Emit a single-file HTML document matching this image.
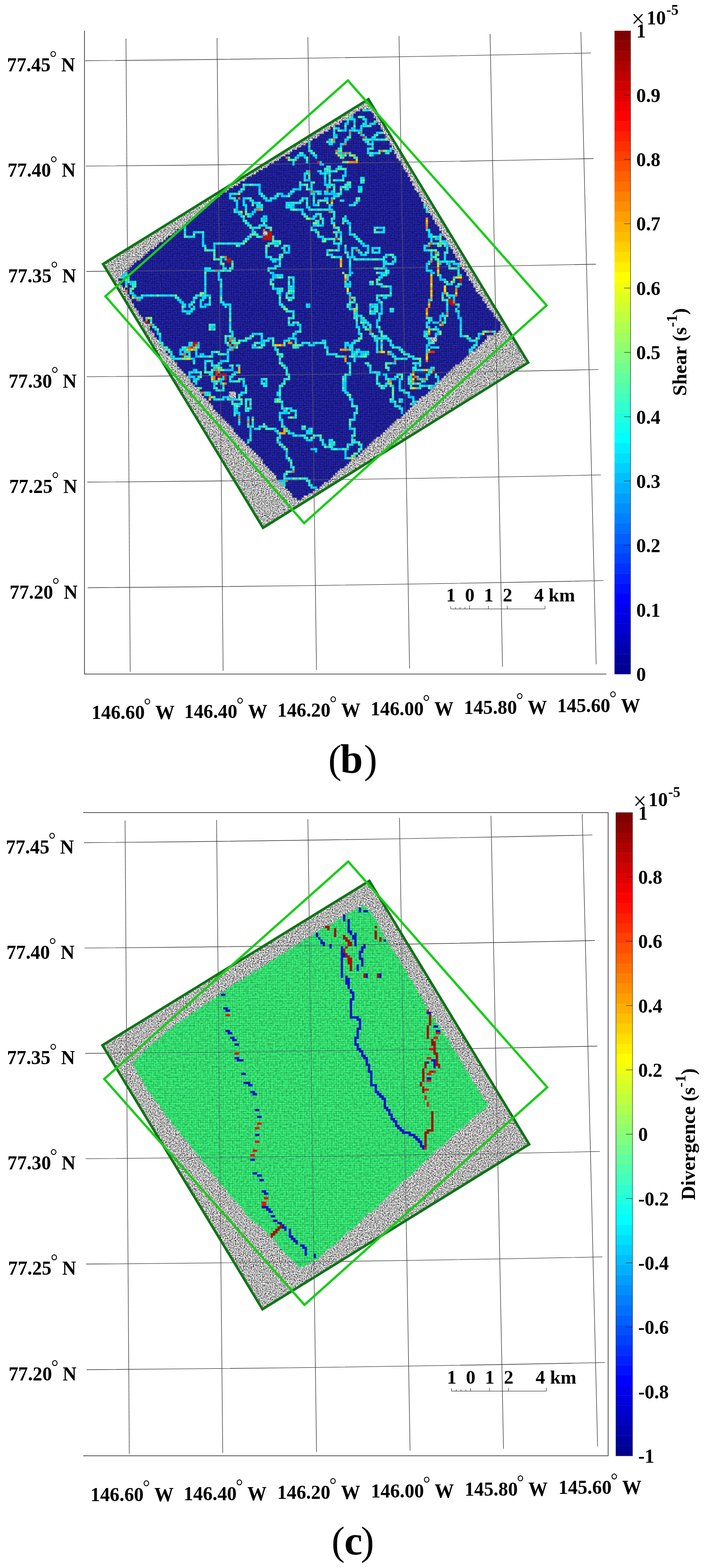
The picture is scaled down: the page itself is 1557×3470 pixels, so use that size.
<!DOCTYPE html>
<html lang="en"><head><meta charset="utf-8"><title>Sea ice shear and divergence maps</title>
<style>html,body{margin:0;padding:0;background:#fff}body{width:1557px;height:3470px;overflow:hidden}svg{display:block}text{font-family:"Liberation Serif", "DejaVu Serif", serif;fill:#000}</style>
</head><body>
<svg width="1557" height="3470" viewBox="0 0 1557 3470">
<defs>
<filter id="sar" x="0" y="0" width="100%" height="100%" color-interpolation-filters="sRGB"><feTurbulence type="fractalNoise" baseFrequency="0.4" numOctaves="3" seed="7" result="n"/><feColorMatrix in="n" type="matrix" values="1.3 1.3 0 0 -0.6  1.3 1.3 0 0 -0.6  1.3 1.3 0 0 -0.6  0 0 0 0 1"/><feComposite in2="SourceGraphic" operator="in"/></filter>
<filter id="tex-b" x="0" y="0" width="100%" height="100%" color-interpolation-filters="sRGB"><feTurbulence type="fractalNoise" baseFrequency="0.3" numOctaves="2" seed="11" result="n"/><feColorMatrix in="n" type="matrix" values="0 0 0 0 0  0 0 0 0 0  0 0 0 0 0  0.85 0 0 0 -0.27"/><feComposite in2="SourceGraphic" operator="in"/></filter>
<filter id="tex-c" x="0" y="0" width="100%" height="100%" color-interpolation-filters="sRGB"><feTurbulence type="fractalNoise" baseFrequency="0.22" numOctaves="2" seed="11" result="n"/><feColorMatrix in="n" type="matrix" values="0 0 0 0 0  0 0 0 0 0  0 0 0 0 0  0.55 0 0 0 -0.19"/><feComposite in2="SourceGraphic" operator="in"/></filter>
<pattern id="grid-b" x="1.6" y="1.6" width="5" height="5" patternUnits="userSpaceOnUse"><path d="M0 0.5H5M0.5 0V5" stroke="#00005a" stroke-opacity="0.45" stroke-width="1" fill="none"/></pattern>
<pattern id="grid-c" x="3.6" y="4.0" width="5" height="5" patternUnits="userSpaceOnUse"><path d="M0 0.5H5M0.5 0V5" stroke="#0a6a34" stroke-opacity="0.32" stroke-width="1" fill="none"/></pattern>
</defs>
<rect width="1557" height="3470" fill="#fff"/>
<g id="panel-b">
<g stroke="#262626" stroke-width="1.1" fill="none"><line x1="278.6" y1="85.3" x2="288" y2="1486.8"/><line x1="480" y1="84.3" x2="493.5" y2="1484.8"/><line x1="680.9" y1="82.2" x2="700" y2="1482.7"/><line x1="882.5" y1="79.6" x2="905.8" y2="1479.6"/><line x1="1083.9" y1="74.9" x2="1111.4" y2="1475.4"/><line x1="1284.7" y1="70.8" x2="1318.5" y2="1470.2"/><path d="M188.4 134.4Q747.7 129.8 1307 117.3"/><path d="M189.5 367.5Q751 363.2 1312.5 350.9"/><path d="M190.7 600.6Q754.2 596.6 1317.8 584.6"/><path d="M191.8 833.7Q757.6 829.8 1323.5 817.8"/><path d="M193 1066.9Q761 1063 1329 1051"/><path d="M194.1 1300.6Q764.3 1296.7 1334.5 1284.8"/></g>
<polygon points="814.8,219.5 1168.2,802.4 581.7,1168 228,584.3" fill="#d8d8d8"/>
<polygon points="814.8,219.5 1168.2,802.4 581.7,1168 228,584.3" fill="#fff" filter="url(#sar)"/>
<clipPath id="clip-sar-b"><polygon points="814.8,219.5 1168.2,802.4 581.7,1168 228,584.3"/></clipPath>
<g stroke="#303030" stroke-opacity="0.7" stroke-width="1" fill="none" clip-path="url(#clip-sar-b)"><line x1="278.6" y1="85.3" x2="288" y2="1486.8"/><line x1="480" y1="84.3" x2="493.5" y2="1484.8"/><line x1="680.9" y1="82.2" x2="700" y2="1482.7"/><line x1="882.5" y1="79.6" x2="905.8" y2="1479.6"/><line x1="1083.9" y1="74.9" x2="1111.4" y2="1475.4"/><line x1="1284.7" y1="70.8" x2="1318.5" y2="1470.2"/><path d="M188.4 134.4Q747.7 129.8 1307 117.3"/><path d="M189.5 367.5Q751 363.2 1312.5 350.9"/><path d="M190.7 600.6Q754.2 596.6 1317.8 584.6"/><path d="M191.8 833.7Q757.6 829.8 1323.5 817.8"/><path d="M193 1066.9Q761 1063 1329 1051"/><path d="M194.1 1300.6Q764.3 1296.7 1334.5 1284.8"/></g>
<path d="M796.6 241.6h20.0v5.0h-20.0zM786.6 246.6h35.0v5.0h-35.0zM781.6 251.6h45.0v5.0h-45.0zM771.6 256.6h55.0v5.0h-55.0zM766.6 261.6h65.0v5.0h-65.0zM756.6 266.6h75.0v5.0h-75.0zM751.6 271.6h85.0v5.0h-85.0zM741.6 276.6h100.0v5.0h-100.0zM731.6 281.6h110.0v5.0h-110.0zM726.6 286.6h120.0v5.0h-120.0zM716.6 291.6h130.0v5.0h-130.0zM706.6 296.6h145.0v5.0h-145.0zM701.6 301.6h150.0v5.0h-150.0zM691.6 306.6h165.0v5.0h-165.0zM681.6 311.6h180.0v5.0h-180.0zM676.6 316.6h185.0v5.0h-185.0zM666.6 321.6h200.0v5.0h-200.0zM656.6 326.6h210.0v5.0h-210.0zM646.6 331.6h225.0v5.0h-225.0zM641.6 336.6h230.0v5.0h-230.0zM631.6 341.6h245.0v5.0h-245.0zM621.6 346.6h255.0v5.0h-255.0zM616.6 351.6h265.0v5.0h-265.0zM606.6 356.6h280.0v5.0h-280.0zM596.6 361.6h290.0v5.0h-290.0zM591.6 366.6h300.0v5.0h-300.0zM581.6 371.6h310.0v5.0h-310.0zM571.6 376.6h325.0v5.0h-325.0zM566.6 381.6h335.0v5.0h-335.0zM556.6 386.6h345.0v5.0h-345.0zM546.6 391.6h360.0v5.0h-360.0zM541.6 396.6h365.0v5.0h-365.0zM531.6 401.6h380.0v5.0h-380.0zM526.6 406.6h385.0v5.0h-385.0zM516.6 411.6h400.0v5.0h-400.0zM506.6 416.6h410.0v5.0h-410.0zM501.6 421.6h420.0v5.0h-420.0zM491.6 426.6h435.0v5.0h-435.0zM486.6 431.6h440.0v5.0h-440.0zM476.6 436.6h455.0v5.0h-455.0zM471.6 441.6h460.0v5.0h-460.0zM466.6 446.6h470.0v5.0h-470.0zM461.6 451.6h480.0v5.0h-480.0zM456.6 456.6h485.0v5.0h-485.0zM446.6 461.6h500.0v5.0h-500.0zM441.6 466.6h505.0v5.0h-505.0zM436.6 471.6h515.0v5.0h-515.0zM431.6 476.6h525.0v5.0h-525.0zM426.6 481.6h530.0v5.0h-530.0zM416.6 486.6h545.0v5.0h-545.0zM411.6 491.6h550.0v5.0h-550.0zM406.6 496.6h560.0v5.0h-560.0zM401.6 501.6h570.0v5.0h-570.0zM391.6 506.6h580.0v5.0h-580.0zM386.6 511.6h590.0v5.0h-590.0zM381.6 516.6h595.0v5.0h-595.0zM371.6 521.6h610.0v5.0h-610.0zM366.6 526.6h620.0v5.0h-620.0zM361.6 531.6h625.0v5.0h-625.0zM351.6 536.6h640.0v5.0h-640.0zM346.6 541.6h645.0v5.0h-645.0zM341.6 546.6h655.0v5.0h-655.0zM331.6 551.6h670.0v5.0h-670.0zM326.6 556.6h675.0v5.0h-675.0zM321.6 561.6h685.0v5.0h-685.0zM316.6 566.6h690.0v5.0h-690.0zM311.6 571.6h700.0v5.0h-700.0zM301.6 576.6h715.0v5.0h-715.0zM296.6 581.6h720.0v5.0h-720.0zM291.6 586.6h730.0v5.0h-730.0zM286.6 591.6h735.0v5.0h-735.0zM281.6 596.6h745.0v5.0h-745.0zM276.6 601.6h755.0v5.0h-755.0zM271.6 606.6h760.0v5.0h-760.0zM266.6 611.6h770.0v5.0h-770.0zM261.6 616.6h775.0v5.0h-775.0zM266.6 621.6h775.0v5.0h-775.0zM266.6 626.6h780.0v5.0h-780.0zM271.6 631.6h775.0v5.0h-775.0zM276.6 636.6h775.0v5.0h-775.0zM276.6 641.6h775.0v5.0h-775.0zM281.6 646.6h775.0v5.0h-775.0zM286.6 651.6h775.0v5.0h-775.0zM286.6 656.6h780.0v5.0h-780.0zM291.6 661.6h775.0v5.0h-775.0zM291.6 666.6h780.0v5.0h-780.0zM296.6 671.6h780.0v5.0h-780.0zM296.6 676.6h780.0v5.0h-780.0zM301.6 681.6h780.0v5.0h-780.0zM306.6 686.6h780.0v5.0h-780.0zM306.6 691.6h785.0v5.0h-785.0zM311.6 696.6h780.0v5.0h-780.0zM316.6 701.6h780.0v5.0h-780.0zM316.6 706.6h785.0v5.0h-785.0zM321.6 711.6h785.0v5.0h-785.0zM326.6 716.6h780.0v5.0h-780.0zM331.6 721.6h775.0v5.0h-775.0zM331.6 726.6h775.0v5.0h-775.0zM336.6 731.6h765.0v5.0h-765.0zM341.6 736.6h750.0v5.0h-750.0zM341.6 741.6h735.0v5.0h-735.0zM346.6 746.6h730.0v5.0h-730.0zM351.6 751.6h720.0v5.0h-720.0zM351.6 756.6h715.0v5.0h-715.0zM356.6 761.6h705.0v5.0h-705.0zM361.6 766.6h695.0v5.0h-695.0zM366.6 771.6h685.0v5.0h-685.0zM366.6 776.6h675.0v5.0h-675.0zM371.6 781.6h665.0v5.0h-665.0zM376.6 786.6h655.0v5.0h-655.0zM381.6 791.6h645.0v5.0h-645.0zM386.6 796.6h635.0v5.0h-635.0zM391.6 801.6h625.0v5.0h-625.0zM391.6 806.6h615.0v5.0h-615.0zM396.6 811.6h605.0v5.0h-605.0zM401.6 816.6h595.0v5.0h-595.0zM406.6 821.6h585.0v5.0h-585.0zM411.6 826.6h575.0v5.0h-575.0zM416.6 831.6h565.0v5.0h-565.0zM421.6 836.6h555.0v5.0h-555.0zM421.6 841.6h550.0v5.0h-550.0zM426.6 846.6h540.0v5.0h-540.0zM431.6 851.6h530.0v5.0h-530.0zM436.6 856.6h520.0v5.0h-520.0zM441.6 861.6h510.0v5.0h-510.0zM446.6 866.6h500.0v5.0h-500.0zM446.6 871.6h495.0v5.0h-495.0zM451.6 876.6h480.0v5.0h-480.0zM456.6 881.6h470.0v5.0h-470.0zM461.6 886.6h460.0v5.0h-460.0zM466.6 891.6h450.0v5.0h-450.0zM471.6 896.6h440.0v5.0h-440.0zM471.6 901.6h435.0v5.0h-435.0zM476.6 906.6h425.0v5.0h-425.0zM481.6 911.6h415.0v5.0h-415.0zM486.6 916.6h405.0v5.0h-405.0zM491.6 921.6h395.0v5.0h-395.0zM496.6 926.6h380.0v5.0h-380.0zM501.6 931.6h370.0v5.0h-370.0zM506.6 936.6h360.0v5.0h-360.0zM511.6 941.6h350.0v5.0h-350.0zM516.6 946.6h340.0v5.0h-340.0zM516.6 951.6h335.0v5.0h-335.0zM521.6 956.6h325.0v5.0h-325.0zM526.6 961.6h315.0v5.0h-315.0zM531.6 966.6h300.0v5.0h-300.0zM536.6 971.6h290.0v5.0h-290.0zM541.6 976.6h280.0v5.0h-280.0zM546.6 981.6h270.0v5.0h-270.0zM551.6 986.6h260.0v5.0h-260.0zM556.6 991.6h250.0v5.0h-250.0zM561.6 996.6h240.0v5.0h-240.0zM566.6 1001.6h230.0v5.0h-230.0zM571.6 1006.6h220.0v5.0h-220.0zM576.6 1011.6h205.0v5.0h-205.0zM581.6 1016.6h195.0v5.0h-195.0zM581.6 1021.6h190.0v5.0h-190.0zM586.6 1026.6h180.0v5.0h-180.0zM591.6 1031.6h170.0v5.0h-170.0zM596.6 1036.6h155.0v5.0h-155.0zM601.6 1041.6h145.0v5.0h-145.0zM606.6 1046.6h135.0v5.0h-135.0zM611.6 1051.6h125.0v5.0h-125.0zM611.6 1056.6h120.0v5.0h-120.0zM616.6 1061.6h110.0v5.0h-110.0zM621.6 1066.6h95.0v5.0h-95.0zM626.6 1071.6h85.0v5.0h-85.0zM631.6 1076.6h75.0v5.0h-75.0zM636.6 1081.6h60.0v5.0h-60.0zM641.6 1086.6h50.0v5.0h-50.0zM646.6 1091.6h35.0v5.0h-35.0zM646.6 1096.6h25.0v5.0h-25.0zM656.6 1101.6h10.0v5.0h-10.0z" fill="#2a2abc"/>
<path d="M796.6 241.6h20.0v5.0h-20.0zM786.6 246.6h35.0v5.0h-35.0zM781.6 251.6h45.0v5.0h-45.0zM771.6 256.6h55.0v5.0h-55.0zM766.6 261.6h65.0v5.0h-65.0zM756.6 266.6h75.0v5.0h-75.0zM751.6 271.6h85.0v5.0h-85.0zM741.6 276.6h100.0v5.0h-100.0zM731.6 281.6h110.0v5.0h-110.0zM726.6 286.6h120.0v5.0h-120.0zM716.6 291.6h130.0v5.0h-130.0zM706.6 296.6h145.0v5.0h-145.0zM701.6 301.6h150.0v5.0h-150.0zM691.6 306.6h165.0v5.0h-165.0zM681.6 311.6h180.0v5.0h-180.0zM676.6 316.6h185.0v5.0h-185.0zM666.6 321.6h200.0v5.0h-200.0zM656.6 326.6h210.0v5.0h-210.0zM646.6 331.6h225.0v5.0h-225.0zM641.6 336.6h230.0v5.0h-230.0zM631.6 341.6h245.0v5.0h-245.0zM621.6 346.6h255.0v5.0h-255.0zM616.6 351.6h265.0v5.0h-265.0zM606.6 356.6h280.0v5.0h-280.0zM596.6 361.6h290.0v5.0h-290.0zM591.6 366.6h300.0v5.0h-300.0zM581.6 371.6h310.0v5.0h-310.0zM571.6 376.6h325.0v5.0h-325.0zM566.6 381.6h335.0v5.0h-335.0zM556.6 386.6h345.0v5.0h-345.0zM546.6 391.6h360.0v5.0h-360.0zM541.6 396.6h365.0v5.0h-365.0zM531.6 401.6h380.0v5.0h-380.0zM526.6 406.6h385.0v5.0h-385.0zM516.6 411.6h400.0v5.0h-400.0zM506.6 416.6h410.0v5.0h-410.0zM501.6 421.6h420.0v5.0h-420.0zM491.6 426.6h435.0v5.0h-435.0zM486.6 431.6h440.0v5.0h-440.0zM476.6 436.6h455.0v5.0h-455.0zM471.6 441.6h460.0v5.0h-460.0zM466.6 446.6h470.0v5.0h-470.0zM461.6 451.6h480.0v5.0h-480.0zM456.6 456.6h485.0v5.0h-485.0zM446.6 461.6h500.0v5.0h-500.0zM441.6 466.6h505.0v5.0h-505.0zM436.6 471.6h515.0v5.0h-515.0zM431.6 476.6h525.0v5.0h-525.0zM426.6 481.6h530.0v5.0h-530.0zM416.6 486.6h545.0v5.0h-545.0zM411.6 491.6h550.0v5.0h-550.0zM406.6 496.6h560.0v5.0h-560.0zM401.6 501.6h570.0v5.0h-570.0zM391.6 506.6h580.0v5.0h-580.0zM386.6 511.6h590.0v5.0h-590.0zM381.6 516.6h595.0v5.0h-595.0zM371.6 521.6h610.0v5.0h-610.0zM366.6 526.6h620.0v5.0h-620.0zM361.6 531.6h625.0v5.0h-625.0zM351.6 536.6h640.0v5.0h-640.0zM346.6 541.6h645.0v5.0h-645.0zM341.6 546.6h655.0v5.0h-655.0zM331.6 551.6h670.0v5.0h-670.0zM326.6 556.6h675.0v5.0h-675.0zM321.6 561.6h685.0v5.0h-685.0zM316.6 566.6h690.0v5.0h-690.0zM311.6 571.6h700.0v5.0h-700.0zM301.6 576.6h715.0v5.0h-715.0zM296.6 581.6h720.0v5.0h-720.0zM291.6 586.6h730.0v5.0h-730.0zM286.6 591.6h735.0v5.0h-735.0zM281.6 596.6h745.0v5.0h-745.0zM276.6 601.6h755.0v5.0h-755.0zM271.6 606.6h760.0v5.0h-760.0zM266.6 611.6h770.0v5.0h-770.0zM261.6 616.6h775.0v5.0h-775.0zM266.6 621.6h775.0v5.0h-775.0zM266.6 626.6h780.0v5.0h-780.0zM271.6 631.6h775.0v5.0h-775.0zM276.6 636.6h775.0v5.0h-775.0zM276.6 641.6h775.0v5.0h-775.0zM281.6 646.6h775.0v5.0h-775.0zM286.6 651.6h775.0v5.0h-775.0zM286.6 656.6h780.0v5.0h-780.0zM291.6 661.6h775.0v5.0h-775.0zM291.6 666.6h780.0v5.0h-780.0zM296.6 671.6h780.0v5.0h-780.0zM296.6 676.6h780.0v5.0h-780.0zM301.6 681.6h780.0v5.0h-780.0zM306.6 686.6h780.0v5.0h-780.0zM306.6 691.6h785.0v5.0h-785.0zM311.6 696.6h780.0v5.0h-780.0zM316.6 701.6h780.0v5.0h-780.0zM316.6 706.6h785.0v5.0h-785.0zM321.6 711.6h785.0v5.0h-785.0zM326.6 716.6h780.0v5.0h-780.0zM331.6 721.6h775.0v5.0h-775.0zM331.6 726.6h775.0v5.0h-775.0zM336.6 731.6h765.0v5.0h-765.0zM341.6 736.6h750.0v5.0h-750.0zM341.6 741.6h735.0v5.0h-735.0zM346.6 746.6h730.0v5.0h-730.0zM351.6 751.6h720.0v5.0h-720.0zM351.6 756.6h715.0v5.0h-715.0zM356.6 761.6h705.0v5.0h-705.0zM361.6 766.6h695.0v5.0h-695.0zM366.6 771.6h685.0v5.0h-685.0zM366.6 776.6h675.0v5.0h-675.0zM371.6 781.6h665.0v5.0h-665.0zM376.6 786.6h655.0v5.0h-655.0zM381.6 791.6h645.0v5.0h-645.0zM386.6 796.6h635.0v5.0h-635.0zM391.6 801.6h625.0v5.0h-625.0zM391.6 806.6h615.0v5.0h-615.0zM396.6 811.6h605.0v5.0h-605.0zM401.6 816.6h595.0v5.0h-595.0zM406.6 821.6h585.0v5.0h-585.0zM411.6 826.6h575.0v5.0h-575.0zM416.6 831.6h565.0v5.0h-565.0zM421.6 836.6h555.0v5.0h-555.0zM421.6 841.6h550.0v5.0h-550.0zM426.6 846.6h540.0v5.0h-540.0zM431.6 851.6h530.0v5.0h-530.0zM436.6 856.6h520.0v5.0h-520.0zM441.6 861.6h510.0v5.0h-510.0zM446.6 866.6h500.0v5.0h-500.0zM446.6 871.6h495.0v5.0h-495.0zM451.6 876.6h480.0v5.0h-480.0zM456.6 881.6h470.0v5.0h-470.0zM461.6 886.6h460.0v5.0h-460.0zM466.6 891.6h450.0v5.0h-450.0zM471.6 896.6h440.0v5.0h-440.0zM471.6 901.6h435.0v5.0h-435.0zM476.6 906.6h425.0v5.0h-425.0zM481.6 911.6h415.0v5.0h-415.0zM486.6 916.6h405.0v5.0h-405.0zM491.6 921.6h395.0v5.0h-395.0zM496.6 926.6h380.0v5.0h-380.0zM501.6 931.6h370.0v5.0h-370.0zM506.6 936.6h360.0v5.0h-360.0zM511.6 941.6h350.0v5.0h-350.0zM516.6 946.6h340.0v5.0h-340.0zM516.6 951.6h335.0v5.0h-335.0zM521.6 956.6h325.0v5.0h-325.0zM526.6 961.6h315.0v5.0h-315.0zM531.6 966.6h300.0v5.0h-300.0zM536.6 971.6h290.0v5.0h-290.0zM541.6 976.6h280.0v5.0h-280.0zM546.6 981.6h270.0v5.0h-270.0zM551.6 986.6h260.0v5.0h-260.0zM556.6 991.6h250.0v5.0h-250.0zM561.6 996.6h240.0v5.0h-240.0zM566.6 1001.6h230.0v5.0h-230.0zM571.6 1006.6h220.0v5.0h-220.0zM576.6 1011.6h205.0v5.0h-205.0zM581.6 1016.6h195.0v5.0h-195.0zM581.6 1021.6h190.0v5.0h-190.0zM586.6 1026.6h180.0v5.0h-180.0zM591.6 1031.6h170.0v5.0h-170.0zM596.6 1036.6h155.0v5.0h-155.0zM601.6 1041.6h145.0v5.0h-145.0zM606.6 1046.6h135.0v5.0h-135.0zM611.6 1051.6h125.0v5.0h-125.0zM611.6 1056.6h120.0v5.0h-120.0zM616.6 1061.6h110.0v5.0h-110.0zM621.6 1066.6h95.0v5.0h-95.0zM626.6 1071.6h85.0v5.0h-85.0zM631.6 1076.6h75.0v5.0h-75.0zM636.6 1081.6h60.0v5.0h-60.0zM641.6 1086.6h50.0v5.0h-50.0zM646.6 1091.6h35.0v5.0h-35.0zM646.6 1096.6h25.0v5.0h-25.0zM656.6 1101.6h10.0v5.0h-10.0z" fill="url(#grid-b)"/>
<path d="M796.6 241.6h20.0v5.0h-20.0zM786.6 246.6h35.0v5.0h-35.0zM781.6 251.6h45.0v5.0h-45.0zM771.6 256.6h55.0v5.0h-55.0zM766.6 261.6h65.0v5.0h-65.0zM756.6 266.6h75.0v5.0h-75.0zM751.6 271.6h85.0v5.0h-85.0zM741.6 276.6h100.0v5.0h-100.0zM731.6 281.6h110.0v5.0h-110.0zM726.6 286.6h120.0v5.0h-120.0zM716.6 291.6h130.0v5.0h-130.0zM706.6 296.6h145.0v5.0h-145.0zM701.6 301.6h150.0v5.0h-150.0zM691.6 306.6h165.0v5.0h-165.0zM681.6 311.6h180.0v5.0h-180.0zM676.6 316.6h185.0v5.0h-185.0zM666.6 321.6h200.0v5.0h-200.0zM656.6 326.6h210.0v5.0h-210.0zM646.6 331.6h225.0v5.0h-225.0zM641.6 336.6h230.0v5.0h-230.0zM631.6 341.6h245.0v5.0h-245.0zM621.6 346.6h255.0v5.0h-255.0zM616.6 351.6h265.0v5.0h-265.0zM606.6 356.6h280.0v5.0h-280.0zM596.6 361.6h290.0v5.0h-290.0zM591.6 366.6h300.0v5.0h-300.0zM581.6 371.6h310.0v5.0h-310.0zM571.6 376.6h325.0v5.0h-325.0zM566.6 381.6h335.0v5.0h-335.0zM556.6 386.6h345.0v5.0h-345.0zM546.6 391.6h360.0v5.0h-360.0zM541.6 396.6h365.0v5.0h-365.0zM531.6 401.6h380.0v5.0h-380.0zM526.6 406.6h385.0v5.0h-385.0zM516.6 411.6h400.0v5.0h-400.0zM506.6 416.6h410.0v5.0h-410.0zM501.6 421.6h420.0v5.0h-420.0zM491.6 426.6h435.0v5.0h-435.0zM486.6 431.6h440.0v5.0h-440.0zM476.6 436.6h455.0v5.0h-455.0zM471.6 441.6h460.0v5.0h-460.0zM466.6 446.6h470.0v5.0h-470.0zM461.6 451.6h480.0v5.0h-480.0zM456.6 456.6h485.0v5.0h-485.0zM446.6 461.6h500.0v5.0h-500.0zM441.6 466.6h505.0v5.0h-505.0zM436.6 471.6h515.0v5.0h-515.0zM431.6 476.6h525.0v5.0h-525.0zM426.6 481.6h530.0v5.0h-530.0zM416.6 486.6h545.0v5.0h-545.0zM411.6 491.6h550.0v5.0h-550.0zM406.6 496.6h560.0v5.0h-560.0zM401.6 501.6h570.0v5.0h-570.0zM391.6 506.6h580.0v5.0h-580.0zM386.6 511.6h590.0v5.0h-590.0zM381.6 516.6h595.0v5.0h-595.0zM371.6 521.6h610.0v5.0h-610.0zM366.6 526.6h620.0v5.0h-620.0zM361.6 531.6h625.0v5.0h-625.0zM351.6 536.6h640.0v5.0h-640.0zM346.6 541.6h645.0v5.0h-645.0zM341.6 546.6h655.0v5.0h-655.0zM331.6 551.6h670.0v5.0h-670.0zM326.6 556.6h675.0v5.0h-675.0zM321.6 561.6h685.0v5.0h-685.0zM316.6 566.6h690.0v5.0h-690.0zM311.6 571.6h700.0v5.0h-700.0zM301.6 576.6h715.0v5.0h-715.0zM296.6 581.6h720.0v5.0h-720.0zM291.6 586.6h730.0v5.0h-730.0zM286.6 591.6h735.0v5.0h-735.0zM281.6 596.6h745.0v5.0h-745.0zM276.6 601.6h755.0v5.0h-755.0zM271.6 606.6h760.0v5.0h-760.0zM266.6 611.6h770.0v5.0h-770.0zM261.6 616.6h775.0v5.0h-775.0zM266.6 621.6h775.0v5.0h-775.0zM266.6 626.6h780.0v5.0h-780.0zM271.6 631.6h775.0v5.0h-775.0zM276.6 636.6h775.0v5.0h-775.0zM276.6 641.6h775.0v5.0h-775.0zM281.6 646.6h775.0v5.0h-775.0zM286.6 651.6h775.0v5.0h-775.0zM286.6 656.6h780.0v5.0h-780.0zM291.6 661.6h775.0v5.0h-775.0zM291.6 666.6h780.0v5.0h-780.0zM296.6 671.6h780.0v5.0h-780.0zM296.6 676.6h780.0v5.0h-780.0zM301.6 681.6h780.0v5.0h-780.0zM306.6 686.6h780.0v5.0h-780.0zM306.6 691.6h785.0v5.0h-785.0zM311.6 696.6h780.0v5.0h-780.0zM316.6 701.6h780.0v5.0h-780.0zM316.6 706.6h785.0v5.0h-785.0zM321.6 711.6h785.0v5.0h-785.0zM326.6 716.6h780.0v5.0h-780.0zM331.6 721.6h775.0v5.0h-775.0zM331.6 726.6h775.0v5.0h-775.0zM336.6 731.6h765.0v5.0h-765.0zM341.6 736.6h750.0v5.0h-750.0zM341.6 741.6h735.0v5.0h-735.0zM346.6 746.6h730.0v5.0h-730.0zM351.6 751.6h720.0v5.0h-720.0zM351.6 756.6h715.0v5.0h-715.0zM356.6 761.6h705.0v5.0h-705.0zM361.6 766.6h695.0v5.0h-695.0zM366.6 771.6h685.0v5.0h-685.0zM366.6 776.6h675.0v5.0h-675.0zM371.6 781.6h665.0v5.0h-665.0zM376.6 786.6h655.0v5.0h-655.0zM381.6 791.6h645.0v5.0h-645.0zM386.6 796.6h635.0v5.0h-635.0zM391.6 801.6h625.0v5.0h-625.0zM391.6 806.6h615.0v5.0h-615.0zM396.6 811.6h605.0v5.0h-605.0zM401.6 816.6h595.0v5.0h-595.0zM406.6 821.6h585.0v5.0h-585.0zM411.6 826.6h575.0v5.0h-575.0zM416.6 831.6h565.0v5.0h-565.0zM421.6 836.6h555.0v5.0h-555.0zM421.6 841.6h550.0v5.0h-550.0zM426.6 846.6h540.0v5.0h-540.0zM431.6 851.6h530.0v5.0h-530.0zM436.6 856.6h520.0v5.0h-520.0zM441.6 861.6h510.0v5.0h-510.0zM446.6 866.6h500.0v5.0h-500.0zM446.6 871.6h495.0v5.0h-495.0zM451.6 876.6h480.0v5.0h-480.0zM456.6 881.6h470.0v5.0h-470.0zM461.6 886.6h460.0v5.0h-460.0zM466.6 891.6h450.0v5.0h-450.0zM471.6 896.6h440.0v5.0h-440.0zM471.6 901.6h435.0v5.0h-435.0zM476.6 906.6h425.0v5.0h-425.0zM481.6 911.6h415.0v5.0h-415.0zM486.6 916.6h405.0v5.0h-405.0zM491.6 921.6h395.0v5.0h-395.0zM496.6 926.6h380.0v5.0h-380.0zM501.6 931.6h370.0v5.0h-370.0zM506.6 936.6h360.0v5.0h-360.0zM511.6 941.6h350.0v5.0h-350.0zM516.6 946.6h340.0v5.0h-340.0zM516.6 951.6h335.0v5.0h-335.0zM521.6 956.6h325.0v5.0h-325.0zM526.6 961.6h315.0v5.0h-315.0zM531.6 966.6h300.0v5.0h-300.0zM536.6 971.6h290.0v5.0h-290.0zM541.6 976.6h280.0v5.0h-280.0zM546.6 981.6h270.0v5.0h-270.0zM551.6 986.6h260.0v5.0h-260.0zM556.6 991.6h250.0v5.0h-250.0zM561.6 996.6h240.0v5.0h-240.0zM566.6 1001.6h230.0v5.0h-230.0zM571.6 1006.6h220.0v5.0h-220.0zM576.6 1011.6h205.0v5.0h-205.0zM581.6 1016.6h195.0v5.0h-195.0zM581.6 1021.6h190.0v5.0h-190.0zM586.6 1026.6h180.0v5.0h-180.0zM591.6 1031.6h170.0v5.0h-170.0zM596.6 1036.6h155.0v5.0h-155.0zM601.6 1041.6h145.0v5.0h-145.0zM606.6 1046.6h135.0v5.0h-135.0zM611.6 1051.6h125.0v5.0h-125.0zM611.6 1056.6h120.0v5.0h-120.0zM616.6 1061.6h110.0v5.0h-110.0zM621.6 1066.6h95.0v5.0h-95.0zM626.6 1071.6h85.0v5.0h-85.0zM631.6 1076.6h75.0v5.0h-75.0zM636.6 1081.6h60.0v5.0h-60.0zM641.6 1086.6h50.0v5.0h-50.0zM646.6 1091.6h35.0v5.0h-35.0zM646.6 1096.6h25.0v5.0h-25.0zM656.6 1101.6h10.0v5.0h-10.0z" fill="#000" filter="url(#tex-b)"/>
<g id="shear-features"><path fill="#00ccff" d="M766.6 271.6h5v5h-5zM781.6 271.6h5v5h-5zM816.6 271.6h5v5h-5zM746.6 281.6h5v5h-5zM781.6 281.6h5v5h-5zM756.6 286.6h5v5h-5zM791.6 286.6h5v5h-5zM741.6 296.6h5v5h-5zM796.6 296.6h5v5h-5zM766.6 306.6h5v5h-5zM821.6 311.6h5v5h-5zM706.6 361.6h5v5h-5zM741.6 371.6h5v5h-5zM701.6 376.6h5v5h-5zM721.6 381.6h5v5h-5zM676.6 396.6h10v5h-10zM716.6 401.6h5v5h-5zM571.6 411.6h5v5h-5zM656.6 416.6h5v5h-5zM761.6 416.6h5v5h-5zM691.6 421.6h5v5h-5zM706.6 421.6h5v5h-5zM731.6 421.6h5v5h-5zM621.6 426.6h5v5h-5zM641.6 426.6h5v5h-5zM731.6 426.6h5v5h-5zM741.6 426.6h5v5h-5zM621.6 431.6h10v5h-10zM671.6 436.6h5v5h-5zM791.6 441.6h5v5h-5zM561.6 446.6h5v5h-5zM691.6 451.6h5v5h-5zM646.6 456.6h5v5h-5zM936.6 456.6h5v5h-5zM521.6 461.6h5v5h-5zM556.6 466.6h10v5h-10zM551.6 471.6h5v5h-5zM586.6 476.6h5v5h-5zM581.6 481.6h5v5h-5zM711.6 496.6h5v5h-5zM836.6 501.6h10v5h-10zM691.6 506.6h5v5h-5zM771.6 511.6h5v5h-5zM751.6 516.6h5v5h-5zM446.6 526.6h5v5h-5zM966.6 526.6h5v5h-5zM471.6 541.6h5v5h-5zM636.6 541.6h5v5h-5zM986.6 541.6h5v5h-5zM471.6 546.6h5v5h-5zM736.6 551.6h5v5h-5zM761.6 551.6h5v5h-5zM636.6 556.6h5v5h-5zM791.6 556.6h5v5h-5zM726.6 561.6h5v5h-5zM796.6 561.6h5v5h-5zM771.6 566.6h5v5h-5zM951.6 566.6h5v5h-5zM941.6 581.6h5v5h-5zM971.6 581.6h5v5h-5zM991.6 581.6h5v5h-5zM491.6 586.6h5v5h-5zM851.6 591.6h5v5h-5zM1011.6 591.6h5v5h-5zM481.6 596.6h5v5h-5zM601.6 601.6h5v5h-5zM776.6 601.6h5v5h-5zM601.6 606.6h5v5h-5zM481.6 611.6h5v5h-5zM606.6 611.6h5v5h-5zM1001.6 611.6h5v5h-5zM636.6 616.6h5v5h-5zM971.6 616.6h5v5h-5zM646.6 626.6h5v5h-5zM991.6 626.6h5v5h-5zM766.6 631.6h5v5h-5zM486.6 636.6h5v5h-5zM606.6 636.6h5v5h-5zM861.6 641.6h5v5h-5zM486.6 646.6h5v5h-5zM296.6 651.6h5v5h-5zM461.6 651.6h5v5h-5zM646.6 651.6h5v5h-5zM296.6 656.6h5v5h-5zM306.6 661.6h5v5h-5zM426.6 661.6h5v5h-5zM771.6 661.6h5v5h-5zM1001.6 661.6h5v5h-5zM781.6 666.6h5v5h-5zM836.6 666.6h5v5h-5zM451.6 671.6h5v5h-5zM681.6 671.6h5v5h-5zM821.6 671.6h5v5h-5zM451.6 676.6h5v5h-5zM771.6 676.6h5v5h-5zM816.6 676.6h5v5h-5zM841.6 676.6h5v5h-5zM1011.6 676.6h5v5h-5zM401.6 681.6h5v5h-5zM776.6 681.6h5v5h-5zM816.6 681.6h5v5h-5zM411.6 686.6h5v5h-5zM821.6 686.6h5v5h-5zM841.6 686.6h5v5h-5zM791.6 696.6h5v5h-5zM971.6 696.6h5v5h-5zM971.6 701.6h5v5h-5zM1011.6 701.6h5v5h-5zM506.6 711.6h5v5h-5zM961.6 711.6h10v5h-10zM1016.6 711.6h5v5h-5zM471.6 721.6h5v5h-5zM661.6 721.6h5v5h-5zM466.6 726.6h5v5h-5zM816.6 726.6h5v5h-5zM836.6 726.6h5v5h-5zM651.6 731.6h5v5h-5zM651.6 736.6h5v5h-5zM961.6 736.6h10v5h-10zM831.6 741.6h5v5h-5zM1021.6 741.6h5v5h-5zM351.6 746.6h5v5h-5zM506.6 746.6h5v5h-5zM596.6 746.6h5v5h-5zM576.6 751.6h5v5h-5zM626.6 751.6h5v5h-5zM826.6 751.6h5v5h-5zM1036.6 751.6h5v5h-5zM436.6 756.6h5v5h-5zM576.6 756.6h5v5h-5zM691.6 756.6h5v5h-5zM841.6 756.6h5v5h-5zM556.6 761.6h5v5h-5zM666.6 761.6h5v5h-5zM691.6 761.6h5v5h-5zM766.6 761.6h5v5h-5zM941.6 761.6h10v5h-10zM411.6 766.6h5v5h-5zM516.6 766.6h5v5h-5zM561.6 766.6h5v5h-5zM721.6 766.6h5v5h-5zM941.6 766.6h5v5h-5zM501.6 771.6h5v5h-5zM441.6 781.6h5v5h-5zM501.6 781.6h5v5h-5zM811.6 781.6h5v5h-5zM861.6 781.6h5v5h-5zM431.6 786.6h5v5h-5zM616.6 786.6h5v5h-5zM786.6 786.6h5v5h-5zM426.6 791.6h5v5h-5zM486.6 796.6h5v5h-5zM616.6 796.6h5v5h-5zM486.6 801.6h5v5h-5zM866.6 801.6h5v5h-5zM471.6 816.6h5v5h-5zM496.6 816.6h20v5h-20zM426.6 821.6h5v5h-5zM516.6 821.6h5v5h-5zM821.6 821.6h5v5h-5zM846.6 826.6h5v5h-5zM966.6 831.6h5v5h-5zM861.6 836.6h5v5h-5zM871.6 836.6h5v5h-5zM881.6 836.6h5v5h-5zM966.6 836.6h5v5h-5zM486.6 841.6h5v5h-5zM486.6 846.6h5v5h-5zM621.6 846.6h5v5h-5zM761.6 846.6h5v5h-5zM536.6 851.6h5v5h-5zM761.6 851.6h5v5h-5zM941.6 851.6h5v5h-5zM956.6 851.6h5v5h-5zM761.6 856.6h5v5h-5zM486.6 861.6h5v5h-5zM881.6 861.6h5v5h-5zM461.6 866.6h5v5h-5zM496.6 876.6h5v5h-5zM616.6 876.6h5v5h-5zM901.6 876.6h10v5h-10zM886.6 886.6h5v5h-5zM621.6 891.6h5v5h-5zM911.6 891.6h5v5h-5zM551.6 896.6h5v5h-5zM626.6 901.6h5v5h-5zM631.6 911.6h5v5h-5zM886.6 911.6h5v5h-5zM526.6 916.6h5v5h-5zM546.6 921.6h5v5h-5zM556.6 921.6h5v5h-5zM526.6 936.6h5v5h-5zM551.6 941.6h5v5h-5zM551.6 946.6h5v5h-5zM771.6 946.6h5v5h-5zM551.6 951.6h5v5h-5zM606.6 951.6h5v5h-5zM611.6 956.6h5v5h-5zM656.6 961.6h5v5h-5zM776.6 966.6h5v5h-5zM611.6 976.6h10v5h-10zM716.6 981.6h5v5h-5zM626.6 991.6h5v5h-5zM686.6 991.6h5v5h-5zM746.6 991.6h10v5h-10zM766.6 991.6h5v5h-5zM696.6 996.6h5v5h-5zM631.6 1001.6h5v5h-5zM761.6 1006.6h5v5h-5zM631.6 1011.6h5v5h-5zM641.6 1056.6h5v5h-5zM616.6 1061.6h10v5h-10zM696.6 1076.6h5v5h-5z"/>
<path fill="#00d8ff" d="M826.6 271.6h5v5h-5zM776.6 286.6h5v5h-5zM806.6 301.6h5v5h-5zM726.6 306.6h5v5h-5zM821.6 306.6h5v5h-5zM736.6 311.6h5v5h-5zM751.6 321.6h5v5h-5zM821.6 321.6h5v5h-5zM681.6 326.6h5v5h-5zM746.6 336.6h5v5h-5zM671.6 341.6h5v5h-5zM756.6 341.6h5v5h-5zM821.6 341.6h5v5h-5zM656.6 346.6h5v5h-5zM671.6 346.6h5v5h-5zM696.6 346.6h5v5h-5zM761.6 376.6h5v5h-5zM726.6 381.6h5v5h-5zM761.6 381.6h5v5h-5zM736.6 406.6h5v5h-5zM751.6 411.6h5v5h-5zM791.6 411.6h5v5h-5zM721.6 421.6h5v5h-5zM721.6 426.6h5v5h-5zM736.6 426.6h5v5h-5zM691.6 431.6h5v5h-5zM536.6 436.6h5v5h-5zM716.6 436.6h5v5h-5zM586.6 441.6h5v5h-5zM701.6 441.6h5v5h-5zM521.6 456.6h5v5h-5zM731.6 461.6h5v5h-5zM531.6 471.6h5v5h-5zM686.6 481.6h5v5h-5zM586.6 486.6h5v5h-5zM766.6 491.6h5v5h-5zM691.6 496.6h5v5h-5zM771.6 496.6h5v5h-5zM686.6 501.6h5v5h-5zM426.6 511.6h5v5h-5zM746.6 511.6h5v5h-5zM576.6 521.6h5v5h-5zM966.6 521.6h5v5h-5zM711.6 526.6h5v5h-5zM476.6 536.6h5v5h-5zM606.6 536.6h10v5h-10zM801.6 536.6h5v5h-5zM746.6 546.6h5v5h-5zM786.6 546.6h5v5h-5zM811.6 546.6h5v5h-5zM826.6 546.6h10v5h-10zM636.6 551.6h5v5h-5zM721.6 551.6h5v5h-5zM811.6 551.6h5v5h-5zM951.6 556.6h5v5h-5zM856.6 561.6h5v5h-5zM781.6 566.6h5v5h-5zM611.6 571.6h5v5h-5zM771.6 571.6h5v5h-5zM511.6 576.6h5v5h-5zM606.6 576.6h5v5h-5zM616.6 576.6h5v5h-5zM991.6 576.6h5v5h-5zM616.6 586.6h5v5h-5zM941.6 586.6h5v5h-5zM846.6 591.6h5v5h-5zM941.6 591.6h5v5h-5zM771.6 596.6h5v5h-5zM846.6 601.6h5v5h-5zM951.6 601.6h5v5h-5zM976.6 616.6h5v5h-5zM286.6 621.6h5v5h-5zM486.6 621.6h5v5h-5zM771.6 621.6h5v5h-5zM286.6 626.6h5v5h-5zM816.6 626.6h5v5h-5zM451.6 631.6h5v5h-5zM841.6 631.6h5v5h-5zM646.6 636.6h5v5h-5zM861.6 636.6h5v5h-5zM451.6 646.6h5v5h-5zM631.6 646.6h5v5h-5zM646.6 646.6h5v5h-5zM976.6 646.6h5v5h-5zM316.6 651.6h5v5h-5zM371.6 651.6h5v5h-5zM836.6 651.6h5v5h-5zM391.6 661.6h10v5h-10zM836.6 661.6h5v5h-5zM946.6 661.6h5v5h-5zM396.6 666.6h5v5h-5zM681.6 676.6h5v5h-5zM986.6 686.6h5v5h-5zM1011.6 691.6h5v5h-5zM1016.6 701.6h5v5h-5zM636.6 706.6h5v5h-5zM796.6 706.6h5v5h-5zM831.6 706.6h5v5h-5zM831.6 711.6h5v5h-5zM636.6 716.6h5v5h-5zM951.6 726.6h5v5h-5zM511.6 731.6h5v5h-5zM936.6 731.6h5v5h-5zM966.6 731.6h5v5h-5zM346.6 736.6h5v5h-5zM556.6 736.6h5v5h-5zM566.6 736.6h5v5h-5zM936.6 736.6h5v5h-5zM1061.6 736.6h5v5h-5zM1056.6 741.6h5v5h-5zM641.6 746.6h5v5h-5zM651.6 746.6h5v5h-5zM351.6 751.6h5v5h-5zM651.6 751.6h5v5h-5zM716.6 751.6h5v5h-5zM496.6 756.6h5v5h-5zM426.6 766.6h5v5h-5zM506.6 766.6h10v5h-10zM396.6 771.6h5v5h-5zM786.6 771.6h5v5h-5zM1041.6 771.6h5v5h-5zM376.6 776.6h5v5h-5zM396.6 776.6h5v5h-5zM781.6 776.6h5v5h-5zM791.6 776.6h5v5h-5zM801.6 776.6h5v5h-5zM861.6 776.6h5v5h-5zM466.6 781.6h5v5h-5zM496.6 781.6h5v5h-5zM796.6 781.6h5v5h-5zM866.6 781.6h5v5h-5zM376.6 786.6h5v5h-5zM466.6 796.6h5v5h-5zM451.6 806.6h5v5h-5zM426.6 816.6h5v5h-5zM436.6 821.6h5v5h-5zM766.6 826.6h5v5h-5zM416.6 831.6h5v5h-5zM426.6 836.6h5v5h-5zM536.6 836.6h5v5h-5zM576.6 836.6h5v5h-5zM481.6 841.6h5v5h-5zM471.6 846.6h5v5h-5zM916.6 846.6h5v5h-5zM491.6 851.6h5v5h-5zM846.6 851.6h5v5h-5zM921.6 856.6h5v5h-5zM476.6 861.6h5v5h-5zM506.6 881.6h10v5h-10zM776.6 886.6h5v5h-5zM866.6 886.6h5v5h-5zM916.6 886.6h5v5h-5zM526.6 896.6h5v5h-5zM881.6 896.6h5v5h-5zM641.6 901.6h5v5h-5zM521.6 906.6h5v5h-5zM651.6 911.6h5v5h-5zM781.6 921.6h5v5h-5zM616.6 926.6h5v5h-5zM606.6 946.6h5v5h-5zM681.6 946.6h5v5h-5zM641.6 956.6h5v5h-5zM686.6 956.6h5v5h-5zM546.6 971.6h5v5h-5zM676.6 971.6h5v5h-5zM621.6 986.6h5v5h-5zM731.6 991.6h5v5h-5zM761.6 1001.6h5v5h-5z"/>
<path fill="#00e4ff" d="M811.6 241.6h5v5h-5zM776.6 256.6h5v5h-5zM771.6 261.6h15v5h-15zM806.6 261.6h5v5h-5zM761.6 271.6h5v5h-5zM806.6 271.6h5v5h-5zM796.6 276.6h5v5h-5zM806.6 276.6h5v5h-5zM741.6 281.6h5v5h-5zM761.6 281.6h5v5h-5zM776.6 281.6h5v5h-5zM736.6 286.6h5v5h-5zM761.6 286.6h5v5h-5zM771.6 286.6h5v5h-5zM786.6 286.6h5v5h-5zM796.6 286.6h5v5h-5zM831.6 291.6h5v5h-5zM736.6 296.6h5v5h-5zM771.6 296.6h5v5h-5zM736.6 301.6h5v5h-5zM761.6 306.6h5v5h-5zM826.6 306.6h5v5h-5zM836.6 306.6h5v5h-5zM726.6 311.6h5v5h-5zM806.6 311.6h5v5h-5zM681.6 316.6h5v5h-5zM731.6 316.6h5v5h-5zM751.6 316.6h10v5h-10zM816.6 316.6h5v5h-5zM811.6 326.6h5v5h-5zM811.6 331.6h5v5h-5zM856.6 331.6h5v5h-5zM751.6 336.6h5v5h-5zM761.6 336.6h5v5h-5zM811.6 336.6h5v5h-5zM826.6 336.6h10v5h-10zM851.6 336.6h5v5h-5zM661.6 341.6h10v5h-10zM691.6 341.6h5v5h-5zM646.6 356.6h5v5h-5zM676.6 356.6h5v5h-5zM706.6 356.6h5v5h-5zM646.6 361.6h5v5h-5zM711.6 361.6h5v5h-5zM751.6 366.6h5v5h-5zM676.6 376.6h5v5h-5zM716.6 376.6h5v5h-5zM731.6 376.6h5v5h-5zM671.6 381.6h5v5h-5zM681.6 381.6h5v5h-5zM706.6 381.6h10v5h-10zM671.6 386.6h5v5h-5zM716.6 386.6h5v5h-5zM761.6 386.6h5v5h-5zM671.6 391.6h5v5h-5zM726.6 391.6h5v5h-5zM756.6 391.6h5v5h-5zM801.6 391.6h5v5h-5zM716.6 396.6h5v5h-5zM741.6 396.6h10v5h-10zM801.6 401.6h5v5h-5zM541.6 406.6h10v5h-10zM561.6 406.6h15v5h-15zM666.6 406.6h5v5h-5zM686.6 406.6h5v5h-5zM716.6 406.6h15v5h-15zM536.6 411.6h5v5h-5zM661.6 411.6h5v5h-5zM686.6 411.6h5v5h-5zM721.6 411.6h5v5h-5zM766.6 411.6h5v5h-5zM796.6 411.6h5v5h-5zM571.6 416.6h5v5h-5zM646.6 416.6h10v5h-10zM661.6 416.6h5v5h-5zM681.6 416.6h5v5h-5zM791.6 416.6h5v5h-5zM531.6 421.6h5v5h-5zM571.6 421.6h5v5h-5zM696.6 421.6h5v5h-5zM796.6 421.6h5v5h-5zM506.6 426.6h10v5h-10zM521.6 426.6h5v5h-5zM571.6 426.6h5v5h-5zM616.6 426.6h5v5h-5zM636.6 426.6h5v5h-5zM686.6 426.6h5v5h-5zM706.6 426.6h5v5h-5zM716.6 426.6h5v5h-5zM726.6 426.6h5v5h-5zM506.6 431.6h5v5h-5zM606.6 431.6h5v5h-5zM631.6 431.6h5v5h-5zM736.6 431.6h10v5h-10zM506.6 436.6h5v5h-5zM541.6 436.6h5v5h-5zM581.6 436.6h5v5h-5zM601.6 436.6h5v5h-5zM721.6 436.6h5v5h-5zM731.6 436.6h5v5h-5zM516.6 441.6h5v5h-5zM536.6 441.6h5v5h-5zM551.6 441.6h10v5h-10zM591.6 441.6h10v5h-10zM661.6 441.6h5v5h-5zM676.6 441.6h5v5h-5zM721.6 441.6h5v5h-5zM756.6 441.6h5v5h-5zM521.6 446.6h5v5h-5zM536.6 446.6h5v5h-5zM566.6 446.6h5v5h-5zM631.6 446.6h10v5h-10zM691.6 446.6h5v5h-5zM781.6 446.6h10v5h-10zM521.6 451.6h5v5h-5zM536.6 451.6h10v5h-10zM571.6 451.6h5v5h-5zM631.6 451.6h5v5h-5zM641.6 451.6h10v5h-10zM696.6 451.6h5v5h-5zM726.6 451.6h10v5h-10zM771.6 451.6h10v5h-10zM541.6 456.6h5v5h-5zM566.6 456.6h15v5h-15zM636.6 456.6h10v5h-10zM676.6 456.6h5v5h-5zM726.6 456.6h5v5h-5zM561.6 461.6h5v5h-5zM641.6 461.6h5v5h-5zM656.6 461.6h15v5h-15zM681.6 461.6h5v5h-5zM691.6 461.6h10v5h-10zM711.6 461.6h5v5h-5zM726.6 461.6h5v5h-5zM521.6 466.6h5v5h-5zM666.6 466.6h5v5h-5zM941.6 466.6h5v5h-5zM526.6 471.6h5v5h-5zM556.6 471.6h5v5h-5zM531.6 476.6h5v5h-5zM551.6 476.6h5v5h-5zM691.6 476.6h10v5h-10zM536.6 481.6h5v5h-5zM576.6 481.6h5v5h-5zM586.6 481.6h5v5h-5zM736.6 481.6h5v5h-5zM761.6 481.6h5v5h-5zM576.6 486.6h5v5h-5zM731.6 486.6h5v5h-5zM756.6 486.6h5v5h-5zM766.6 486.6h5v5h-5zM546.6 491.6h5v5h-5zM771.6 491.6h5v5h-5zM546.6 496.6h5v5h-5zM581.6 496.6h10v5h-10zM696.6 496.6h5v5h-5zM706.6 496.6h5v5h-5zM406.6 501.6h5v5h-5zM556.6 501.6h5v5h-5zM586.6 501.6h5v5h-5zM736.6 501.6h5v5h-5zM826.6 501.6h5v5h-5zM556.6 506.6h5v5h-5zM846.6 506.6h5v5h-5zM406.6 511.6h5v5h-5zM431.6 511.6h5v5h-5zM441.6 511.6h5v5h-5zM696.6 511.6h5v5h-5zM751.6 511.6h5v5h-5zM841.6 511.6h10v5h-10zM446.6 516.6h5v5h-5zM551.6 516.6h5v5h-5zM776.6 516.6h5v5h-5zM946.6 516.6h10v5h-10zM416.6 521.6h15v5h-15zM546.6 521.6h5v5h-5zM701.6 521.6h15v5h-15zM781.6 521.6h10v5h-10zM946.6 521.6h10v5h-10zM721.6 526.6h5v5h-5zM951.6 526.6h5v5h-5zM961.6 526.6h5v5h-5zM446.6 531.6h5v5h-5zM536.6 531.6h5v5h-5zM736.6 531.6h5v5h-5zM976.6 531.6h10v5h-10zM446.6 536.6h5v5h-5zM471.6 536.6h5v5h-5zM496.6 536.6h5v5h-5zM511.6 536.6h5v5h-5zM521.6 536.6h10v5h-10zM741.6 536.6h5v5h-5zM751.6 536.6h5v5h-5zM796.6 536.6h5v5h-5zM961.6 536.6h5v5h-5zM986.6 536.6h5v5h-5zM446.6 541.6h10v5h-10zM526.6 541.6h5v5h-5zM746.6 541.6h5v5h-5zM806.6 541.6h5v5h-5zM936.6 541.6h10v5h-10zM621.6 546.6h5v5h-5zM761.6 546.6h5v5h-5zM776.6 546.6h10v5h-10zM821.6 546.6h5v5h-5zM466.6 551.6h5v5h-5zM746.6 551.6h5v5h-5zM791.6 551.6h5v5h-5zM836.6 551.6h5v5h-5zM936.6 551.6h10v5h-10zM986.6 551.6h5v5h-5zM626.6 556.6h5v5h-5zM721.6 556.6h5v5h-5zM766.6 556.6h5v5h-5zM776.6 556.6h5v5h-5zM821.6 556.6h5v5h-5zM831.6 556.6h10v5h-10zM966.6 556.6h5v5h-5zM586.6 561.6h5v5h-5zM616.6 561.6h5v5h-5zM731.6 561.6h5v5h-5zM776.6 561.6h5v5h-5zM801.6 561.6h10v5h-10zM981.6 561.6h5v5h-5zM586.6 566.6h5v5h-5zM621.6 566.6h5v5h-5zM741.6 566.6h15v5h-15zM776.6 566.6h5v5h-5zM851.6 566.6h5v5h-5zM871.6 566.6h5v5h-5zM981.6 566.6h5v5h-5zM476.6 571.6h5v5h-5zM486.6 571.6h5v5h-5zM496.6 571.6h5v5h-5zM596.6 571.6h10v5h-10zM791.6 571.6h5v5h-5zM806.6 571.6h5v5h-5zM816.6 571.6h5v5h-5zM836.6 571.6h5v5h-5zM981.6 571.6h5v5h-5zM601.6 576.6h5v5h-5zM851.6 576.6h5v5h-5zM871.6 576.6h5v5h-5zM946.6 576.6h5v5h-5zM971.6 576.6h5v5h-5zM981.6 576.6h5v5h-5zM846.6 581.6h10v5h-10zM866.6 581.6h5v5h-5zM986.6 581.6h5v5h-5zM1001.6 581.6h15v5h-15zM606.6 586.6h10v5h-10zM451.6 591.6h10v5h-10zM491.6 591.6h10v5h-10zM511.6 591.6h5v5h-5zM596.6 591.6h10v5h-10zM771.6 591.6h5v5h-5zM826.6 591.6h5v5h-5zM836.6 591.6h5v5h-5zM451.6 596.6h25v5h-25zM496.6 596.6h5v5h-5zM856.6 596.6h5v5h-5zM941.6 596.6h15v5h-15zM276.6 601.6h5v5h-5zM481.6 601.6h5v5h-5zM771.6 601.6h5v5h-5zM836.6 601.6h10v5h-10zM856.6 601.6h5v5h-5zM956.6 601.6h5v5h-5zM271.6 606.6h5v5h-5zM481.6 606.6h5v5h-5zM606.6 606.6h5v5h-5zM616.6 606.6h10v5h-10zM766.6 606.6h5v5h-5zM841.6 606.6h5v5h-5zM851.6 606.6h5v5h-5zM1016.6 606.6h5v5h-5zM271.6 611.6h5v5h-5zM601.6 611.6h5v5h-5zM621.6 611.6h5v5h-5zM641.6 611.6h10v5h-10zM766.6 611.6h5v5h-5zM841.6 611.6h5v5h-5zM971.6 611.6h5v5h-5zM451.6 616.6h5v5h-5zM481.6 616.6h5v5h-5zM596.6 616.6h5v5h-5zM766.6 616.6h5v5h-5zM276.6 621.6h5v5h-5zM291.6 621.6h5v5h-5zM451.6 621.6h5v5h-5zM646.6 621.6h5v5h-5zM1001.6 621.6h5v5h-5zM276.6 626.6h5v5h-5zM761.6 626.6h10v5h-10zM1016.6 626.6h5v5h-5zM636.6 631.6h5v5h-5zM646.6 631.6h5v5h-5zM771.6 631.6h5v5h-5zM856.6 631.6h10v5h-10zM1006.6 631.6h10v5h-10zM451.6 636.6h5v5h-5zM636.6 636.6h5v5h-5zM486.6 641.6h5v5h-5zM611.6 641.6h5v5h-5zM621.6 641.6h5v5h-5zM291.6 646.6h5v5h-5zM641.6 646.6h5v5h-5zM766.6 646.6h10v5h-10zM321.6 651.6h10v5h-10zM341.6 651.6h5v5h-5zM351.6 651.6h20v5h-20zM381.6 651.6h5v5h-5zM436.6 651.6h5v5h-5zM446.6 651.6h5v5h-5zM456.6 651.6h5v5h-5zM486.6 651.6h5v5h-5zM616.6 651.6h5v5h-5zM771.6 651.6h5v5h-5zM861.6 651.6h5v5h-5zM991.6 651.6h15v5h-15zM306.6 656.6h10v5h-10zM446.6 656.6h10v5h-10zM636.6 656.6h10v5h-10zM846.6 656.6h10v5h-10zM1001.6 656.6h5v5h-5zM441.6 661.6h5v5h-5zM461.6 661.6h5v5h-5zM641.6 661.6h5v5h-5zM831.6 661.6h5v5h-5zM981.6 661.6h5v5h-5zM401.6 666.6h5v5h-5zM421.6 666.6h5v5h-5zM441.6 666.6h5v5h-5zM491.6 666.6h5v5h-5zM986.6 666.6h5v5h-5zM401.6 671.6h10v5h-10zM416.6 671.6h5v5h-5zM441.6 671.6h5v5h-5zM456.6 671.6h5v5h-5zM491.6 671.6h20v5h-20zM826.6 671.6h10v5h-10zM841.6 671.6h5v5h-5zM1006.6 671.6h5v5h-5zM406.6 676.6h5v5h-5zM416.6 676.6h5v5h-5zM426.6 676.6h5v5h-5zM441.6 676.6h10v5h-10zM506.6 676.6h5v5h-5zM676.6 676.6h5v5h-5zM986.6 676.6h5v5h-5zM426.6 681.6h5v5h-5zM841.6 681.6h5v5h-5zM401.6 686.6h5v5h-5zM416.6 686.6h10v5h-10zM506.6 686.6h5v5h-5zM646.6 686.6h5v5h-5zM786.6 686.6h5v5h-5zM861.6 686.6h10v5h-10zM1006.6 686.6h5v5h-5zM411.6 691.6h5v5h-5zM646.6 691.6h5v5h-5zM821.6 691.6h10v5h-10zM976.6 691.6h5v5h-5zM781.6 696.6h5v5h-5zM836.6 696.6h5v5h-5zM981.6 696.6h5v5h-5zM1011.6 696.6h5v5h-5zM641.6 701.6h5v5h-5zM796.6 701.6h5v5h-5zM951.6 701.6h5v5h-5zM331.6 706.6h5v5h-5zM801.6 706.6h10v5h-10zM836.6 706.6h5v5h-5zM981.6 706.6h5v5h-5zM1016.6 706.6h5v5h-5zM651.6 711.6h5v5h-5zM786.6 711.6h5v5h-5zM811.6 711.6h5v5h-5zM941.6 711.6h5v5h-5zM336.6 716.6h5v5h-5zM506.6 716.6h5v5h-5zM641.6 716.6h10v5h-10zM656.6 716.6h5v5h-5zM786.6 716.6h5v5h-5zM811.6 716.6h5v5h-5zM831.6 716.6h5v5h-5zM941.6 716.6h5v5h-5zM1016.6 716.6h5v5h-5zM466.6 721.6h5v5h-5zM791.6 721.6h5v5h-5zM801.6 721.6h5v5h-5zM831.6 721.6h5v5h-5zM946.6 721.6h5v5h-5zM961.6 721.6h5v5h-5zM1016.6 721.6h5v5h-5zM341.6 726.6h5v5h-5zM661.6 726.6h5v5h-5zM966.6 726.6h5v5h-5zM346.6 731.6h5v5h-5zM791.6 731.6h5v5h-5zM836.6 731.6h5v5h-5zM941.6 731.6h5v5h-5zM1016.6 731.6h5v5h-5zM1086.6 731.6h5v5h-5zM561.6 736.6h5v5h-5zM791.6 736.6h5v5h-5zM816.6 736.6h5v5h-5zM501.6 741.6h5v5h-5zM551.6 741.6h5v5h-5zM821.6 741.6h5v5h-5zM941.6 741.6h5v5h-5zM1016.6 741.6h5v5h-5zM516.6 746.6h5v5h-5zM576.6 746.6h5v5h-5zM591.6 746.6h5v5h-5zM636.6 746.6h5v5h-5zM831.6 746.6h5v5h-5zM841.6 746.6h5v5h-5zM851.6 746.6h10v5h-10zM1031.6 746.6h5v5h-5zM1056.6 746.6h5v5h-5zM531.6 751.6h5v5h-5zM711.6 751.6h5v5h-5zM856.6 751.6h5v5h-5zM946.6 751.6h5v5h-5zM1051.6 751.6h5v5h-5zM416.6 756.6h5v5h-5zM571.6 756.6h5v5h-5zM581.6 756.6h5v5h-5zM671.6 756.6h5v5h-5zM701.6 756.6h5v5h-5zM761.6 756.6h5v5h-5zM776.6 756.6h5v5h-5zM831.6 756.6h5v5h-5zM861.6 756.6h5v5h-5zM1051.6 756.6h5v5h-5zM416.6 761.6h10v5h-10zM436.6 761.6h5v5h-5zM501.6 761.6h5v5h-5zM521.6 761.6h5v5h-5zM681.6 761.6h5v5h-5zM716.6 761.6h5v5h-5zM761.6 761.6h5v5h-5zM771.6 761.6h10v5h-10zM831.6 761.6h5v5h-5zM861.6 761.6h10v5h-10zM436.6 766.6h5v5h-5zM556.6 766.6h5v5h-5zM566.6 766.6h5v5h-5zM576.6 766.6h5v5h-5zM606.6 766.6h5v5h-5zM656.6 766.6h5v5h-5zM771.6 766.6h5v5h-5zM871.6 766.6h5v5h-5zM881.6 766.6h5v5h-5zM956.6 766.6h5v5h-5zM406.6 771.6h5v5h-5zM506.6 771.6h5v5h-5zM606.6 771.6h5v5h-5zM721.6 771.6h5v5h-5zM776.6 771.6h5v5h-5zM791.6 771.6h5v5h-5zM841.6 771.6h5v5h-5zM881.6 771.6h5v5h-5zM941.6 771.6h5v5h-5zM406.6 776.6h15v5h-15zM431.6 776.6h5v5h-5zM471.6 776.6h5v5h-5zM776.6 776.6h5v5h-5zM796.6 776.6h5v5h-5zM806.6 776.6h5v5h-5zM831.6 776.6h5v5h-5zM891.6 776.6h5v5h-5zM941.6 776.6h5v5h-5zM396.6 781.6h10v5h-10zM431.6 781.6h5v5h-5zM446.6 781.6h5v5h-5zM726.6 781.6h15v5h-15zM786.6 781.6h5v5h-5zM901.6 781.6h5v5h-5zM381.6 786.6h5v5h-5zM436.6 786.6h5v5h-5zM446.6 786.6h5v5h-5zM456.6 786.6h5v5h-5zM501.6 786.6h5v5h-5zM751.6 786.6h5v5h-5zM771.6 786.6h5v5h-5zM791.6 786.6h5v5h-5zM871.6 786.6h5v5h-5zM906.6 786.6h5v5h-5zM381.6 791.6h5v5h-5zM421.6 791.6h5v5h-5zM501.6 791.6h5v5h-5zM781.6 791.6h5v5h-5zM881.6 791.6h5v5h-5zM891.6 791.6h10v5h-10zM451.6 796.6h5v5h-5zM491.6 796.6h5v5h-5zM781.6 796.6h5v5h-5zM621.6 801.6h5v5h-5zM766.6 801.6h5v5h-5zM871.6 801.6h5v5h-5zM921.6 801.6h10v5h-10zM471.6 806.6h5v5h-5zM481.6 806.6h5v5h-5zM506.6 806.6h5v5h-5zM521.6 806.6h10v5h-10zM811.6 806.6h5v5h-5zM916.6 806.6h5v5h-5zM476.6 811.6h5v5h-5zM511.6 811.6h5v5h-5zM631.6 811.6h5v5h-5zM951.6 811.6h5v5h-5zM451.6 816.6h5v5h-5zM771.6 816.6h5v5h-5zM856.6 816.6h5v5h-5zM911.6 816.6h5v5h-5zM921.6 816.6h10v5h-10zM946.6 816.6h10v5h-10zM416.6 821.6h5v5h-5zM521.6 821.6h5v5h-5zM816.6 821.6h5v5h-5zM831.6 821.6h10v5h-10zM416.6 826.6h5v5h-5zM461.6 826.6h10v5h-10zM771.6 826.6h5v5h-5zM836.6 826.6h5v5h-5zM851.6 826.6h5v5h-5zM876.6 826.6h5v5h-5zM941.6 826.6h10v5h-10zM421.6 831.6h10v5h-10zM491.6 831.6h5v5h-5zM506.6 831.6h10v5h-10zM761.6 831.6h5v5h-5zM851.6 831.6h5v5h-5zM871.6 831.6h5v5h-5zM901.6 831.6h10v5h-10zM921.6 831.6h5v5h-5zM431.6 836.6h10v5h-10zM486.6 836.6h5v5h-5zM626.6 836.6h5v5h-5zM761.6 836.6h5v5h-5zM866.6 836.6h5v5h-5zM906.6 836.6h5v5h-5zM931.6 836.6h5v5h-5zM466.6 841.6h5v5h-5zM506.6 841.6h10v5h-10zM576.6 841.6h5v5h-5zM586.6 841.6h5v5h-5zM761.6 841.6h5v5h-5zM881.6 841.6h5v5h-5zM431.6 846.6h5v5h-5zM536.6 846.6h5v5h-5zM586.6 846.6h5v5h-5zM851.6 846.6h5v5h-5zM881.6 846.6h5v5h-5zM906.6 846.6h5v5h-5zM926.6 846.6h5v5h-5zM471.6 851.6h5v5h-5zM541.6 851.6h5v5h-5zM756.6 851.6h5v5h-5zM836.6 851.6h5v5h-5zM866.6 851.6h5v5h-5zM936.6 851.6h5v5h-5zM616.6 856.6h5v5h-5zM881.6 856.6h5v5h-5zM951.6 856.6h5v5h-5zM491.6 861.6h5v5h-5zM756.6 861.6h10v5h-10zM531.6 866.6h10v5h-10zM611.6 866.6h5v5h-5zM761.6 866.6h10v5h-10zM891.6 866.6h5v5h-5zM451.6 871.6h5v5h-5zM531.6 871.6h5v5h-5zM611.6 871.6h5v5h-5zM901.6 871.6h5v5h-5zM491.6 876.6h5v5h-5zM911.6 876.6h5v5h-5zM471.6 881.6h5v5h-5zM486.6 881.6h10v5h-10zM516.6 881.6h10v5h-10zM546.6 881.6h5v5h-5zM606.6 881.6h5v5h-5zM771.6 881.6h10v5h-10zM886.6 881.6h5v5h-5zM911.6 881.6h5v5h-5zM551.6 886.6h5v5h-5zM861.6 886.6h5v5h-5zM526.6 891.6h5v5h-5zM871.6 891.6h5v5h-5zM516.6 901.6h10v5h-10zM636.6 901.6h5v5h-5zM886.6 901.6h5v5h-5zM516.6 906.6h5v5h-5zM631.6 906.6h5v5h-5zM786.6 906.6h5v5h-5zM886.6 906.6h5v5h-5zM521.6 911.6h10v5h-10zM621.6 911.6h10v5h-10zM616.6 916.6h5v5h-5zM781.6 916.6h5v5h-5zM636.6 921.6h5v5h-5zM646.6 921.6h5v5h-5zM526.6 926.6h5v5h-5zM621.6 926.6h5v5h-5zM781.6 926.6h5v5h-5zM556.6 931.6h5v5h-5zM621.6 931.6h5v5h-5zM556.6 936.6h5v5h-5zM576.6 941.6h5v5h-5zM586.6 941.6h5v5h-5zM626.6 941.6h5v5h-5zM771.6 941.6h5v5h-5zM561.6 946.6h10v5h-10zM671.6 946.6h5v5h-5zM776.6 946.6h5v5h-5zM636.6 951.6h5v5h-5zM676.6 951.6h10v5h-10zM551.6 956.6h5v5h-5zM676.6 956.6h5v5h-5zM616.6 961.6h5v5h-5zM646.6 961.6h5v5h-5zM661.6 961.6h5v5h-5zM696.6 961.6h5v5h-5zM551.6 966.6h5v5h-5zM616.6 966.6h5v5h-5zM691.6 966.6h5v5h-5zM681.6 971.6h10v5h-10zM726.6 971.6h5v5h-5zM726.6 976.6h10v5h-10zM786.6 976.6h5v5h-5zM731.6 981.6h10v5h-10zM771.6 981.6h10v5h-10zM721.6 986.6h5v5h-5zM796.6 986.6h5v5h-5zM691.6 991.6h10v5h-10zM761.6 996.6h5v5h-5zM761.6 1011.6h5v5h-5zM636.6 1016.6h10v5h-10zM641.6 1031.6h5v5h-5zM641.6 1041.6h5v5h-5zM626.6 1046.6h5v5h-5zM631.6 1056.6h5v5h-5zM656.6 1056.6h5v5h-5zM676.6 1056.6h5v5h-5zM626.6 1066.6h5v5h-5zM686.6 1076.6h5v5h-5z"/>
<path fill="#10f0f0" d="M801.6 256.6h5v5h-5zM766.6 266.6h5v5h-5zM781.6 266.6h5v5h-5zM806.6 266.6h5v5h-5zM801.6 276.6h5v5h-5zM796.6 281.6h5v5h-5zM836.6 291.6h5v5h-5zM801.6 296.6h5v5h-5zM826.6 296.6h5v5h-5zM821.6 301.6h10v5h-10zM846.6 306.6h5v5h-5zM726.6 316.6h5v5h-5zM811.6 316.6h5v5h-5zM746.6 326.6h5v5h-5zM861.6 331.6h5v5h-5zM686.6 336.6h5v5h-5zM656.6 341.6h5v5h-5zM696.6 341.6h5v5h-5zM651.6 346.6h5v5h-5zM651.6 351.6h5v5h-5zM746.6 366.6h5v5h-5zM726.6 371.6h5v5h-5zM736.6 376.6h5v5h-5zM756.6 386.6h5v5h-5zM796.6 391.6h5v5h-5zM751.6 396.6h5v5h-5zM771.6 411.6h5v5h-5zM686.6 416.6h5v5h-5zM526.6 421.6h5v5h-5zM751.6 421.6h5v5h-5zM691.6 426.6h5v5h-5zM751.6 426.6h5v5h-5zM581.6 431.6h5v5h-5zM746.6 431.6h5v5h-5zM606.6 436.6h5v5h-5zM521.6 441.6h5v5h-5zM641.6 446.6h5v5h-5zM651.6 446.6h10v5h-10zM681.6 456.6h5v5h-5zM541.6 461.6h5v5h-5zM731.6 466.6h5v5h-5zM696.6 471.6h5v5h-5zM581.6 476.6h5v5h-5zM676.6 476.6h5v5h-5zM711.6 481.6h5v5h-5zM536.6 486.6h5v5h-5zM581.6 486.6h5v5h-5zM711.6 486.6h5v5h-5zM701.6 491.6h5v5h-5zM731.6 491.6h10v5h-10zM406.6 496.6h5v5h-5zM571.6 496.6h5v5h-5zM561.6 501.6h10v5h-10zM771.6 506.6h5v5h-5zM941.6 506.6h10v5h-10zM556.6 511.6h5v5h-5zM836.6 511.6h5v5h-5zM946.6 511.6h5v5h-5zM771.6 516.6h5v5h-5zM971.6 516.6h5v5h-5zM446.6 521.6h5v5h-5zM741.6 521.6h5v5h-5zM546.6 526.6h5v5h-5zM791.6 526.6h5v5h-5zM486.6 536.6h5v5h-5zM506.6 536.6h5v5h-5zM591.6 536.6h5v5h-5zM736.6 536.6h5v5h-5zM971.6 536.6h5v5h-5zM801.6 541.6h5v5h-5zM811.6 541.6h5v5h-5zM626.6 546.6h5v5h-5zM636.6 546.6h5v5h-5zM461.6 551.6h5v5h-5zM776.6 551.6h5v5h-5zM631.6 556.6h5v5h-5zM851.6 561.6h5v5h-5zM591.6 566.6h5v5h-5zM731.6 566.6h5v5h-5zM841.6 571.6h5v5h-5zM846.6 576.6h5v5h-5zM866.6 576.6h5v5h-5zM771.6 586.6h5v5h-5zM846.6 586.6h5v5h-5zM1011.6 586.6h5v5h-5zM1006.6 591.6h5v5h-5zM596.6 601.6h5v5h-5zM281.6 606.6h5v5h-5zM451.6 606.6h5v5h-5zM971.6 606.6h5v5h-5zM281.6 611.6h5v5h-5zM836.6 611.6h5v5h-5zM271.6 616.6h5v5h-5zM601.6 616.6h5v5h-5zM981.6 616.6h5v5h-5zM771.6 626.6h5v5h-5zM831.6 626.6h5v5h-5zM996.6 626.6h5v5h-5zM601.6 631.6h5v5h-5zM601.6 636.6h5v5h-5zM616.6 636.6h5v5h-5zM641.6 636.6h5v5h-5zM611.6 646.6h10v5h-10zM291.6 651.6h5v5h-5zM336.6 651.6h5v5h-5zM831.6 651.6h5v5h-5zM846.6 651.6h5v5h-5zM446.6 661.6h5v5h-5zM616.6 661.6h5v5h-5zM461.6 666.6h5v5h-5zM486.6 666.6h5v5h-5zM616.6 671.6h10v5h-10zM676.6 671.6h5v5h-5zM496.6 676.6h5v5h-5zM621.6 676.6h5v5h-5zM821.6 676.6h5v5h-5zM771.6 681.6h5v5h-5zM826.6 681.6h10v5h-10zM986.6 681.6h5v5h-5zM786.6 691.6h5v5h-5zM836.6 691.6h10v5h-10zM506.6 696.6h5v5h-5zM951.6 706.6h5v5h-5zM946.6 711.6h5v5h-5zM956.6 711.6h5v5h-5zM466.6 716.6h5v5h-5zM661.6 716.6h5v5h-5zM801.6 716.6h5v5h-5zM786.6 721.6h5v5h-5zM1076.6 731.6h5v5h-5zM571.6 736.6h10v5h-10zM1056.6 736.6h5v5h-5zM351.6 741.6h5v5h-5zM511.6 741.6h5v5h-5zM646.6 741.6h5v5h-5zM551.6 746.6h5v5h-5zM826.6 746.6h5v5h-5zM846.6 746.6h5v5h-5zM941.6 746.6h5v5h-5zM541.6 751.6h5v5h-5zM581.6 751.6h5v5h-5zM591.6 751.6h5v5h-5zM631.6 751.6h5v5h-5zM781.6 751.6h5v5h-5zM666.6 756.6h5v5h-5zM676.6 756.6h5v5h-5zM711.6 756.6h5v5h-5zM686.6 761.6h5v5h-5zM761.6 766.6h5v5h-5zM831.6 766.6h5v5h-5zM951.6 766.6h5v5h-5zM961.6 766.6h5v5h-5zM1041.6 766.6h5v5h-5zM401.6 771.6h5v5h-5zM831.6 771.6h5v5h-5zM1036.6 771.6h5v5h-5zM466.6 776.6h5v5h-5zM811.6 776.6h5v5h-5zM1036.6 776.6h5v5h-5zM481.6 781.6h5v5h-5zM721.6 781.6h5v5h-5zM776.6 781.6h5v5h-5zM801.6 781.6h5v5h-5zM896.6 781.6h5v5h-5zM411.6 786.6h5v5h-5zM451.6 786.6h5v5h-5zM466.6 786.6h5v5h-5zM386.6 791.6h15v5h-15zM871.6 791.6h10v5h-10zM911.6 791.6h5v5h-5zM426.6 796.6h5v5h-5zM456.6 796.6h5v5h-5zM496.6 796.6h5v5h-5zM426.6 801.6h5v5h-5zM466.6 801.6h5v5h-5zM481.6 801.6h5v5h-5zM771.6 801.6h5v5h-5zM471.6 811.6h5v5h-5zM431.6 816.6h5v5h-5zM816.6 816.6h5v5h-5zM636.6 826.6h5v5h-5zM831.6 826.6h5v5h-5zM756.6 831.6h5v5h-5zM941.6 831.6h5v5h-5zM491.6 836.6h5v5h-5zM531.6 836.6h5v5h-5zM851.6 836.6h5v5h-5zM431.6 841.6h5v5h-5zM831.6 841.6h5v5h-5zM901.6 841.6h5v5h-5zM936.6 841.6h5v5h-5zM756.6 846.6h5v5h-5zM836.6 846.6h5v5h-5zM581.6 851.6h10v5h-10zM881.6 851.6h5v5h-5zM926.6 851.6h5v5h-5zM951.6 851.6h5v5h-5zM441.6 856.6h5v5h-5zM846.6 856.6h5v5h-5zM891.6 861.6h5v5h-5zM456.6 866.6h5v5h-5zM501.6 876.6h5v5h-5zM476.6 881.6h5v5h-5zM866.6 881.6h5v5h-5zM881.6 881.6h5v5h-5zM786.6 896.6h5v5h-5zM871.6 896.6h5v5h-5zM541.6 901.6h5v5h-5zM546.6 906.6h5v5h-5zM626.6 906.6h5v5h-5zM646.6 906.6h5v5h-5zM616.6 911.6h5v5h-5zM651.6 921.6h5v5h-5zM546.6 926.6h5v5h-5zM571.6 941.6h5v5h-5zM666.6 946.6h5v5h-5zM781.6 951.6h5v5h-5zM646.6 956.6h5v5h-5zM681.6 956.6h5v5h-5zM671.6 966.6h5v5h-5zM711.6 971.6h5v5h-5zM781.6 971.6h5v5h-5zM711.6 981.6h5v5h-5zM766.6 981.6h5v5h-5zM631.6 996.6h5v5h-5zM636.6 1056.6h5v5h-5zM666.6 1056.6h5v5h-5zM626.6 1061.6h5v5h-5zM686.6 1071.6h5v5h-5zM691.6 1076.6h5v5h-5z"/>
<path fill="#28f8d8" d="M806.6 241.6h5v5h-5zM821.6 271.6h5v5h-5zM816.6 276.6h5v5h-5zM751.6 286.6h5v5h-5zM791.6 291.6h5v5h-5zM741.6 301.6h5v5h-5zM811.6 306.6h5v5h-5zM761.6 311.6h5v5h-5zM861.6 326.6h5v5h-5zM686.6 331.6h5v5h-5zM666.6 336.6h5v5h-5zM771.6 336.6h5v5h-5zM816.6 336.6h10v5h-10zM786.6 346.6h5v5h-5zM641.6 351.6h5v5h-5zM756.6 356.6h5v5h-5zM716.6 371.6h5v5h-5zM721.6 376.6h5v5h-5zM796.6 396.6h5v5h-5zM686.6 401.6h5v5h-5zM796.6 401.6h5v5h-5zM556.6 406.6h5v5h-5zM661.6 406.6h5v5h-5zM761.6 406.6h15v5h-15zM676.6 411.6h5v5h-5zM536.6 416.6h5v5h-5zM766.6 416.6h5v5h-5zM716.6 421.6h5v5h-5zM576.6 431.6h5v5h-5zM786.6 436.6h5v5h-5zM711.6 441.6h5v5h-5zM751.6 441.6h5v5h-5zM566.6 451.6h5v5h-5zM676.6 451.6h5v5h-5zM631.6 456.6h5v5h-5zM721.6 461.6h5v5h-5zM516.6 466.6h5v5h-5zM526.6 466.6h5v5h-5zM671.6 471.6h5v5h-5zM701.6 471.6h5v5h-5zM761.6 476.6h5v5h-5zM691.6 481.6h5v5h-5zM701.6 486.6h5v5h-5zM576.6 496.6h5v5h-5zM831.6 501.6h5v5h-5zM846.6 501.6h5v5h-5zM696.6 506.6h5v5h-5zM436.6 511.6h5v5h-5zM831.6 511.6h5v5h-5zM751.6 521.6h5v5h-5zM961.6 521.6h5v5h-5zM726.6 526.6h5v5h-5zM746.6 526.6h5v5h-5zM611.6 531.6h5v5h-5zM491.6 536.6h5v5h-5zM601.6 536.6h5v5h-5zM946.6 536.6h5v5h-5zM981.6 536.6h5v5h-5zM611.6 541.6h5v5h-5zM981.6 541.6h5v5h-5zM936.6 546.6h5v5h-5zM626.6 551.6h5v5h-5zM956.6 551.6h5v5h-5zM811.6 556.6h5v5h-5zM826.6 556.6h5v5h-5zM766.6 561.6h5v5h-5zM866.6 561.6h5v5h-5zM951.6 561.6h5v5h-5zM596.6 566.6h5v5h-5zM846.6 566.6h5v5h-5zM801.6 571.6h5v5h-5zM811.6 571.6h5v5h-5zM821.6 571.6h5v5h-5zM961.6 571.6h5v5h-5zM486.6 576.6h5v5h-5zM1001.6 576.6h5v5h-5zM486.6 581.6h5v5h-5zM771.6 581.6h5v5h-5zM861.6 581.6h5v5h-5zM591.6 591.6h5v5h-5zM486.6 596.6h5v5h-5zM501.6 596.6h5v5h-5zM1011.6 596.6h5v5h-5zM276.6 606.6h5v5h-5zM611.6 606.6h5v5h-5zM1011.6 606.6h5v5h-5zM266.6 611.6h5v5h-5zM451.6 611.6h5v5h-5zM281.6 616.6h5v5h-5zM486.6 616.6h5v5h-5zM836.6 616.6h5v5h-5zM291.6 626.6h5v5h-5zM451.6 626.6h5v5h-5zM486.6 626.6h5v5h-5zM841.6 626.6h5v5h-5zM641.6 631.6h5v5h-5zM611.6 636.6h5v5h-5zM376.6 651.6h5v5h-5zM451.6 651.6h5v5h-5zM976.6 651.6h5v5h-5zM426.6 656.6h10v5h-10zM616.6 666.6h5v5h-5zM771.6 671.6h5v5h-5zM826.6 676.6h5v5h-5zM866.6 681.6h5v5h-5zM631.6 686.6h5v5h-5zM641.6 686.6h5v5h-5zM826.6 686.6h5v5h-5zM416.6 691.6h5v5h-5zM786.6 696.6h5v5h-5zM796.6 696.6h5v5h-5zM976.6 696.6h5v5h-5zM646.6 701.6h5v5h-5zM941.6 701.6h5v5h-5zM971.6 706.6h5v5h-5zM806.6 711.6h5v5h-5zM461.6 721.6h5v5h-5zM506.6 726.6h5v5h-5zM791.6 726.6h5v5h-5zM811.6 726.6h5v5h-5zM1016.6 726.6h5v5h-5zM506.6 731.6h5v5h-5zM656.6 731.6h5v5h-5zM511.6 736.6h5v5h-5zM576.6 741.6h5v5h-5zM796.6 741.6h5v5h-5zM646.6 746.6h5v5h-5zM1036.6 746.6h5v5h-5zM496.6 751.6h5v5h-5zM586.6 751.6h5v5h-5zM636.6 751.6h5v5h-5zM1041.6 751.6h5v5h-5zM356.6 756.6h5v5h-5zM421.6 756.6h5v5h-5zM561.6 756.6h5v5h-5zM651.6 756.6h5v5h-5zM681.6 756.6h5v5h-5zM696.6 756.6h5v5h-5zM706.6 756.6h5v5h-5zM766.6 756.6h5v5h-5zM946.6 756.6h5v5h-5zM356.6 761.6h5v5h-5zM581.6 761.6h5v5h-5zM841.6 761.6h5v5h-5zM1046.6 761.6h5v5h-5zM401.6 766.6h5v5h-5zM651.6 766.6h5v5h-5zM966.6 766.6h5v5h-5zM431.6 771.6h5v5h-5zM481.6 776.6h5v5h-5zM741.6 781.6h5v5h-5zM781.6 781.6h5v5h-5zM406.6 786.6h5v5h-5zM756.6 786.6h5v5h-5zM911.6 786.6h5v5h-5zM501.6 796.6h5v5h-5zM451.6 801.6h5v5h-5zM806.6 801.6h5v5h-5zM916.6 801.6h5v5h-5zM626.6 806.6h5v5h-5zM451.6 811.6h5v5h-5zM816.6 811.6h5v5h-5zM911.6 811.6h10v5h-10zM956.6 811.6h5v5h-5zM916.6 816.6h5v5h-5zM421.6 821.6h5v5h-5zM461.6 821.6h5v5h-5zM946.6 821.6h5v5h-5zM881.6 826.6h5v5h-5zM906.6 826.6h5v5h-5zM436.6 831.6h5v5h-5zM831.6 831.6h5v5h-5zM506.6 836.6h5v5h-5zM586.6 836.6h5v5h-5zM636.6 836.6h5v5h-5zM886.6 836.6h5v5h-5zM926.6 836.6h5v5h-5zM756.6 841.6h5v5h-5zM966.6 841.6h5v5h-5zM576.6 846.6h5v5h-5zM961.6 846.6h5v5h-5zM621.6 851.6h5v5h-5zM906.6 851.6h5v5h-5zM926.6 856.6h5v5h-5zM541.6 861.6h5v5h-5zM451.6 866.6h5v5h-5zM456.6 871.6h5v5h-5zM866.6 876.6h5v5h-5zM621.6 886.6h5v5h-5zM511.6 891.6h5v5h-5zM521.6 891.6h5v5h-5zM541.6 891.6h5v5h-5zM776.6 891.6h5v5h-5zM621.6 896.6h5v5h-5zM776.6 896.6h10v5h-10zM551.6 901.6h5v5h-5zM641.6 906.6h5v5h-5zM651.6 906.6h5v5h-5zM776.6 926.6h5v5h-5zM631.6 946.6h5v5h-5zM686.6 946.6h5v5h-5zM781.6 956.6h5v5h-5zM611.6 966.6h5v5h-5zM706.6 971.6h5v5h-5zM731.6 971.6h5v5h-5zM546.6 976.6h5v5h-5zM711.6 976.6h5v5h-5zM621.6 981.6h5v5h-5zM791.6 981.6h5v5h-5zM726.6 986.6h10v5h-10zM631.6 1006.6h5v5h-5zM781.6 1006.6h5v5h-5zM771.6 1011.6h5v5h-5zM641.6 1026.6h5v5h-5zM646.6 1036.6h5v5h-5zM626.6 1056.6h5v5h-5zM681.6 1061.6h5v5h-5zM626.6 1071.6h5v5h-5zM681.6 1071.6h5v5h-5z"/>
<path fill="#2cffd0" d="M801.6 261.6h5v5h-5zM801.6 271.6h5v5h-5zM736.6 291.6h5v5h-5zM841.6 291.6h5v5h-5zM806.6 306.6h5v5h-5zM831.6 306.6h5v5h-5zM841.6 306.6h5v5h-5zM681.6 311.6h5v5h-5zM816.6 326.6h5v5h-5zM681.6 331.6h5v5h-5zM746.6 331.6h5v5h-5zM756.6 346.6h5v5h-5zM726.6 366.6h5v5h-5zM706.6 376.6h5v5h-5zM676.6 381.6h5v5h-5zM716.6 381.6h5v5h-5zM671.6 396.6h5v5h-5zM766.6 401.6h5v5h-5zM726.6 411.6h5v5h-5zM796.6 416.6h5v5h-5zM641.6 421.6h10v5h-10zM701.6 421.6h5v5h-5zM736.6 421.6h5v5h-5zM791.6 421.6h5v5h-5zM576.6 426.6h5v5h-5zM611.6 431.6h5v5h-5zM511.6 436.6h5v5h-5zM596.6 436.6h5v5h-5zM666.6 436.6h5v5h-5zM691.6 436.6h5v5h-5zM666.6 441.6h5v5h-5zM716.6 441.6h5v5h-5zM576.6 451.6h5v5h-5zM716.6 461.6h5v5h-5zM736.6 466.6h5v5h-5zM666.6 471.6h5v5h-5zM706.6 471.6h5v5h-5zM546.6 476.6h5v5h-5zM736.6 476.6h5v5h-5zM711.6 491.6h5v5h-5zM406.6 506.6h5v5h-5zM561.6 511.6h5v5h-5zM741.6 511.6h5v5h-5zM406.6 516.6h5v5h-5zM566.6 516.6h5v5h-5zM566.6 521.6h10v5h-10zM601.6 521.6h5v5h-5zM541.6 526.6h5v5h-5zM731.6 526.6h5v5h-5zM606.6 531.6h5v5h-5zM751.6 531.6h5v5h-5zM791.6 531.6h10v5h-10zM951.6 531.6h5v5h-5zM501.6 536.6h5v5h-5zM516.6 536.6h5v5h-5zM531.6 536.6h5v5h-5zM956.6 536.6h5v5h-5zM631.6 541.6h5v5h-5zM836.6 546.6h5v5h-5zM451.6 551.6h5v5h-5zM821.6 551.6h5v5h-5zM946.6 551.6h5v5h-5zM471.6 556.6h5v5h-5zM471.6 566.6h5v5h-5zM491.6 566.6h5v5h-5zM606.6 571.6h5v5h-5zM796.6 571.6h5v5h-5zM771.6 576.6h5v5h-5zM976.6 576.6h5v5h-5zM856.6 581.6h5v5h-5zM946.6 581.6h5v5h-5zM461.6 591.6h5v5h-5zM991.6 591.6h5v5h-5zM771.6 606.6h5v5h-5zM611.6 611.6h5v5h-5zM296.6 621.6h5v5h-5zM636.6 621.6h5v5h-5zM816.6 621.6h5v5h-5zM981.6 621.6h5v5h-5zM636.6 626.6h5v5h-5zM986.6 626.6h5v5h-5zM761.6 631.6h5v5h-5zM286.6 636.6h5v5h-5zM621.6 636.6h5v5h-5zM451.6 641.6h5v5h-5zM286.6 646.6h5v5h-5zM331.6 651.6h5v5h-5zM431.6 651.6h5v5h-5zM631.6 651.6h5v5h-5zM856.6 651.6h5v5h-5zM386.6 656.6h5v5h-5zM991.6 656.6h5v5h-5zM986.6 671.6h5v5h-5zM766.6 676.6h5v5h-5zM831.6 676.6h5v5h-5zM1006.6 681.6h5v5h-5zM406.6 686.6h5v5h-5zM636.6 686.6h5v5h-5zM1011.6 686.6h5v5h-5zM781.6 691.6h5v5h-5zM816.6 691.6h5v5h-5zM786.6 701.6h5v5h-5zM976.6 711.6h5v5h-5zM471.6 716.6h5v5h-5zM816.6 716.6h5v5h-5zM336.6 721.6h5v5h-5zM506.6 721.6h5v5h-5zM961.6 726.6h5v5h-5zM1066.6 731.6h5v5h-5zM1016.6 736.6h5v5h-5zM846.6 741.6h10v5h-10zM961.6 741.6h5v5h-5zM836.6 746.6h5v5h-5zM946.6 746.6h5v5h-5zM511.6 751.6h5v5h-5zM786.6 751.6h10v5h-10zM601.6 756.6h5v5h-5zM781.6 756.6h5v5h-5zM951.6 756.6h10v5h-10zM1051.6 761.6h5v5h-5zM716.6 766.6h5v5h-5zM776.6 766.6h5v5h-5zM1046.6 766.6h5v5h-5zM366.6 771.6h5v5h-5zM771.6 771.6h5v5h-5zM886.6 771.6h5v5h-5zM501.6 776.6h5v5h-5zM611.6 776.6h5v5h-5zM416.6 786.6h5v5h-5zM746.6 786.6h5v5h-5zM781.6 786.6h5v5h-5zM796.6 786.6h5v5h-5zM866.6 786.6h5v5h-5zM856.6 801.6h5v5h-5zM771.6 806.6h5v5h-5zM816.6 806.6h5v5h-5zM481.6 816.6h5v5h-5zM631.6 816.6h5v5h-5zM431.6 821.6h5v5h-5zM631.6 821.6h5v5h-5zM441.6 826.6h5v5h-5zM511.6 826.6h5v5h-5zM631.6 826.6h5v5h-5zM961.6 831.6h5v5h-5zM581.6 836.6h5v5h-5zM856.6 836.6h5v5h-5zM426.6 841.6h5v5h-5zM471.6 841.6h5v5h-5zM516.6 841.6h5v5h-5zM626.6 841.6h5v5h-5zM581.6 846.6h5v5h-5zM851.6 851.6h5v5h-5zM931.6 851.6h5v5h-5zM471.6 856.6h5v5h-5zM886.6 861.6h5v5h-5zM541.6 866.6h5v5h-5zM616.6 866.6h5v5h-5zM896.6 866.6h10v5h-10zM526.6 871.6h5v5h-5zM616.6 871.6h5v5h-5zM771.6 876.6h5v5h-5zM481.6 881.6h5v5h-5zM541.6 881.6h5v5h-5zM531.6 886.6h5v5h-5zM541.6 886.6h5v5h-5zM606.6 886.6h5v5h-5zM516.6 891.6h5v5h-5zM516.6 896.6h5v5h-5zM541.6 896.6h5v5h-5zM876.6 896.6h5v5h-5zM621.6 901.6h5v5h-5zM881.6 901.6h5v5h-5zM541.6 906.6h5v5h-5zM516.6 911.6h5v5h-5zM781.6 911.6h5v5h-5zM516.6 916.6h5v5h-5zM526.6 931.6h5v5h-5zM771.6 931.6h5v5h-5zM621.6 936.6h5v5h-5zM666.6 941.6h5v5h-5zM781.6 946.6h5v5h-5zM666.6 961.6h10v5h-10zM701.6 961.6h5v5h-5zM776.6 961.6h5v5h-5zM551.6 971.6h5v5h-5zM776.6 976.6h5v5h-5zM736.6 991.6h10v5h-10zM791.6 991.6h5v5h-5zM626.6 1051.6h5v5h-5zM651.6 1056.6h5v5h-5zM621.6 1066.6h5v5h-5z"/>
<path fill="#40ffb8" d="M826.6 266.6h5v5h-5zM811.6 276.6h5v5h-5zM781.6 286.6h5v5h-5zM766.6 301.6h5v5h-5zM801.6 306.6h5v5h-5zM816.6 306.6h5v5h-5zM821.6 316.6h5v5h-5zM821.6 326.6h5v5h-5zM836.6 331.6h5v5h-5zM751.6 341.6h5v5h-5zM781.6 341.6h5v5h-5zM761.6 356.6h5v5h-5zM721.6 366.6h5v5h-5zM751.6 371.6h5v5h-5zM761.6 371.6h5v5h-5zM681.6 391.6h5v5h-5zM716.6 391.6h5v5h-5zM726.6 401.6h5v5h-5zM731.6 406.6h5v5h-5zM736.6 416.6h5v5h-5zM516.6 426.6h5v5h-5zM701.6 426.6h5v5h-5zM546.6 436.6h5v5h-5zM586.6 436.6h5v5h-5zM676.6 436.6h5v5h-5zM691.6 441.6h5v5h-5zM556.6 446.6h5v5h-5zM571.6 446.6h5v5h-5zM646.6 446.6h5v5h-5zM661.6 446.6h5v5h-5zM636.6 451.6h5v5h-5zM701.6 451.6h5v5h-5zM781.6 451.6h5v5h-5zM516.6 461.6h5v5h-5zM706.6 461.6h5v5h-5zM546.6 471.6h5v5h-5zM736.6 471.6h5v5h-5zM671.6 476.6h5v5h-5zM706.6 476.6h5v5h-5zM731.6 481.6h5v5h-5zM756.6 481.6h5v5h-5zM696.6 486.6h5v5h-5zM541.6 491.6h5v5h-5zM701.6 496.6h5v5h-5zM741.6 501.6h10v5h-10zM771.6 501.6h5v5h-5zM596.6 506.6h5v5h-5zM686.6 506.6h5v5h-5zM446.6 511.6h5v5h-5zM826.6 511.6h5v5h-5zM741.6 516.6h5v5h-5zM781.6 516.6h5v5h-5zM411.6 521.6h5v5h-5zM551.6 521.6h5v5h-5zM601.6 526.6h5v5h-5zM786.6 526.6h5v5h-5zM601.6 531.6h5v5h-5zM746.6 536.6h5v5h-5zM591.6 541.6h5v5h-5zM626.6 541.6h5v5h-5zM966.6 541.6h5v5h-5zM986.6 546.6h5v5h-5zM586.6 551.6h5v5h-5zM586.6 556.6h5v5h-5zM796.6 556.6h5v5h-5zM806.6 556.6h5v5h-5zM981.6 556.6h5v5h-5zM961.6 561.6h5v5h-5zM766.6 566.6h5v5h-5zM866.6 566.6h5v5h-5zM956.6 566.6h5v5h-5zM616.6 571.6h5v5h-5zM781.6 571.6h10v5h-10zM831.6 571.6h5v5h-5zM846.6 571.6h5v5h-5zM871.6 571.6h5v5h-5zM986.6 576.6h5v5h-5zM996.6 576.6h5v5h-5zM616.6 581.6h5v5h-5zM506.6 591.6h5v5h-5zM841.6 591.6h5v5h-5zM591.6 596.6h5v5h-5zM851.6 596.6h5v5h-5zM851.6 601.6h5v5h-5zM1011.6 601.6h5v5h-5zM846.6 606.6h5v5h-5zM596.6 621.6h5v5h-5zM831.6 621.6h5v5h-5zM296.6 626.6h5v5h-5zM821.6 626.6h5v5h-5zM291.6 631.6h5v5h-5zM486.6 631.6h5v5h-5zM846.6 631.6h5v5h-5zM616.6 641.6h5v5h-5zM641.6 641.6h5v5h-5zM311.6 651.6h5v5h-5zM851.6 651.6h5v5h-5zM301.6 656.6h5v5h-5zM391.6 656.6h5v5h-5zM781.6 656.6h5v5h-5zM486.6 661.6h5v5h-5zM951.6 661.6h5v5h-5zM976.6 661.6h5v5h-5zM426.6 666.6h5v5h-5zM771.6 666.6h5v5h-5zM461.6 671.6h5v5h-5zM786.6 671.6h5v5h-5zM816.6 671.6h5v5h-5zM421.6 681.6h5v5h-5zM506.6 681.6h5v5h-5zM861.6 681.6h5v5h-5zM506.6 691.6h5v5h-5zM321.6 701.6h5v5h-5zM506.6 701.6h5v5h-5zM781.6 701.6h5v5h-5zM836.6 701.6h5v5h-5zM981.6 701.6h5v5h-5zM946.6 706.6h5v5h-5zM801.6 711.6h5v5h-5zM981.6 711.6h5v5h-5zM806.6 721.6h5v5h-5zM941.6 721.6h5v5h-5zM351.6 736.6h5v5h-5zM646.6 736.6h5v5h-5zM936.6 741.6h5v5h-5zM496.6 746.6h5v5h-5zM541.6 746.6h10v5h-10zM601.6 746.6h5v5h-5zM516.6 751.6h5v5h-5zM536.6 751.6h5v5h-5zM1046.6 751.6h5v5h-5zM511.6 756.6h5v5h-5zM566.6 756.6h5v5h-5zM716.6 756.6h5v5h-5zM576.6 761.6h5v5h-5zM601.6 761.6h5v5h-5zM626.6 761.6h5v5h-5zM366.6 766.6h5v5h-5zM646.6 766.6h5v5h-5zM611.6 771.6h5v5h-5zM416.6 781.6h5v5h-5zM491.6 781.6h5v5h-5zM616.6 781.6h10v5h-10zM806.6 781.6h5v5h-5zM441.6 786.6h5v5h-5zM741.6 786.6h5v5h-5zM801.6 786.6h10v5h-10zM901.6 786.6h5v5h-5zM886.6 791.6h5v5h-5zM916.6 791.6h5v5h-5zM461.6 796.6h5v5h-5zM926.6 796.6h5v5h-5zM911.6 801.6h5v5h-5zM466.6 806.6h5v5h-5zM486.6 811.6h5v5h-5zM626.6 811.6h5v5h-5zM771.6 811.6h5v5h-5zM931.6 816.6h5v5h-5zM456.6 821.6h5v5h-5zM466.6 821.6h5v5h-5zM826.6 821.6h5v5h-5zM886.6 826.6h5v5h-5zM631.6 836.6h5v5h-5zM831.6 836.6h5v5h-5zM941.6 836.6h5v5h-5zM476.6 841.6h5v5h-5zM526.6 841.6h5v5h-5zM536.6 841.6h5v5h-5zM856.6 846.6h5v5h-5zM616.6 851.6h5v5h-5zM841.6 856.6h5v5h-5zM866.6 856.6h5v5h-5zM481.6 861.6h5v5h-5zM616.6 861.6h5v5h-5zM461.6 871.6h5v5h-5zM766.6 871.6h5v5h-5zM616.6 881.6h5v5h-5zM911.6 886.6h5v5h-5zM531.6 891.6h5v5h-5zM906.6 891.6h5v5h-5zM636.6 911.6h5v5h-5zM616.6 921.6h5v5h-5zM546.6 941.6h5v5h-5zM556.6 941.6h5v5h-5zM621.6 941.6h5v5h-5zM586.6 946.6h20v5h-20zM686.6 951.6h5v5h-5zM636.6 956.6h5v5h-5zM551.6 961.6h5v5h-5zM706.6 966.6h5v5h-5zM781.6 976.6h5v5h-5zM796.6 981.6h5v5h-5zM766.6 986.6h5v5h-5zM761.6 991.6h5v5h-5zM766.6 1011.6h5v5h-5zM646.6 1031.6h5v5h-5zM631.6 1046.6h5v5h-5zM671.6 1056.6h5v5h-5zM676.6 1061.6h5v5h-5zM681.6 1066.6h5v5h-5z"/>
<path fill="#58ffa0" d="M801.6 241.6h5v5h-5zM791.6 256.6h10v5h-10zM766.6 261.6h5v5h-5zM771.6 301.6h5v5h-5zM721.6 311.6h5v5h-5zM731.6 311.6h5v5h-5zM811.6 311.6h5v5h-5zM681.6 321.6h5v5h-5zM751.6 326.6h5v5h-5zM846.6 331.6h5v5h-5zM661.6 336.6h5v5h-5zM856.6 336.6h5v5h-5zM771.6 341.6h5v5h-5zM816.6 341.6h5v5h-5zM636.6 346.6h5v5h-5zM751.6 346.6h5v5h-5zM781.6 346.6h5v5h-5zM676.6 351.6h5v5h-5zM721.6 371.6h5v5h-5zM746.6 371.6h5v5h-5zM756.6 371.6h5v5h-5zM726.6 376.6h5v5h-5zM726.6 396.6h5v5h-5zM756.6 396.6h5v5h-5zM661.6 401.6h5v5h-5zM691.6 401.6h5v5h-5zM671.6 406.6h5v5h-5zM736.6 411.6h5v5h-5zM756.6 411.6h5v5h-5zM531.6 416.6h5v5h-5zM611.6 426.6h5v5h-5zM516.6 436.6h5v5h-5zM551.6 436.6h5v5h-5zM736.6 436.6h5v5h-5zM786.6 441.6h5v5h-5zM676.6 446.6h5v5h-5zM701.6 446.6h5v5h-5zM576.6 461.6h5v5h-5zM651.6 461.6h5v5h-5zM686.6 461.6h5v5h-5zM701.6 461.6h5v5h-5zM941.6 461.6h5v5h-5zM541.6 471.6h5v5h-5zM706.6 481.6h5v5h-5zM541.6 486.6h5v5h-5zM761.6 486.6h5v5h-5zM756.6 491.6h5v5h-5zM551.6 496.6h5v5h-5zM571.6 501.6h5v5h-5zM591.6 501.6h10v5h-10zM701.6 511.6h5v5h-5zM736.6 511.6h5v5h-5zM561.6 516.6h5v5h-5zM406.6 521.6h5v5h-5zM716.6 526.6h5v5h-5zM736.6 526.6h5v5h-5zM751.6 526.6h5v5h-5zM971.6 526.6h5v5h-5zM616.6 531.6h5v5h-5zM711.6 531.6h10v5h-10zM481.6 536.6h5v5h-5zM596.6 536.6h5v5h-5zM616.6 536.6h5v5h-5zM606.6 541.6h5v5h-5zM761.6 541.6h5v5h-5zM451.6 546.6h5v5h-5zM586.6 546.6h5v5h-5zM456.6 551.6h5v5h-5zM731.6 551.6h5v5h-5zM986.6 556.6h5v5h-5zM961.6 566.6h5v5h-5zM481.6 571.6h5v5h-5zM826.6 571.6h5v5h-5zM951.6 571.6h5v5h-5zM966.6 576.6h5v5h-5zM511.6 586.6h5v5h-5zM991.6 586.6h5v5h-5zM606.6 591.6h5v5h-5zM996.6 591.6h10v5h-10zM506.6 596.6h5v5h-5zM966.6 606.6h5v5h-5zM646.6 616.6h5v5h-5zM281.6 621.6h5v5h-5zM761.6 621.6h5v5h-5zM986.6 621.6h5v5h-5zM596.6 626.6h5v5h-5zM1011.6 626.6h5v5h-5zM296.6 631.6h5v5h-5zM646.6 641.6h5v5h-5zM636.6 646.6h5v5h-5zM861.6 646.6h5v5h-5zM986.6 646.6h5v5h-5zM986.6 651.6h5v5h-5zM776.6 656.6h5v5h-5zM831.6 656.6h5v5h-5zM776.6 666.6h5v5h-5zM421.6 671.6h5v5h-5zM766.6 671.6h5v5h-5zM1011.6 671.6h5v5h-5zM626.6 676.6h5v5h-5zM786.6 676.6h5v5h-5zM786.6 681.6h5v5h-5zM831.6 686.6h5v5h-5zM646.6 696.6h5v5h-5zM986.6 696.6h5v5h-5zM636.6 701.6h5v5h-5zM801.6 701.6h5v5h-5zM946.6 701.6h5v5h-5zM656.6 711.6h5v5h-5zM326.6 716.6h5v5h-5zM461.6 716.6h5v5h-5zM971.6 716.6h5v5h-5zM341.6 721.6h5v5h-5zM816.6 721.6h5v5h-5zM471.6 726.6h5v5h-5zM661.6 731.6h5v5h-5zM841.6 731.6h5v5h-5zM1091.6 731.6h5v5h-5zM796.6 736.6h5v5h-5zM841.6 736.6h5v5h-5zM941.6 736.6h5v5h-5zM506.6 741.6h5v5h-5zM841.6 741.6h5v5h-5zM1026.6 741.6h5v5h-5zM791.6 746.6h10v5h-10zM526.6 751.6h5v5h-5zM831.6 751.6h5v5h-5zM861.6 751.6h5v5h-5zM351.6 756.6h5v5h-5zM516.6 756.6h15v5h-15zM646.6 761.6h5v5h-5zM656.6 761.6h5v5h-5zM361.6 766.6h5v5h-5zM406.6 766.6h5v5h-5zM866.6 766.6h5v5h-5zM876.6 766.6h5v5h-5zM371.6 771.6h5v5h-5zM371.6 776.6h5v5h-5zM786.6 776.6h5v5h-5zM886.6 776.6h5v5h-5zM376.6 781.6h5v5h-5zM486.6 781.6h5v5h-5zM611.6 781.6h5v5h-5zM891.6 781.6h5v5h-5zM621.6 786.6h5v5h-5zM401.6 791.6h10v5h-10zM616.6 791.6h5v5h-5zM921.6 791.6h10v5h-10zM811.6 801.6h5v5h-5zM851.6 801.6h5v5h-5zM861.6 801.6h5v5h-5zM621.6 806.6h5v5h-5zM851.6 806.6h5v5h-5zM926.6 806.6h5v5h-5zM851.6 811.6h10v5h-10zM491.6 816.6h5v5h-5zM441.6 821.6h5v5h-5zM771.6 821.6h5v5h-5zM516.6 826.6h5v5h-5zM466.6 831.6h5v5h-5zM636.6 831.6h5v5h-5zM886.6 831.6h5v5h-5zM526.6 836.6h5v5h-5zM521.6 841.6h5v5h-5zM856.6 841.6h5v5h-5zM906.6 841.6h5v5h-5zM931.6 841.6h5v5h-5zM831.6 846.6h5v5h-5zM901.6 846.6h5v5h-5zM861.6 851.6h5v5h-5zM946.6 851.6h5v5h-5zM476.6 856.6h5v5h-5zM491.6 856.6h5v5h-5zM541.6 856.6h5v5h-5zM756.6 856.6h5v5h-5zM946.6 856.6h5v5h-5zM866.6 866.6h5v5h-5zM866.6 871.6h5v5h-5zM471.6 876.6h5v5h-5zM526.6 876.6h5v5h-5zM501.6 881.6h5v5h-5zM526.6 881.6h5v5h-5zM551.6 881.6h5v5h-5zM511.6 886.6h5v5h-5zM616.6 886.6h5v5h-5zM871.6 886.6h5v5h-5zM881.6 886.6h5v5h-5zM546.6 901.6h5v5h-5zM786.6 901.6h5v5h-5zM786.6 911.6h5v5h-5zM651.6 916.6h5v5h-5zM771.6 926.6h5v5h-5zM546.6 936.6h5v5h-5zM581.6 936.6h5v5h-5zM571.6 946.6h5v5h-5zM611.6 951.6h5v5h-5zM631.6 951.6h5v5h-5zM651.6 961.6h5v5h-5zM676.6 966.6h5v5h-5zM776.6 971.6h5v5h-5zM736.6 976.6h5v5h-5zM756.6 991.6h5v5h-5zM796.6 991.6h5v5h-5zM791.6 996.6h5v5h-5zM781.6 1001.6h10v5h-10zM636.6 1041.6h5v5h-5z"/>
<path fill="#80ff80" d="M771.6 256.6h5v5h-5zM761.6 276.6h5v5h-5zM781.6 276.6h5v5h-5zM736.6 281.6h5v5h-5zM746.6 286.6h5v5h-5zM831.6 296.6h5v5h-5zM731.6 306.6h5v5h-5zM851.6 306.6h5v5h-5zM751.6 331.6h5v5h-5zM851.6 331.6h5v5h-5zM691.6 336.6h5v5h-5zM741.6 336.6h5v5h-5zM836.6 336.6h5v5h-5zM761.6 341.6h5v5h-5zM676.6 346.6h5v5h-5zM636.6 351.6h5v5h-5zM646.6 351.6h5v5h-5zM741.6 376.6h5v5h-5zM681.6 386.6h5v5h-5zM726.6 386.6h5v5h-5zM736.6 396.6h5v5h-5zM801.6 396.6h5v5h-5zM771.6 401.6h5v5h-5zM536.6 406.6h5v5h-5zM551.6 406.6h5v5h-5zM676.6 406.6h5v5h-5zM761.6 411.6h5v5h-5zM676.6 416.6h5v5h-5zM751.6 416.6h5v5h-5zM746.6 426.6h5v5h-5zM636.6 431.6h5v5h-5zM791.6 436.6h5v5h-5zM706.6 441.6h5v5h-5zM556.6 451.6h5v5h-5zM936.6 451.6h5v5h-5zM646.6 461.6h5v5h-5zM541.6 466.6h5v5h-5zM536.6 476.6h5v5h-5zM676.6 481.6h10v5h-10zM581.6 491.6h5v5h-5zM691.6 491.6h10v5h-10zM551.6 501.6h5v5h-5zM746.6 506.6h5v5h-5zM826.6 506.6h5v5h-5zM426.6 516.6h5v5h-5zM556.6 516.6h5v5h-5zM701.6 516.6h5v5h-5zM956.6 521.6h5v5h-5zM971.6 521.6h5v5h-5zM541.6 531.6h5v5h-5zM971.6 531.6h5v5h-5zM536.6 536.6h5v5h-5zM966.6 536.6h5v5h-5zM976.6 536.6h5v5h-5zM521.6 541.6h5v5h-5zM586.6 541.6h5v5h-5zM971.6 541.6h5v5h-5zM471.6 551.6h5v5h-5zM726.6 551.6h5v5h-5zM741.6 551.6h5v5h-5zM951.6 551.6h5v5h-5zM961.6 551.6h5v5h-5zM761.6 556.6h5v5h-5zM471.6 561.6h5v5h-5zM621.6 561.6h5v5h-5zM721.6 561.6h5v5h-5zM861.6 561.6h5v5h-5zM966.6 561.6h5v5h-5zM486.6 566.6h5v5h-5zM616.6 566.6h5v5h-5zM736.6 566.6h5v5h-5zM471.6 571.6h5v5h-5zM966.6 571.6h5v5h-5zM511.6 581.6h5v5h-5zM831.6 591.6h5v5h-5zM491.6 596.6h5v5h-5zM451.6 601.6h5v5h-5zM756.6 601.6h5v5h-5zM831.6 601.6h5v5h-5zM616.6 611.6h5v5h-5zM636.6 611.6h5v5h-5zM276.6 616.6h5v5h-5zM831.6 616.6h5v5h-5zM1001.6 616.6h5v5h-5zM821.6 621.6h5v5h-5zM601.6 626.6h5v5h-5zM836.6 626.6h5v5h-5zM276.6 631.6h5v5h-5zM851.6 631.6h5v5h-5zM291.6 636.6h5v5h-5zM286.6 641.6h5v5h-5zM636.6 641.6h5v5h-5zM441.6 646.6h10v5h-10zM346.6 651.6h5v5h-5zM386.6 651.6h5v5h-5zM441.6 651.6h5v5h-5zM841.6 651.6h5v5h-5zM461.6 656.6h5v5h-5zM486.6 656.6h5v5h-5zM616.6 656.6h5v5h-5zM631.6 656.6h5v5h-5zM646.6 656.6h5v5h-5zM976.6 656.6h5v5h-5zM636.6 661.6h5v5h-5zM781.6 661.6h5v5h-5zM986.6 661.6h5v5h-5zM841.6 666.6h5v5h-5zM401.6 676.6h5v5h-5zM626.6 681.6h10v5h-10zM816.6 686.6h5v5h-5zM331.6 701.6h5v5h-5zM506.6 706.6h5v5h-5zM786.6 706.6h5v5h-5zM331.6 711.6h5v5h-5zM636.6 711.6h5v5h-5zM646.6 711.6h5v5h-5zM796.6 711.6h5v5h-5zM836.6 721.6h5v5h-5zM346.6 726.6h5v5h-5zM461.6 726.6h5v5h-5zM806.6 726.6h5v5h-5zM956.6 726.6h5v5h-5zM971.6 731.6h5v5h-5zM821.6 736.6h5v5h-5zM971.6 736.6h5v5h-5zM496.6 741.6h5v5h-5zM556.6 741.6h5v5h-5zM826.6 741.6h5v5h-5zM1031.6 741.6h5v5h-5zM1051.6 746.6h5v5h-5zM601.6 751.6h5v5h-5zM841.6 751.6h5v5h-5zM501.6 756.6h5v5h-5zM626.6 756.6h5v5h-5zM561.6 761.6h5v5h-5zM651.6 761.6h5v5h-5zM661.6 761.6h5v5h-5zM431.6 766.6h5v5h-5zM521.6 766.6h5v5h-5zM571.6 766.6h5v5h-5zM841.6 766.6h5v5h-5zM946.6 771.6h5v5h-5zM476.6 776.6h5v5h-5zM721.6 776.6h5v5h-5zM856.6 776.6h5v5h-5zM461.6 786.6h5v5h-5zM776.6 786.6h5v5h-5zM616.6 801.6h5v5h-5zM476.6 806.6h5v5h-5zM511.6 806.6h5v5h-5zM481.6 811.6h5v5h-5zM466.6 816.6h5v5h-5zM486.6 816.6h5v5h-5zM451.6 821.6h5v5h-5zM951.6 821.6h5v5h-5zM761.6 826.6h5v5h-5zM961.6 826.6h5v5h-5zM441.6 831.6h5v5h-5zM876.6 831.6h5v5h-5zM756.6 836.6h5v5h-5zM901.6 836.6h5v5h-5zM476.6 846.6h5v5h-5zM626.6 846.6h5v5h-5zM911.6 846.6h5v5h-5zM921.6 846.6h5v5h-5zM841.6 851.6h5v5h-5zM436.6 856.6h5v5h-5zM906.6 856.6h5v5h-5zM866.6 861.6h5v5h-5zM771.6 871.6h5v5h-5zM466.6 876.6h5v5h-5zM531.6 881.6h5v5h-5zM611.6 881.6h5v5h-5zM861.6 881.6h5v5h-5zM611.6 886.6h5v5h-5zM551.6 891.6h5v5h-5zM521.6 896.6h5v5h-5zM631.6 901.6h5v5h-5zM771.6 936.6h5v5h-5zM581.6 941.6h5v5h-5zM671.6 941.6h5v5h-5zM691.6 961.6h5v5h-5zM706.6 961.6h5v5h-5zM781.6 961.6h5v5h-5zM686.6 966.6h5v5h-5zM611.6 971.6h5v5h-5zM791.6 976.6h5v5h-5zM616.6 981.6h5v5h-5zM726.6 981.6h5v5h-5zM626.6 986.6h5v5h-5zM716.6 986.6h5v5h-5zM631.6 991.6h5v5h-5zM776.6 1006.6h5v5h-5zM636.6 1011.6h5v5h-5zM641.6 1021.6h5v5h-5zM631.6 1041.6h5v5h-5zM646.6 1056.6h5v5h-5zM661.6 1056.6h5v5h-5z"/>
<path fill="#b81010" d="M656.6 351.6h5v5h-5zM756.6 351.6h5v5h-5zM591.6 511.6h10v5h-10zM591.6 516.6h10v5h-10zM581.6 521.6h20v5h-20zM581.6 526.6h20v5h-20zM501.6 571.6h10v5h-10zM501.6 576.6h10v5h-10zM1016.6 616.6h5v5h-5zM1016.6 621.6h5v5h-5zM991.6 661.6h10v5h-10zM991.6 666.6h10v5h-10zM996.6 671.6h10v5h-10zM321.6 711.6h5v5h-5zM971.6 711.6h5v5h-5zM426.6 756.6h10v5h-10zM426.6 761.6h5v5h-5zM401.6 786.6h5v5h-5zM486.6 826.6h15v5h-15zM481.6 831.6h5v5h-5zM496.6 831.6h5v5h-5zM911.6 831.6h5v5h-5zM496.6 836.6h5v5h-5z"/>
<path fill="#d4d4d4" filter="url(#sar)" d="M581.6 511.6h10v5h-10zM581.6 516.6h10v5h-10zM951.6 746.6h15v5h-15zM951.6 751.6h15v5h-15zM506.6 866.6h15v5h-15zM506.6 871.6h15v5h-15zM506.6 876.6h15v5h-15z"/>
<path fill="#ff2000" d="M801.6 301.6h5v5h-5zM701.6 356.6h5v5h-5zM741.6 526.6h5v5h-5zM421.6 766.6h5v5h-5zM951.6 776.6h10v5h-10zM476.6 821.6h5v5h-5zM476.6 826.6h5v5h-5z"/>
<path fill="#ff7000" d="M771.6 291.6h5v5h-5zM796.6 291.6h5v5h-5zM736.6 306.6h5v5h-5zM761.6 316.6h5v5h-5zM741.6 331.6h5v5h-5zM841.6 331.6h5v5h-5zM756.6 336.6h5v5h-5zM766.6 336.6h5v5h-5zM631.6 346.6h5v5h-5zM681.6 376.6h5v5h-5zM721.6 416.6h5v5h-5zM686.6 421.6h5v5h-5zM526.6 436.6h5v5h-5zM731.6 441.6h5v5h-5zM566.6 461.6h10v5h-10zM726.6 466.6h5v5h-5zM581.6 506.6h5v5h-5zM951.6 536.6h5v5h-5zM946.6 541.6h5v5h-5zM786.6 551.6h5v5h-5zM961.6 556.6h5v5h-5zM496.6 566.6h5v5h-5zM951.6 576.6h5v5h-5zM966.6 591.6h5v5h-5zM476.6 596.6h5v5h-5zM276.6 641.6h5v5h-5zM771.6 656.6h5v5h-5zM301.6 661.6h5v5h-5zM1001.6 666.6h5v5h-5zM986.6 691.6h5v5h-5zM321.6 706.6h5v5h-5zM331.6 716.6h5v5h-5zM976.6 716.6h5v5h-5zM816.6 731.6h5v5h-5zM1081.6 731.6h5v5h-5zM511.6 746.6h5v5h-5zM506.6 751.6h5v5h-5zM431.6 761.6h5v5h-5zM506.6 761.6h5v5h-5zM516.6 761.6h5v5h-5zM416.6 766.6h5v5h-5zM511.6 771.6h5v5h-5zM946.6 776.6h5v5h-5zM406.6 781.6h5v5h-5zM856.6 781.6h5v5h-5zM871.6 796.6h5v5h-5zM476.6 816.6h5v5h-5zM956.6 816.6h5v5h-5zM481.6 821.6h5v5h-5zM911.6 821.6h5v5h-5zM471.6 831.6h5v5h-5zM916.6 831.6h5v5h-5zM471.6 836.6h5v5h-5zM921.6 836.6h5v5h-5zM936.6 836.6h5v5h-5zM911.6 841.6h5v5h-5zM496.6 846.6h5v5h-5zM446.6 866.6h5v5h-5zM526.6 921.6h5v5h-5zM546.6 931.6h5v5h-5zM646.6 1041.6h5v5h-5zM631.6 1061.6h5v5h-5z"/>
<path fill="#ff7800" d="M781.6 356.6h5v5h-5zM941.6 501.6h5v5h-5zM761.6 616.6h5v5h-5zM1006.6 636.6h5v5h-5zM1006.6 641.6h5v5h-5zM1006.6 651.6h5v5h-5zM946.6 666.6h5v5h-5zM941.6 696.6h5v5h-5zM621.6 761.6h5v5h-5zM766.6 771.6h5v5h-5zM836.6 776.6h5v5h-5zM761.6 786.6h5v5h-5zM941.6 796.6h5v5h-5zM861.6 841.6h5v5h-5zM461.6 876.6h5v5h-5z"/>
<path fill="#ff9000" d="M771.6 356.6h10v5h-10zM941.6 481.6h5v5h-5zM941.6 496.6h5v5h-5zM1016.6 586.6h5v5h-5zM951.6 636.6h5v5h-5zM981.6 646.6h5v5h-5zM946.6 676.6h5v5h-5zM941.6 681.6h5v5h-5zM941.6 686.6h5v5h-5zM946.6 736.6h5v5h-5zM636.6 756.6h10v5h-10zM416.6 771.6h5v5h-5zM756.6 771.6h5v5h-5zM761.6 796.6h5v5h-5z"/>
<path fill="#ffa800" d="M786.6 356.6h5v5h-5zM941.6 491.6h5v5h-5zM751.6 576.6h5v5h-5zM951.6 611.6h5v5h-5zM951.6 616.6h5v5h-5zM951.6 621.6h5v5h-5zM951.6 656.6h5v5h-5zM426.6 771.6h5v5h-5zM751.6 771.6h5v5h-5zM761.6 771.6h5v5h-5zM761.6 791.6h5v5h-5zM526.6 816.6h5v5h-5zM916.6 856.6h5v5h-5zM621.6 956.6h10v5h-10z"/>
<path fill="#ffc000" d="M751.6 581.6h5v5h-5zM751.6 586.6h5v5h-5zM966.6 601.6h5v5h-5zM951.6 631.6h5v5h-5zM951.6 646.6h5v5h-5zM781.6 686.6h5v5h-5zM946.6 726.6h5v5h-5zM611.6 761.6h5v5h-5zM941.6 781.6h5v5h-5zM526.6 811.6h5v5h-5zM936.6 816.6h5v5h-5zM526.6 821.6h5v5h-5zM626.6 946.6h5v5h-5zM626.6 951.6h5v5h-5z"/>
<path fill="#ffd800" d="M941.6 486.6h5v5h-5zM751.6 571.6h5v5h-5zM966.6 586.6h5v5h-5zM951.6 606.6h5v5h-5zM1006.6 611.6h10v5h-10zM951.6 641.6h5v5h-5zM946.6 671.6h5v5h-5zM781.6 681.6h5v5h-5zM941.6 691.6h5v5h-5zM606.6 761.6h5v5h-5zM616.6 761.6h5v5h-5zM411.6 771.6h5v5h-5zM421.6 771.6h5v5h-5zM841.6 776.6h10v5h-10zM941.6 786.6h5v5h-5zM411.6 791.6h10v5h-10zM941.6 791.6h5v5h-5zM941.6 816.6h5v5h-5zM861.6 846.6h5v5h-5zM461.6 881.6h5v5h-5zM616.6 956.6h5v5h-5z"/>
<path fill="#ffe000" d="M746.6 341.6h5v5h-5zM776.6 341.6h5v5h-5zM786.6 351.6h5v5h-5zM526.6 426.6h5v5h-5zM721.6 446.6h5v5h-5zM731.6 446.6h5v5h-5zM531.6 466.6h5v5h-5zM736.6 496.6h5v5h-5zM491.6 581.6h5v5h-5zM996.6 621.6h5v5h-5zM291.6 656.6h5v5h-5zM326.6 701.6h5v5h-5zM1071.6 731.6h5v5h-5zM1066.6 736.6h5v5h-5zM911.6 826.6h5v5h-5zM466.6 836.6h5v5h-5zM481.6 836.6h5v5h-5zM911.6 836.6h5v5h-5zM491.6 846.6h5v5h-5zM641.6 921.6h5v5h-5zM556.6 926.6h5v5h-5zM776.6 1011.6h5v5h-5z"/>
<path fill="#ffe400" d="M766.6 356.6h5v5h-5zM966.6 581.6h5v5h-5zM966.6 596.6h5v5h-5zM761.6 606.6h5v5h-5zM761.6 611.6h5v5h-5zM1016.6 611.6h5v5h-5zM951.6 626.6h5v5h-5zM981.6 631.6h5v5h-5zM766.6 636.6h5v5h-5zM981.6 636.6h5v5h-5zM766.6 641.6h5v5h-5zM981.6 641.6h5v5h-5zM1006.6 646.6h5v5h-5zM951.6 651.6h5v5h-5zM946.6 731.6h5v5h-5zM911.6 856.6h5v5h-5z"/></g>
<clipPath id="clip-region-b"><path d="M796.6 241.6h20.0v5.0h-20.0zM786.6 246.6h35.0v5.0h-35.0zM781.6 251.6h45.0v5.0h-45.0zM771.6 256.6h55.0v5.0h-55.0zM766.6 261.6h65.0v5.0h-65.0zM756.6 266.6h75.0v5.0h-75.0zM751.6 271.6h85.0v5.0h-85.0zM741.6 276.6h100.0v5.0h-100.0zM731.6 281.6h110.0v5.0h-110.0zM726.6 286.6h120.0v5.0h-120.0zM716.6 291.6h130.0v5.0h-130.0zM706.6 296.6h145.0v5.0h-145.0zM701.6 301.6h150.0v5.0h-150.0zM691.6 306.6h165.0v5.0h-165.0zM681.6 311.6h180.0v5.0h-180.0zM676.6 316.6h185.0v5.0h-185.0zM666.6 321.6h200.0v5.0h-200.0zM656.6 326.6h210.0v5.0h-210.0zM646.6 331.6h225.0v5.0h-225.0zM641.6 336.6h230.0v5.0h-230.0zM631.6 341.6h245.0v5.0h-245.0zM621.6 346.6h255.0v5.0h-255.0zM616.6 351.6h265.0v5.0h-265.0zM606.6 356.6h280.0v5.0h-280.0zM596.6 361.6h290.0v5.0h-290.0zM591.6 366.6h300.0v5.0h-300.0zM581.6 371.6h310.0v5.0h-310.0zM571.6 376.6h325.0v5.0h-325.0zM566.6 381.6h335.0v5.0h-335.0zM556.6 386.6h345.0v5.0h-345.0zM546.6 391.6h360.0v5.0h-360.0zM541.6 396.6h365.0v5.0h-365.0zM531.6 401.6h380.0v5.0h-380.0zM526.6 406.6h385.0v5.0h-385.0zM516.6 411.6h400.0v5.0h-400.0zM506.6 416.6h410.0v5.0h-410.0zM501.6 421.6h420.0v5.0h-420.0zM491.6 426.6h435.0v5.0h-435.0zM486.6 431.6h440.0v5.0h-440.0zM476.6 436.6h455.0v5.0h-455.0zM471.6 441.6h460.0v5.0h-460.0zM466.6 446.6h470.0v5.0h-470.0zM461.6 451.6h480.0v5.0h-480.0zM456.6 456.6h485.0v5.0h-485.0zM446.6 461.6h500.0v5.0h-500.0zM441.6 466.6h505.0v5.0h-505.0zM436.6 471.6h515.0v5.0h-515.0zM431.6 476.6h525.0v5.0h-525.0zM426.6 481.6h530.0v5.0h-530.0zM416.6 486.6h545.0v5.0h-545.0zM411.6 491.6h550.0v5.0h-550.0zM406.6 496.6h560.0v5.0h-560.0zM401.6 501.6h570.0v5.0h-570.0zM391.6 506.6h580.0v5.0h-580.0zM386.6 511.6h590.0v5.0h-590.0zM381.6 516.6h595.0v5.0h-595.0zM371.6 521.6h610.0v5.0h-610.0zM366.6 526.6h620.0v5.0h-620.0zM361.6 531.6h625.0v5.0h-625.0zM351.6 536.6h640.0v5.0h-640.0zM346.6 541.6h645.0v5.0h-645.0zM341.6 546.6h655.0v5.0h-655.0zM331.6 551.6h670.0v5.0h-670.0zM326.6 556.6h675.0v5.0h-675.0zM321.6 561.6h685.0v5.0h-685.0zM316.6 566.6h690.0v5.0h-690.0zM311.6 571.6h700.0v5.0h-700.0zM301.6 576.6h715.0v5.0h-715.0zM296.6 581.6h720.0v5.0h-720.0zM291.6 586.6h730.0v5.0h-730.0zM286.6 591.6h735.0v5.0h-735.0zM281.6 596.6h745.0v5.0h-745.0zM276.6 601.6h755.0v5.0h-755.0zM271.6 606.6h760.0v5.0h-760.0zM266.6 611.6h770.0v5.0h-770.0zM261.6 616.6h775.0v5.0h-775.0zM266.6 621.6h775.0v5.0h-775.0zM266.6 626.6h780.0v5.0h-780.0zM271.6 631.6h775.0v5.0h-775.0zM276.6 636.6h775.0v5.0h-775.0zM276.6 641.6h775.0v5.0h-775.0zM281.6 646.6h775.0v5.0h-775.0zM286.6 651.6h775.0v5.0h-775.0zM286.6 656.6h780.0v5.0h-780.0zM291.6 661.6h775.0v5.0h-775.0zM291.6 666.6h780.0v5.0h-780.0zM296.6 671.6h780.0v5.0h-780.0zM296.6 676.6h780.0v5.0h-780.0zM301.6 681.6h780.0v5.0h-780.0zM306.6 686.6h780.0v5.0h-780.0zM306.6 691.6h785.0v5.0h-785.0zM311.6 696.6h780.0v5.0h-780.0zM316.6 701.6h780.0v5.0h-780.0zM316.6 706.6h785.0v5.0h-785.0zM321.6 711.6h785.0v5.0h-785.0zM326.6 716.6h780.0v5.0h-780.0zM331.6 721.6h775.0v5.0h-775.0zM331.6 726.6h775.0v5.0h-775.0zM336.6 731.6h765.0v5.0h-765.0zM341.6 736.6h750.0v5.0h-750.0zM341.6 741.6h735.0v5.0h-735.0zM346.6 746.6h730.0v5.0h-730.0zM351.6 751.6h720.0v5.0h-720.0zM351.6 756.6h715.0v5.0h-715.0zM356.6 761.6h705.0v5.0h-705.0zM361.6 766.6h695.0v5.0h-695.0zM366.6 771.6h685.0v5.0h-685.0zM366.6 776.6h675.0v5.0h-675.0zM371.6 781.6h665.0v5.0h-665.0zM376.6 786.6h655.0v5.0h-655.0zM381.6 791.6h645.0v5.0h-645.0zM386.6 796.6h635.0v5.0h-635.0zM391.6 801.6h625.0v5.0h-625.0zM391.6 806.6h615.0v5.0h-615.0zM396.6 811.6h605.0v5.0h-605.0zM401.6 816.6h595.0v5.0h-595.0zM406.6 821.6h585.0v5.0h-585.0zM411.6 826.6h575.0v5.0h-575.0zM416.6 831.6h565.0v5.0h-565.0zM421.6 836.6h555.0v5.0h-555.0zM421.6 841.6h550.0v5.0h-550.0zM426.6 846.6h540.0v5.0h-540.0zM431.6 851.6h530.0v5.0h-530.0zM436.6 856.6h520.0v5.0h-520.0zM441.6 861.6h510.0v5.0h-510.0zM446.6 866.6h500.0v5.0h-500.0zM446.6 871.6h495.0v5.0h-495.0zM451.6 876.6h480.0v5.0h-480.0zM456.6 881.6h470.0v5.0h-470.0zM461.6 886.6h460.0v5.0h-460.0zM466.6 891.6h450.0v5.0h-450.0zM471.6 896.6h440.0v5.0h-440.0zM471.6 901.6h435.0v5.0h-435.0zM476.6 906.6h425.0v5.0h-425.0zM481.6 911.6h415.0v5.0h-415.0zM486.6 916.6h405.0v5.0h-405.0zM491.6 921.6h395.0v5.0h-395.0zM496.6 926.6h380.0v5.0h-380.0zM501.6 931.6h370.0v5.0h-370.0zM506.6 936.6h360.0v5.0h-360.0zM511.6 941.6h350.0v5.0h-350.0zM516.6 946.6h340.0v5.0h-340.0zM516.6 951.6h335.0v5.0h-335.0zM521.6 956.6h325.0v5.0h-325.0zM526.6 961.6h315.0v5.0h-315.0zM531.6 966.6h300.0v5.0h-300.0zM536.6 971.6h290.0v5.0h-290.0zM541.6 976.6h280.0v5.0h-280.0zM546.6 981.6h270.0v5.0h-270.0zM551.6 986.6h260.0v5.0h-260.0zM556.6 991.6h250.0v5.0h-250.0zM561.6 996.6h240.0v5.0h-240.0zM566.6 1001.6h230.0v5.0h-230.0zM571.6 1006.6h220.0v5.0h-220.0zM576.6 1011.6h205.0v5.0h-205.0zM581.6 1016.6h195.0v5.0h-195.0zM581.6 1021.6h190.0v5.0h-190.0zM586.6 1026.6h180.0v5.0h-180.0zM591.6 1031.6h170.0v5.0h-170.0zM596.6 1036.6h155.0v5.0h-155.0zM601.6 1041.6h145.0v5.0h-145.0zM606.6 1046.6h135.0v5.0h-135.0zM611.6 1051.6h125.0v5.0h-125.0zM611.6 1056.6h120.0v5.0h-120.0zM616.6 1061.6h110.0v5.0h-110.0zM621.6 1066.6h95.0v5.0h-95.0zM626.6 1071.6h85.0v5.0h-85.0zM631.6 1076.6h75.0v5.0h-75.0zM636.6 1081.6h60.0v5.0h-60.0zM641.6 1086.6h50.0v5.0h-50.0zM646.6 1091.6h35.0v5.0h-35.0zM646.6 1096.6h25.0v5.0h-25.0zM656.6 1101.6h10.0v5.0h-10.0z"/></clipPath>
<g stroke="#8f7f55" stroke-opacity="0.8" stroke-width="0.9" fill="none" clip-path="url(#clip-region-b)"><line x1="278.6" y1="85.3" x2="288" y2="1486.8"/><line x1="480" y1="84.3" x2="493.5" y2="1484.8"/><line x1="680.9" y1="82.2" x2="700" y2="1482.7"/><line x1="882.5" y1="79.6" x2="905.8" y2="1479.6"/><line x1="1083.9" y1="74.9" x2="1111.4" y2="1475.4"/><line x1="1284.7" y1="70.8" x2="1318.5" y2="1470.2"/><path d="M188.4 134.4Q747.7 129.8 1307 117.3"/><path d="M189.5 367.5Q751 363.2 1312.5 350.9"/><path d="M190.7 600.6Q754.2 596.6 1317.8 584.6"/><path d="M191.8 833.7Q757.6 829.8 1323.5 817.8"/><path d="M193 1066.9Q761 1063 1329 1051"/><path d="M194.1 1300.6Q764.3 1296.7 1334.5 1284.8"/></g>
<polygon points="814.8,219.5 1168.2,802.4 581.7,1168 228,584.3" fill="none" stroke="#0f7416" stroke-width="5.6" stroke-linejoin="miter"/>
<polygon points="769.4,178 1208.9,675.8 672.6,1157.6 233.2,655.7" fill="none" stroke="#18cc18" stroke-width="5" stroke-linejoin="miter"/>
<path d="M186.8 68V1491.7H1341" fill="none" stroke="#111" stroke-width="1.3"/>
<rect x="1359.1" y="1469.45" width="35.7" height="22.65" fill="#00008f"/>
<rect x="1359.1" y="1447.21" width="35.7" height="22.65" fill="#00009f"/>
<rect x="1359.1" y="1424.96" width="35.7" height="22.65" fill="#0000af"/>
<rect x="1359.1" y="1402.72" width="35.7" height="22.65" fill="#0000bf"/>
<rect x="1359.1" y="1380.47" width="35.7" height="22.65" fill="#0000cf"/>
<rect x="1359.1" y="1358.23" width="35.7" height="22.65" fill="#0000df"/>
<rect x="1359.1" y="1335.98" width="35.7" height="22.65" fill="#0000ef"/>
<rect x="1359.1" y="1313.74" width="35.7" height="22.65" fill="#0000ff"/>
<rect x="1359.1" y="1291.49" width="35.7" height="22.65" fill="#0010ff"/>
<rect x="1359.1" y="1269.25" width="35.7" height="22.65" fill="#0020ff"/>
<rect x="1359.1" y="1247.00" width="35.7" height="22.65" fill="#0030ff"/>
<rect x="1359.1" y="1224.76" width="35.7" height="22.65" fill="#0040ff"/>
<rect x="1359.1" y="1202.51" width="35.7" height="22.65" fill="#0050ff"/>
<rect x="1359.1" y="1180.27" width="35.7" height="22.65" fill="#0060ff"/>
<rect x="1359.1" y="1158.02" width="35.7" height="22.65" fill="#0070ff"/>
<rect x="1359.1" y="1135.78" width="35.7" height="22.65" fill="#0080ff"/>
<rect x="1359.1" y="1113.53" width="35.7" height="22.65" fill="#008fff"/>
<rect x="1359.1" y="1091.28" width="35.7" height="22.65" fill="#009fff"/>
<rect x="1359.1" y="1069.04" width="35.7" height="22.65" fill="#00afff"/>
<rect x="1359.1" y="1046.79" width="35.7" height="22.65" fill="#00bfff"/>
<rect x="1359.1" y="1024.55" width="35.7" height="22.65" fill="#00cfff"/>
<rect x="1359.1" y="1002.30" width="35.7" height="22.65" fill="#00dfff"/>
<rect x="1359.1" y="980.06" width="35.7" height="22.65" fill="#00efff"/>
<rect x="1359.1" y="957.81" width="35.7" height="22.65" fill="#00ffff"/>
<rect x="1359.1" y="935.57" width="35.7" height="22.65" fill="#10ffef"/>
<rect x="1359.1" y="913.32" width="35.7" height="22.65" fill="#20ffdf"/>
<rect x="1359.1" y="891.08" width="35.7" height="22.65" fill="#30ffcf"/>
<rect x="1359.1" y="868.83" width="35.7" height="22.65" fill="#40ffbf"/>
<rect x="1359.1" y="846.59" width="35.7" height="22.65" fill="#50ffaf"/>
<rect x="1359.1" y="824.34" width="35.7" height="22.65" fill="#60ff9f"/>
<rect x="1359.1" y="802.10" width="35.7" height="22.65" fill="#70ff8f"/>
<rect x="1359.1" y="779.85" width="35.7" height="22.65" fill="#80ff80"/>
<rect x="1359.1" y="757.60" width="35.7" height="22.65" fill="#8fff70"/>
<rect x="1359.1" y="735.36" width="35.7" height="22.65" fill="#9fff60"/>
<rect x="1359.1" y="713.11" width="35.7" height="22.65" fill="#afff50"/>
<rect x="1359.1" y="690.87" width="35.7" height="22.65" fill="#bfff40"/>
<rect x="1359.1" y="668.62" width="35.7" height="22.65" fill="#cfff30"/>
<rect x="1359.1" y="646.38" width="35.7" height="22.65" fill="#dfff20"/>
<rect x="1359.1" y="624.13" width="35.7" height="22.65" fill="#efff10"/>
<rect x="1359.1" y="601.89" width="35.7" height="22.65" fill="#ffff00"/>
<rect x="1359.1" y="579.64" width="35.7" height="22.65" fill="#ffef00"/>
<rect x="1359.1" y="557.40" width="35.7" height="22.65" fill="#ffdf00"/>
<rect x="1359.1" y="535.15" width="35.7" height="22.65" fill="#ffcf00"/>
<rect x="1359.1" y="512.91" width="35.7" height="22.65" fill="#ffbf00"/>
<rect x="1359.1" y="490.66" width="35.7" height="22.65" fill="#ffaf00"/>
<rect x="1359.1" y="468.42" width="35.7" height="22.65" fill="#ff9f00"/>
<rect x="1359.1" y="446.17" width="35.7" height="22.65" fill="#ff8f00"/>
<rect x="1359.1" y="423.92" width="35.7" height="22.65" fill="#ff8000"/>
<rect x="1359.1" y="401.68" width="35.7" height="22.65" fill="#ff7000"/>
<rect x="1359.1" y="379.43" width="35.7" height="22.65" fill="#ff6000"/>
<rect x="1359.1" y="357.19" width="35.7" height="22.65" fill="#ff5000"/>
<rect x="1359.1" y="334.94" width="35.7" height="22.65" fill="#ff4000"/>
<rect x="1359.1" y="312.70" width="35.7" height="22.65" fill="#ff3000"/>
<rect x="1359.1" y="290.45" width="35.7" height="22.65" fill="#ff2000"/>
<rect x="1359.1" y="268.21" width="35.7" height="22.65" fill="#ff1000"/>
<rect x="1359.1" y="245.96" width="35.7" height="22.65" fill="#ff0000"/>
<rect x="1359.1" y="223.72" width="35.7" height="22.65" fill="#ef0000"/>
<rect x="1359.1" y="201.47" width="35.7" height="22.65" fill="#df0000"/>
<rect x="1359.1" y="179.23" width="35.7" height="22.65" fill="#cf0000"/>
<rect x="1359.1" y="156.98" width="35.7" height="22.65" fill="#bf0000"/>
<rect x="1359.1" y="134.74" width="35.7" height="22.65" fill="#af0000"/>
<rect x="1359.1" y="112.49" width="35.7" height="22.65" fill="#9f0000"/>
<rect x="1359.1" y="90.25" width="35.7" height="22.65" fill="#8f0000"/>
<rect x="1359.1" y="68.00" width="35.7" height="22.65" fill="#800000"/>
<line x1="1394.5" y1="68" x2="1394.5" y2="1491.7" stroke="#222" stroke-width="1"/>
<text transform="translate(1407.3 1507) scale(0.95 1)" font-size="45" font-weight="bold" text-anchor="start">0</text>
<line x1="1380.3" y1="1349.3" x2="1394.8" y2="1349.3" stroke="#222" stroke-width="1"/>
<text transform="translate(1407.3 1364.6) scale(0.95 1)" font-size="45" font-weight="bold" text-anchor="start">0.1</text>
<line x1="1380.3" y1="1207" x2="1394.8" y2="1207" stroke="#222" stroke-width="1"/>
<text transform="translate(1407.3 1222.3) scale(0.95 1)" font-size="45" font-weight="bold" text-anchor="start">0.2</text>
<line x1="1380.3" y1="1064.6" x2="1394.8" y2="1064.6" stroke="#222" stroke-width="1"/>
<text transform="translate(1407.3 1079.9) scale(0.95 1)" font-size="45" font-weight="bold" text-anchor="start">0.3</text>
<line x1="1380.3" y1="922.2" x2="1394.8" y2="922.2" stroke="#222" stroke-width="1"/>
<text transform="translate(1407.3 937.5) scale(0.95 1)" font-size="45" font-weight="bold" text-anchor="start">0.4</text>
<line x1="1380.3" y1="779.9" x2="1394.8" y2="779.9" stroke="#222" stroke-width="1"/>
<text transform="translate(1407.3 795.1) scale(0.95 1)" font-size="45" font-weight="bold" text-anchor="start">0.5</text>
<line x1="1380.3" y1="637.5" x2="1394.8" y2="637.5" stroke="#222" stroke-width="1"/>
<text transform="translate(1407.3 652.8) scale(0.95 1)" font-size="45" font-weight="bold" text-anchor="start">0.6</text>
<line x1="1380.3" y1="495.1" x2="1394.8" y2="495.1" stroke="#222" stroke-width="1"/>
<text transform="translate(1407.3 510.4) scale(0.95 1)" font-size="45" font-weight="bold" text-anchor="start">0.7</text>
<line x1="1380.3" y1="352.7" x2="1394.8" y2="352.7" stroke="#222" stroke-width="1"/>
<text transform="translate(1407.3 368) scale(0.95 1)" font-size="45" font-weight="bold" text-anchor="start">0.8</text>
<line x1="1380.3" y1="210.4" x2="1394.8" y2="210.4" stroke="#222" stroke-width="1"/>
<text transform="translate(1407.3 225.7) scale(0.95 1)" font-size="45" font-weight="bold" text-anchor="start">0.9</text>
<text transform="translate(1407.3 83.3) scale(0.95 1)" font-size="45" font-weight="bold" text-anchor="start">1</text>
<text transform="translate(1396.5 55.7) scale(0.95 1)" font-size="45" font-weight="bold" text-anchor="start"><tspan font-size="55" font-weight="normal" dy="4.5">×</tspan><tspan dx="4.2" dy="-6.4">10</tspan><tspan font-size="34" dy="-20.6" dx="1">-5</tspan></text>
<text transform="translate(1517.8 778.9) rotate(-90) scale(0.978 1)" font-size="45" font-weight="bold" text-anchor="middle">Shear (s<tspan font-size="34" dy="-21">-1</tspan><tspan dy="21">)</tspan></text>
<text transform="translate(15.6 158.3) scale(0.95 1)" font-size="45" font-weight="bold" text-anchor="start">77.45<tspan font-weight="normal" font-size="42" dy="-17.5" dx="-2.0">°</tspan><tspan dy="17.5" dx="10.0">N</tspan></text>
<text transform="translate(16.7 391.4) scale(0.95 1)" font-size="45" font-weight="bold" text-anchor="start">77.40<tspan font-weight="normal" font-size="42" dy="-17.5" dx="-2.0">°</tspan><tspan dy="17.5" dx="10.0">N</tspan></text>
<text transform="translate(17.9 624.5) scale(0.95 1)" font-size="45" font-weight="bold" text-anchor="start">77.35<tspan font-weight="normal" font-size="42" dy="-17.5" dx="-2.0">°</tspan><tspan dy="17.5" dx="10.0">N</tspan></text>
<text transform="translate(19 857.6) scale(0.95 1)" font-size="45" font-weight="bold" text-anchor="start">77.30<tspan font-weight="normal" font-size="42" dy="-17.5" dx="-2.0">°</tspan><tspan dy="17.5" dx="10.0">N</tspan></text>
<text transform="translate(20.2 1090.8) scale(0.95 1)" font-size="45" font-weight="bold" text-anchor="start">77.25<tspan font-weight="normal" font-size="42" dy="-17.5" dx="-2.0">°</tspan><tspan dy="17.5" dx="10.0">N</tspan></text>
<text transform="translate(21.3 1324.5) scale(0.95 1)" font-size="45" font-weight="bold" text-anchor="start">77.20<tspan font-weight="normal" font-size="42" dy="-17.5" dx="-2.0">°</tspan><tspan dy="17.5" dx="10.0">N</tspan></text>
<text transform="translate(202.5 1591.2) scale(0.95 1)" font-size="45" font-weight="bold" text-anchor="start">146.60<tspan font-weight="normal" font-size="42" dy="-17.5" dx="-2.0">°</tspan><tspan dy="17.5" dx="10.0">W</tspan></text>
<text transform="translate(407.3 1589) scale(0.95 1)" font-size="45" font-weight="bold" text-anchor="start">146.40<tspan font-weight="normal" font-size="42" dy="-17.5" dx="-2.0">°</tspan><tspan dy="17.5" dx="10.0">W</tspan></text>
<text transform="translate(613.3 1586.3) scale(0.95 1)" font-size="45" font-weight="bold" text-anchor="start">146.20<tspan font-weight="normal" font-size="42" dy="-17.5" dx="-2.0">°</tspan><tspan dy="17.5" dx="10.0">W</tspan></text>
<text transform="translate(819.5 1583.2) scale(0.95 1)" font-size="45" font-weight="bold" text-anchor="start">146.00<tspan font-weight="normal" font-size="42" dy="-17.5" dx="-2.0">°</tspan><tspan dy="17.5" dx="10.0">W</tspan></text>
<text transform="translate(1025.8 1579.8) scale(0.95 1)" font-size="45" font-weight="bold" text-anchor="start">145.80<tspan font-weight="normal" font-size="42" dy="-17.5" dx="-2.0">°</tspan><tspan dy="17.5" dx="10.0">W</tspan></text>
<text transform="translate(1232.2 1575.6) scale(0.95 1)" font-size="45" font-weight="bold" text-anchor="start">145.60<tspan font-weight="normal" font-size="42" dy="-17.5" dx="-2.0">°</tspan><tspan dy="17.5" dx="10.0">W</tspan></text>
<g stroke="#222" stroke-width="1" fill="none">
<path d="M996.8 1347.6H1205.3"/>
<path d="M996.8 1347.6v-6"/>
<path d="M1007.2 1347.6v-4"/>
<path d="M1017.6 1347.6v-4"/>
<path d="M1028.1 1347.6v-4"/>
<path d="M1038.5 1347.6v-7"/>
<path d="M1080.2 1347.6v-7"/>
<path d="M1121.9 1347.6v-7"/>
<path d="M1205.3 1347.6v-7"/>
</g>
<text transform="translate(997.3 1331.3)" font-size="42" font-weight="bold" text-anchor="middle">1</text>
<text transform="translate(1039 1331.3)" font-size="42" font-weight="bold" text-anchor="middle">0</text>
<text transform="translate(1080.7 1331.3)" font-size="42" font-weight="bold" text-anchor="middle">1</text>
<text transform="translate(1122.4 1331.3)" font-size="42" font-weight="bold" text-anchor="middle">2</text>
<text transform="translate(1192 1331.3)" font-size="42" font-weight="bold" text-anchor="middle">4</text>
<text transform="translate(1213.3 1331.3)" font-size="42" font-weight="bold" text-anchor="start">km</text>
<text font-size="90" y="1709.5"><tspan x="726" font-weight="normal" font-size="88">(</tspan><tspan x="752.5" font-weight="bold">b</tspan><tspan x="805" font-weight="normal" font-size="88">)</tspan></text>
</g>
<g id="panel-c">
<g stroke="#262626" stroke-width="1.1" fill="none"><line x1="276.6" y1="1815.8" x2="286" y2="3217.3"/><line x1="479" y1="1814.8" x2="492.6" y2="3215.3"/><line x1="680.9" y1="1812.7" x2="700.1" y2="3213.2"/><line x1="883.5" y1="1810.1" x2="906.9" y2="3210.1"/><line x1="1085.9" y1="1805.4" x2="1113.6" y2="3205.9"/><line x1="1287.7" y1="1801.3" x2="1321.7" y2="3200.7"/><path d="M185.9 1864.9Q748 1860.3 1310.1 1847.8"/><path d="M187 2098Q751.3 2093.7 1315.7 2081.4"/><path d="M188.2 2331.1Q754.6 2327.1 1321 2315.1"/><path d="M189.4 2564.2Q758 2560.2 1326.7 2548.3"/><path d="M190.6 2797.4Q761.4 2793.4 1332.2 2781.5"/><path d="M191.7 3031.1Q764.7 3027.2 1337.8 3015.3"/></g>
<polygon points="816.9,1949.4 1170.4,2532.3 580.5,2897.4 226.6,2313.2" fill="#d8d8d8"/>
<polygon points="816.9,1949.4 1170.4,2532.3 580.5,2897.4 226.6,2313.2" fill="#fff" filter="url(#sar)"/>
<clipPath id="clip-sar-c"><polygon points="816.9,1949.4 1170.4,2532.3 580.5,2897.4 226.6,2313.2"/></clipPath>
<g stroke="#303030" stroke-opacity="0.7" stroke-width="1" fill="none" clip-path="url(#clip-sar-c)"><line x1="276.6" y1="1815.8" x2="286" y2="3217.3"/><line x1="479" y1="1814.8" x2="492.6" y2="3215.3"/><line x1="680.9" y1="1812.7" x2="700.1" y2="3213.2"/><line x1="883.5" y1="1810.1" x2="906.9" y2="3210.1"/><line x1="1085.9" y1="1805.4" x2="1113.6" y2="3205.9"/><line x1="1287.7" y1="1801.3" x2="1321.7" y2="3200.7"/><path d="M185.9 1864.9Q748 1860.3 1310.1 1847.8"/><path d="M187 2098Q751.3 2093.7 1315.7 2081.4"/><path d="M188.2 2331.1Q754.6 2327.1 1321 2315.1"/><path d="M189.4 2564.2Q758 2560.2 1326.7 2548.3"/><path d="M190.6 2797.4Q761.4 2793.4 1332.2 2781.5"/><path d="M191.7 3031.1Q764.7 3027.2 1337.8 3015.3"/></g>
<path d="M798.6 2004.0h10.0v5.0h-10.0zM788.6 2009.0h25.0v5.0h-25.0zM778.6 2014.0h40.0v5.0h-40.0zM768.6 2019.0h55.0v5.0h-55.0zM758.6 2024.0h65.0v5.0h-65.0zM753.6 2029.0h75.0v5.0h-75.0zM743.6 2034.0h90.0v5.0h-90.0zM738.6 2039.0h95.0v5.0h-95.0zM728.6 2044.0h110.0v5.0h-110.0zM718.6 2049.0h120.0v5.0h-120.0zM708.6 2054.0h135.0v5.0h-135.0zM703.6 2059.0h140.0v5.0h-140.0zM693.6 2064.0h155.0v5.0h-155.0zM688.6 2069.0h160.0v5.0h-160.0zM678.6 2074.0h175.0v5.0h-175.0zM668.6 2079.0h190.0v5.0h-190.0zM663.6 2084.0h195.0v5.0h-195.0zM653.6 2089.0h210.0v5.0h-210.0zM648.6 2094.0h215.0v5.0h-215.0zM638.6 2099.0h230.0v5.0h-230.0zM633.6 2104.0h240.0v5.0h-240.0zM623.6 2109.0h250.0v5.0h-250.0zM613.6 2114.0h265.0v5.0h-265.0zM608.6 2119.0h275.0v5.0h-275.0zM598.6 2124.0h285.0v5.0h-285.0zM593.6 2129.0h295.0v5.0h-295.0zM583.6 2134.0h305.0v5.0h-305.0zM578.6 2139.0h315.0v5.0h-315.0zM568.6 2144.0h330.0v5.0h-330.0zM558.6 2149.0h340.0v5.0h-340.0zM553.6 2154.0h350.0v5.0h-350.0zM543.6 2159.0h360.0v5.0h-360.0zM538.6 2164.0h370.0v5.0h-370.0zM528.6 2169.0h385.0v5.0h-385.0zM518.6 2174.0h395.0v5.0h-395.0zM513.6 2179.0h405.0v5.0h-405.0zM503.6 2184.0h415.0v5.0h-415.0zM498.6 2189.0h425.0v5.0h-425.0zM488.6 2194.0h435.0v5.0h-435.0zM483.6 2199.0h445.0v5.0h-445.0zM478.6 2204.0h455.0v5.0h-455.0zM468.6 2209.0h465.0v5.0h-465.0zM463.6 2214.0h475.0v5.0h-475.0zM453.6 2219.0h485.0v5.0h-485.0zM448.6 2224.0h495.0v5.0h-495.0zM438.6 2229.0h505.0v5.0h-505.0zM433.6 2234.0h515.0v5.0h-515.0zM423.6 2239.0h530.0v5.0h-530.0zM418.6 2244.0h535.0v5.0h-535.0zM413.6 2249.0h545.0v5.0h-545.0zM403.6 2254.0h560.0v5.0h-560.0zM398.6 2259.0h565.0v5.0h-565.0zM388.6 2264.0h580.0v5.0h-580.0zM383.6 2269.0h590.0v5.0h-590.0zM378.6 2274.0h595.0v5.0h-595.0zM368.6 2279.0h610.0v5.0h-610.0zM363.6 2284.0h620.0v5.0h-620.0zM358.6 2289.0h625.0v5.0h-625.0zM353.6 2294.0h635.0v5.0h-635.0zM348.6 2299.0h645.0v5.0h-645.0zM338.6 2304.0h655.0v5.0h-655.0zM333.6 2309.0h665.0v5.0h-665.0zM328.6 2314.0h670.0v5.0h-670.0zM323.6 2319.0h680.0v5.0h-680.0zM318.6 2324.0h690.0v5.0h-690.0zM313.6 2329.0h695.0v5.0h-695.0zM308.6 2334.0h705.0v5.0h-705.0zM303.6 2339.0h710.0v5.0h-710.0zM298.6 2344.0h720.0v5.0h-720.0zM293.6 2349.0h730.0v5.0h-730.0zM293.6 2354.0h730.0v5.0h-730.0zM298.6 2359.0h730.0v5.0h-730.0zM298.6 2364.0h730.0v5.0h-730.0zM303.6 2369.0h730.0v5.0h-730.0zM303.6 2374.0h735.0v5.0h-735.0zM308.6 2379.0h730.0v5.0h-730.0zM313.6 2384.0h730.0v5.0h-730.0zM313.6 2389.0h730.0v5.0h-730.0zM318.6 2394.0h730.0v5.0h-730.0zM318.6 2399.0h735.0v5.0h-735.0zM323.6 2404.0h730.0v5.0h-730.0zM323.6 2409.0h735.0v5.0h-735.0zM328.6 2414.0h730.0v5.0h-730.0zM333.6 2419.0h730.0v5.0h-730.0zM338.6 2424.0h730.0v5.0h-730.0zM338.6 2429.0h730.0v5.0h-730.0zM343.6 2434.0h730.0v5.0h-730.0zM348.6 2439.0h730.0v5.0h-730.0zM353.6 2444.0h725.0v5.0h-725.0zM353.6 2449.0h720.0v5.0h-720.0zM358.6 2454.0h710.0v5.0h-710.0zM363.6 2459.0h700.0v5.0h-700.0zM363.6 2464.0h690.0v5.0h-690.0zM368.6 2469.0h680.0v5.0h-680.0zM373.6 2474.0h670.0v5.0h-670.0zM378.6 2479.0h660.0v5.0h-660.0zM378.6 2484.0h655.0v5.0h-655.0zM383.6 2489.0h645.0v5.0h-645.0zM388.6 2494.0h635.0v5.0h-635.0zM393.6 2499.0h620.0v5.0h-620.0zM398.6 2504.0h610.0v5.0h-610.0zM398.6 2509.0h605.0v5.0h-605.0zM403.6 2514.0h595.0v5.0h-595.0zM408.6 2519.0h585.0v5.0h-585.0zM413.6 2524.0h575.0v5.0h-575.0zM418.6 2529.0h565.0v5.0h-565.0zM423.6 2534.0h555.0v5.0h-555.0zM423.6 2539.0h545.0v5.0h-545.0zM428.6 2544.0h535.0v5.0h-535.0zM433.6 2549.0h525.0v5.0h-525.0zM438.6 2554.0h515.0v5.0h-515.0zM443.6 2559.0h505.0v5.0h-505.0zM443.6 2564.0h500.0v5.0h-500.0zM448.6 2569.0h490.0v5.0h-490.0zM453.6 2574.0h480.0v5.0h-480.0zM458.6 2579.0h470.0v5.0h-470.0zM463.6 2584.0h460.0v5.0h-460.0zM463.6 2589.0h455.0v5.0h-455.0zM468.6 2594.0h445.0v5.0h-445.0zM473.6 2599.0h435.0v5.0h-435.0zM478.6 2604.0h425.0v5.0h-425.0zM483.6 2609.0h410.0v5.0h-410.0zM483.6 2614.0h405.0v5.0h-405.0zM488.6 2619.0h395.0v5.0h-395.0zM493.6 2624.0h385.0v5.0h-385.0zM498.6 2629.0h375.0v5.0h-375.0zM503.6 2634.0h365.0v5.0h-365.0zM503.6 2639.0h360.0v5.0h-360.0zM508.6 2644.0h350.0v5.0h-350.0zM513.6 2649.0h340.0v5.0h-340.0zM518.6 2654.0h330.0v5.0h-330.0zM523.6 2659.0h320.0v5.0h-320.0zM528.6 2664.0h310.0v5.0h-310.0zM533.6 2669.0h300.0v5.0h-300.0zM538.6 2674.0h290.0v5.0h-290.0zM538.6 2679.0h285.0v5.0h-285.0zM543.6 2684.0h270.0v5.0h-270.0zM548.6 2689.0h260.0v5.0h-260.0zM553.6 2694.0h250.0v5.0h-250.0zM558.6 2699.0h240.0v5.0h-240.0zM563.6 2704.0h230.0v5.0h-230.0zM573.6 2709.0h215.0v5.0h-215.0zM578.6 2714.0h205.0v5.0h-205.0zM583.6 2719.0h195.0v5.0h-195.0zM588.6 2724.0h180.0v5.0h-180.0zM593.6 2729.0h170.0v5.0h-170.0zM598.6 2734.0h160.0v5.0h-160.0zM603.6 2739.0h150.0v5.0h-150.0zM608.6 2744.0h140.0v5.0h-140.0zM613.6 2749.0h130.0v5.0h-130.0zM613.6 2754.0h125.0v5.0h-125.0zM618.6 2759.0h110.0v5.0h-110.0zM623.6 2764.0h100.0v5.0h-100.0zM628.6 2769.0h90.0v5.0h-90.0zM633.6 2774.0h80.0v5.0h-80.0zM638.6 2779.0h70.0v5.0h-70.0zM643.6 2784.0h60.0v5.0h-60.0zM648.6 2789.0h45.0v5.0h-45.0zM653.6 2794.0h30.0v5.0h-30.0zM658.6 2799.0h15.0v5.0h-15.0z" fill="#3eff80"/>
<path d="M798.6 2004.0h10.0v5.0h-10.0zM788.6 2009.0h25.0v5.0h-25.0zM778.6 2014.0h40.0v5.0h-40.0zM768.6 2019.0h55.0v5.0h-55.0zM758.6 2024.0h65.0v5.0h-65.0zM753.6 2029.0h75.0v5.0h-75.0zM743.6 2034.0h90.0v5.0h-90.0zM738.6 2039.0h95.0v5.0h-95.0zM728.6 2044.0h110.0v5.0h-110.0zM718.6 2049.0h120.0v5.0h-120.0zM708.6 2054.0h135.0v5.0h-135.0zM703.6 2059.0h140.0v5.0h-140.0zM693.6 2064.0h155.0v5.0h-155.0zM688.6 2069.0h160.0v5.0h-160.0zM678.6 2074.0h175.0v5.0h-175.0zM668.6 2079.0h190.0v5.0h-190.0zM663.6 2084.0h195.0v5.0h-195.0zM653.6 2089.0h210.0v5.0h-210.0zM648.6 2094.0h215.0v5.0h-215.0zM638.6 2099.0h230.0v5.0h-230.0zM633.6 2104.0h240.0v5.0h-240.0zM623.6 2109.0h250.0v5.0h-250.0zM613.6 2114.0h265.0v5.0h-265.0zM608.6 2119.0h275.0v5.0h-275.0zM598.6 2124.0h285.0v5.0h-285.0zM593.6 2129.0h295.0v5.0h-295.0zM583.6 2134.0h305.0v5.0h-305.0zM578.6 2139.0h315.0v5.0h-315.0zM568.6 2144.0h330.0v5.0h-330.0zM558.6 2149.0h340.0v5.0h-340.0zM553.6 2154.0h350.0v5.0h-350.0zM543.6 2159.0h360.0v5.0h-360.0zM538.6 2164.0h370.0v5.0h-370.0zM528.6 2169.0h385.0v5.0h-385.0zM518.6 2174.0h395.0v5.0h-395.0zM513.6 2179.0h405.0v5.0h-405.0zM503.6 2184.0h415.0v5.0h-415.0zM498.6 2189.0h425.0v5.0h-425.0zM488.6 2194.0h435.0v5.0h-435.0zM483.6 2199.0h445.0v5.0h-445.0zM478.6 2204.0h455.0v5.0h-455.0zM468.6 2209.0h465.0v5.0h-465.0zM463.6 2214.0h475.0v5.0h-475.0zM453.6 2219.0h485.0v5.0h-485.0zM448.6 2224.0h495.0v5.0h-495.0zM438.6 2229.0h505.0v5.0h-505.0zM433.6 2234.0h515.0v5.0h-515.0zM423.6 2239.0h530.0v5.0h-530.0zM418.6 2244.0h535.0v5.0h-535.0zM413.6 2249.0h545.0v5.0h-545.0zM403.6 2254.0h560.0v5.0h-560.0zM398.6 2259.0h565.0v5.0h-565.0zM388.6 2264.0h580.0v5.0h-580.0zM383.6 2269.0h590.0v5.0h-590.0zM378.6 2274.0h595.0v5.0h-595.0zM368.6 2279.0h610.0v5.0h-610.0zM363.6 2284.0h620.0v5.0h-620.0zM358.6 2289.0h625.0v5.0h-625.0zM353.6 2294.0h635.0v5.0h-635.0zM348.6 2299.0h645.0v5.0h-645.0zM338.6 2304.0h655.0v5.0h-655.0zM333.6 2309.0h665.0v5.0h-665.0zM328.6 2314.0h670.0v5.0h-670.0zM323.6 2319.0h680.0v5.0h-680.0zM318.6 2324.0h690.0v5.0h-690.0zM313.6 2329.0h695.0v5.0h-695.0zM308.6 2334.0h705.0v5.0h-705.0zM303.6 2339.0h710.0v5.0h-710.0zM298.6 2344.0h720.0v5.0h-720.0zM293.6 2349.0h730.0v5.0h-730.0zM293.6 2354.0h730.0v5.0h-730.0zM298.6 2359.0h730.0v5.0h-730.0zM298.6 2364.0h730.0v5.0h-730.0zM303.6 2369.0h730.0v5.0h-730.0zM303.6 2374.0h735.0v5.0h-735.0zM308.6 2379.0h730.0v5.0h-730.0zM313.6 2384.0h730.0v5.0h-730.0zM313.6 2389.0h730.0v5.0h-730.0zM318.6 2394.0h730.0v5.0h-730.0zM318.6 2399.0h735.0v5.0h-735.0zM323.6 2404.0h730.0v5.0h-730.0zM323.6 2409.0h735.0v5.0h-735.0zM328.6 2414.0h730.0v5.0h-730.0zM333.6 2419.0h730.0v5.0h-730.0zM338.6 2424.0h730.0v5.0h-730.0zM338.6 2429.0h730.0v5.0h-730.0zM343.6 2434.0h730.0v5.0h-730.0zM348.6 2439.0h730.0v5.0h-730.0zM353.6 2444.0h725.0v5.0h-725.0zM353.6 2449.0h720.0v5.0h-720.0zM358.6 2454.0h710.0v5.0h-710.0zM363.6 2459.0h700.0v5.0h-700.0zM363.6 2464.0h690.0v5.0h-690.0zM368.6 2469.0h680.0v5.0h-680.0zM373.6 2474.0h670.0v5.0h-670.0zM378.6 2479.0h660.0v5.0h-660.0zM378.6 2484.0h655.0v5.0h-655.0zM383.6 2489.0h645.0v5.0h-645.0zM388.6 2494.0h635.0v5.0h-635.0zM393.6 2499.0h620.0v5.0h-620.0zM398.6 2504.0h610.0v5.0h-610.0zM398.6 2509.0h605.0v5.0h-605.0zM403.6 2514.0h595.0v5.0h-595.0zM408.6 2519.0h585.0v5.0h-585.0zM413.6 2524.0h575.0v5.0h-575.0zM418.6 2529.0h565.0v5.0h-565.0zM423.6 2534.0h555.0v5.0h-555.0zM423.6 2539.0h545.0v5.0h-545.0zM428.6 2544.0h535.0v5.0h-535.0zM433.6 2549.0h525.0v5.0h-525.0zM438.6 2554.0h515.0v5.0h-515.0zM443.6 2559.0h505.0v5.0h-505.0zM443.6 2564.0h500.0v5.0h-500.0zM448.6 2569.0h490.0v5.0h-490.0zM453.6 2574.0h480.0v5.0h-480.0zM458.6 2579.0h470.0v5.0h-470.0zM463.6 2584.0h460.0v5.0h-460.0zM463.6 2589.0h455.0v5.0h-455.0zM468.6 2594.0h445.0v5.0h-445.0zM473.6 2599.0h435.0v5.0h-435.0zM478.6 2604.0h425.0v5.0h-425.0zM483.6 2609.0h410.0v5.0h-410.0zM483.6 2614.0h405.0v5.0h-405.0zM488.6 2619.0h395.0v5.0h-395.0zM493.6 2624.0h385.0v5.0h-385.0zM498.6 2629.0h375.0v5.0h-375.0zM503.6 2634.0h365.0v5.0h-365.0zM503.6 2639.0h360.0v5.0h-360.0zM508.6 2644.0h350.0v5.0h-350.0zM513.6 2649.0h340.0v5.0h-340.0zM518.6 2654.0h330.0v5.0h-330.0zM523.6 2659.0h320.0v5.0h-320.0zM528.6 2664.0h310.0v5.0h-310.0zM533.6 2669.0h300.0v5.0h-300.0zM538.6 2674.0h290.0v5.0h-290.0zM538.6 2679.0h285.0v5.0h-285.0zM543.6 2684.0h270.0v5.0h-270.0zM548.6 2689.0h260.0v5.0h-260.0zM553.6 2694.0h250.0v5.0h-250.0zM558.6 2699.0h240.0v5.0h-240.0zM563.6 2704.0h230.0v5.0h-230.0zM573.6 2709.0h215.0v5.0h-215.0zM578.6 2714.0h205.0v5.0h-205.0zM583.6 2719.0h195.0v5.0h-195.0zM588.6 2724.0h180.0v5.0h-180.0zM593.6 2729.0h170.0v5.0h-170.0zM598.6 2734.0h160.0v5.0h-160.0zM603.6 2739.0h150.0v5.0h-150.0zM608.6 2744.0h140.0v5.0h-140.0zM613.6 2749.0h130.0v5.0h-130.0zM613.6 2754.0h125.0v5.0h-125.0zM618.6 2759.0h110.0v5.0h-110.0zM623.6 2764.0h100.0v5.0h-100.0zM628.6 2769.0h90.0v5.0h-90.0zM633.6 2774.0h80.0v5.0h-80.0zM638.6 2779.0h70.0v5.0h-70.0zM643.6 2784.0h60.0v5.0h-60.0zM648.6 2789.0h45.0v5.0h-45.0zM653.6 2794.0h30.0v5.0h-30.0zM658.6 2799.0h15.0v5.0h-15.0z" fill="url(#grid-c)"/>
<path d="M798.6 2004.0h10.0v5.0h-10.0zM788.6 2009.0h25.0v5.0h-25.0zM778.6 2014.0h40.0v5.0h-40.0zM768.6 2019.0h55.0v5.0h-55.0zM758.6 2024.0h65.0v5.0h-65.0zM753.6 2029.0h75.0v5.0h-75.0zM743.6 2034.0h90.0v5.0h-90.0zM738.6 2039.0h95.0v5.0h-95.0zM728.6 2044.0h110.0v5.0h-110.0zM718.6 2049.0h120.0v5.0h-120.0zM708.6 2054.0h135.0v5.0h-135.0zM703.6 2059.0h140.0v5.0h-140.0zM693.6 2064.0h155.0v5.0h-155.0zM688.6 2069.0h160.0v5.0h-160.0zM678.6 2074.0h175.0v5.0h-175.0zM668.6 2079.0h190.0v5.0h-190.0zM663.6 2084.0h195.0v5.0h-195.0zM653.6 2089.0h210.0v5.0h-210.0zM648.6 2094.0h215.0v5.0h-215.0zM638.6 2099.0h230.0v5.0h-230.0zM633.6 2104.0h240.0v5.0h-240.0zM623.6 2109.0h250.0v5.0h-250.0zM613.6 2114.0h265.0v5.0h-265.0zM608.6 2119.0h275.0v5.0h-275.0zM598.6 2124.0h285.0v5.0h-285.0zM593.6 2129.0h295.0v5.0h-295.0zM583.6 2134.0h305.0v5.0h-305.0zM578.6 2139.0h315.0v5.0h-315.0zM568.6 2144.0h330.0v5.0h-330.0zM558.6 2149.0h340.0v5.0h-340.0zM553.6 2154.0h350.0v5.0h-350.0zM543.6 2159.0h360.0v5.0h-360.0zM538.6 2164.0h370.0v5.0h-370.0zM528.6 2169.0h385.0v5.0h-385.0zM518.6 2174.0h395.0v5.0h-395.0zM513.6 2179.0h405.0v5.0h-405.0zM503.6 2184.0h415.0v5.0h-415.0zM498.6 2189.0h425.0v5.0h-425.0zM488.6 2194.0h435.0v5.0h-435.0zM483.6 2199.0h445.0v5.0h-445.0zM478.6 2204.0h455.0v5.0h-455.0zM468.6 2209.0h465.0v5.0h-465.0zM463.6 2214.0h475.0v5.0h-475.0zM453.6 2219.0h485.0v5.0h-485.0zM448.6 2224.0h495.0v5.0h-495.0zM438.6 2229.0h505.0v5.0h-505.0zM433.6 2234.0h515.0v5.0h-515.0zM423.6 2239.0h530.0v5.0h-530.0zM418.6 2244.0h535.0v5.0h-535.0zM413.6 2249.0h545.0v5.0h-545.0zM403.6 2254.0h560.0v5.0h-560.0zM398.6 2259.0h565.0v5.0h-565.0zM388.6 2264.0h580.0v5.0h-580.0zM383.6 2269.0h590.0v5.0h-590.0zM378.6 2274.0h595.0v5.0h-595.0zM368.6 2279.0h610.0v5.0h-610.0zM363.6 2284.0h620.0v5.0h-620.0zM358.6 2289.0h625.0v5.0h-625.0zM353.6 2294.0h635.0v5.0h-635.0zM348.6 2299.0h645.0v5.0h-645.0zM338.6 2304.0h655.0v5.0h-655.0zM333.6 2309.0h665.0v5.0h-665.0zM328.6 2314.0h670.0v5.0h-670.0zM323.6 2319.0h680.0v5.0h-680.0zM318.6 2324.0h690.0v5.0h-690.0zM313.6 2329.0h695.0v5.0h-695.0zM308.6 2334.0h705.0v5.0h-705.0zM303.6 2339.0h710.0v5.0h-710.0zM298.6 2344.0h720.0v5.0h-720.0zM293.6 2349.0h730.0v5.0h-730.0zM293.6 2354.0h730.0v5.0h-730.0zM298.6 2359.0h730.0v5.0h-730.0zM298.6 2364.0h730.0v5.0h-730.0zM303.6 2369.0h730.0v5.0h-730.0zM303.6 2374.0h735.0v5.0h-735.0zM308.6 2379.0h730.0v5.0h-730.0zM313.6 2384.0h730.0v5.0h-730.0zM313.6 2389.0h730.0v5.0h-730.0zM318.6 2394.0h730.0v5.0h-730.0zM318.6 2399.0h735.0v5.0h-735.0zM323.6 2404.0h730.0v5.0h-730.0zM323.6 2409.0h735.0v5.0h-735.0zM328.6 2414.0h730.0v5.0h-730.0zM333.6 2419.0h730.0v5.0h-730.0zM338.6 2424.0h730.0v5.0h-730.0zM338.6 2429.0h730.0v5.0h-730.0zM343.6 2434.0h730.0v5.0h-730.0zM348.6 2439.0h730.0v5.0h-730.0zM353.6 2444.0h725.0v5.0h-725.0zM353.6 2449.0h720.0v5.0h-720.0zM358.6 2454.0h710.0v5.0h-710.0zM363.6 2459.0h700.0v5.0h-700.0zM363.6 2464.0h690.0v5.0h-690.0zM368.6 2469.0h680.0v5.0h-680.0zM373.6 2474.0h670.0v5.0h-670.0zM378.6 2479.0h660.0v5.0h-660.0zM378.6 2484.0h655.0v5.0h-655.0zM383.6 2489.0h645.0v5.0h-645.0zM388.6 2494.0h635.0v5.0h-635.0zM393.6 2499.0h620.0v5.0h-620.0zM398.6 2504.0h610.0v5.0h-610.0zM398.6 2509.0h605.0v5.0h-605.0zM403.6 2514.0h595.0v5.0h-595.0zM408.6 2519.0h585.0v5.0h-585.0zM413.6 2524.0h575.0v5.0h-575.0zM418.6 2529.0h565.0v5.0h-565.0zM423.6 2534.0h555.0v5.0h-555.0zM423.6 2539.0h545.0v5.0h-545.0zM428.6 2544.0h535.0v5.0h-535.0zM433.6 2549.0h525.0v5.0h-525.0zM438.6 2554.0h515.0v5.0h-515.0zM443.6 2559.0h505.0v5.0h-505.0zM443.6 2564.0h500.0v5.0h-500.0zM448.6 2569.0h490.0v5.0h-490.0zM453.6 2574.0h480.0v5.0h-480.0zM458.6 2579.0h470.0v5.0h-470.0zM463.6 2584.0h460.0v5.0h-460.0zM463.6 2589.0h455.0v5.0h-455.0zM468.6 2594.0h445.0v5.0h-445.0zM473.6 2599.0h435.0v5.0h-435.0zM478.6 2604.0h425.0v5.0h-425.0zM483.6 2609.0h410.0v5.0h-410.0zM483.6 2614.0h405.0v5.0h-405.0zM488.6 2619.0h395.0v5.0h-395.0zM493.6 2624.0h385.0v5.0h-385.0zM498.6 2629.0h375.0v5.0h-375.0zM503.6 2634.0h365.0v5.0h-365.0zM503.6 2639.0h360.0v5.0h-360.0zM508.6 2644.0h350.0v5.0h-350.0zM513.6 2649.0h340.0v5.0h-340.0zM518.6 2654.0h330.0v5.0h-330.0zM523.6 2659.0h320.0v5.0h-320.0zM528.6 2664.0h310.0v5.0h-310.0zM533.6 2669.0h300.0v5.0h-300.0zM538.6 2674.0h290.0v5.0h-290.0zM538.6 2679.0h285.0v5.0h-285.0zM543.6 2684.0h270.0v5.0h-270.0zM548.6 2689.0h260.0v5.0h-260.0zM553.6 2694.0h250.0v5.0h-250.0zM558.6 2699.0h240.0v5.0h-240.0zM563.6 2704.0h230.0v5.0h-230.0zM573.6 2709.0h215.0v5.0h-215.0zM578.6 2714.0h205.0v5.0h-205.0zM583.6 2719.0h195.0v5.0h-195.0zM588.6 2724.0h180.0v5.0h-180.0zM593.6 2729.0h170.0v5.0h-170.0zM598.6 2734.0h160.0v5.0h-160.0zM603.6 2739.0h150.0v5.0h-150.0zM608.6 2744.0h140.0v5.0h-140.0zM613.6 2749.0h130.0v5.0h-130.0zM613.6 2754.0h125.0v5.0h-125.0zM618.6 2759.0h110.0v5.0h-110.0zM623.6 2764.0h100.0v5.0h-100.0zM628.6 2769.0h90.0v5.0h-90.0zM633.6 2774.0h80.0v5.0h-80.0zM638.6 2779.0h70.0v5.0h-70.0zM643.6 2784.0h60.0v5.0h-60.0zM648.6 2789.0h45.0v5.0h-45.0zM653.6 2794.0h30.0v5.0h-30.0zM658.6 2799.0h15.0v5.0h-15.0z" fill="#000" filter="url(#tex-c)"/>
<g id="divergence-features"><path fill="#0a12cc" d="M793.6 2009h5v5h-5zM793.6 2014h5v5h-5zM803.6 2014h10v5h-10zM758.6 2024h5v5h-5zM758.6 2029h5v5h-5zM758.6 2034h5v5h-5zM768.6 2034h5v5h-5zM768.6 2039h5v5h-5zM768.6 2044h5v5h-5zM768.6 2049h5v5h-5zM768.6 2054h5v5h-5zM768.6 2059h10v5h-10zM698.6 2064h5v5h-5zM773.6 2064h5v5h-5zM783.6 2064h5v5h-5zM698.6 2069h5v5h-5zM778.6 2069h10v5h-10zM703.6 2074h5v5h-5zM778.6 2074h10v5h-10zM708.6 2079h5v5h-5zM783.6 2079h5v5h-5zM848.6 2079h5v5h-5zM708.6 2084h10v5h-10zM783.6 2084h5v5h-5zM713.6 2089h5v5h-5zM728.6 2089h5v5h-5zM783.6 2089h5v5h-5zM803.6 2089h5v5h-5zM728.6 2094h5v5h-5zM753.6 2094h5v5h-5zM798.6 2094h10v5h-10zM753.6 2099h5v5h-5zM798.6 2099h5v5h-5zM753.6 2104h5v5h-5zM793.6 2104h10v5h-10zM753.6 2109h10v5h-10zM793.6 2109h5v5h-5zM753.6 2114h10v5h-10zM793.6 2114h5v5h-5zM753.6 2119h5v5h-5zM793.6 2119h10v5h-10zM753.6 2124h5v5h-5zM798.6 2124h5v5h-5zM753.6 2129h5v5h-5zM798.6 2129h5v5h-5zM753.6 2134h5v5h-5zM788.6 2134h5v5h-5zM798.6 2134h5v5h-5zM753.6 2139h5v5h-5zM788.6 2139h5v5h-5zM753.6 2144h5v5h-5zM788.6 2144h5v5h-5zM753.6 2149h5v5h-5zM753.6 2154h5v5h-5zM808.6 2154h5v5h-5zM838.6 2154h5v5h-5zM753.6 2159h5v5h-5zM763.6 2159h5v5h-5zM808.6 2159h5v5h-5zM838.6 2159h5v5h-5zM763.6 2164h10v5h-10zM763.6 2169h10v5h-10zM763.6 2174h10v5h-10zM768.6 2179h5v5h-5zM768.6 2184h5v5h-5zM773.6 2189h5v5h-5zM773.6 2194h10v5h-10zM488.6 2199h10v5h-10zM778.6 2199h5v5h-5zM778.6 2204h5v5h-5zM773.6 2209h10v5h-10zM773.6 2214h5v5h-5zM773.6 2219h5v5h-5zM773.6 2224h5v5h-5zM493.6 2229h10v5h-10zM773.6 2229h5v5h-5zM498.6 2234h10v5h-10zM773.6 2234h5v5h-5zM773.6 2239h5v5h-5zM943.6 2239h10v5h-10zM773.6 2244h5v5h-5zM773.6 2249h20v5h-20zM788.6 2254h10v5h-10zM793.6 2259h5v5h-5zM793.6 2264h5v5h-5zM793.6 2269h5v5h-5zM958.6 2269h10v5h-10zM788.6 2274h10v5h-10zM498.6 2279h10v5h-10zM788.6 2279h5v5h-5zM963.6 2279h10v5h-10zM503.6 2284h10v5h-10zM788.6 2284h5v5h-5zM788.6 2289h5v5h-5zM508.6 2294h10v5h-10zM783.6 2294h10v5h-10zM513.6 2299h10v5h-10zM783.6 2299h5v5h-5zM783.6 2304h5v5h-5zM518.6 2309h10v5h-10zM783.6 2309h10v5h-10zM788.6 2314h5v5h-5zM788.6 2319h10v5h-10zM793.6 2324h10v5h-10zM798.6 2329h5v5h-5zM798.6 2334h10v5h-10zM518.6 2339h10v5h-10zM803.6 2339h10v5h-10zM523.6 2344h15v5h-15zM808.6 2344h5v5h-5zM953.6 2344h10v5h-10zM808.6 2349h5v5h-5zM943.6 2349h5v5h-5zM958.6 2349h5v5h-5zM808.6 2354h10v5h-10zM958.6 2354h5v5h-5zM813.6 2359h5v5h-5zM958.6 2359h5v5h-5zM813.6 2364h5v5h-5zM813.6 2369h10v5h-10zM533.6 2374h10v5h-10zM818.6 2374h5v5h-5zM818.6 2379h5v5h-5zM818.6 2384h5v5h-5zM943.6 2384h10v5h-10zM818.6 2389h5v5h-5zM538.6 2394h15v5h-15zM818.6 2394h5v5h-5zM548.6 2399h10v5h-10zM818.6 2399h15v5h-15zM828.6 2404h5v5h-5zM828.6 2409h5v5h-5zM553.6 2414h10v5h-10zM828.6 2414h10v5h-10zM558.6 2419h10v5h-10zM833.6 2419h10v5h-10zM838.6 2424h10v5h-10zM843.6 2429h10v5h-10zM848.6 2434h5v5h-5zM848.6 2439h5v5h-5zM848.6 2444h5v5h-5zM848.6 2449h10v5h-10zM563.6 2454h10v5h-10zM853.6 2454h10v5h-10zM858.6 2459h5v5h-5zM858.6 2464h10v5h-10zM568.6 2469h10v5h-10zM863.6 2469h5v5h-5zM863.6 2474h10v5h-10zM868.6 2479h10v5h-10zM873.6 2484h5v5h-5zM873.6 2489h10v5h-10zM878.6 2494h10v5h-10zM883.6 2499h10v5h-10zM888.6 2504h20v5h-20zM563.6 2509h10v5h-10zM903.6 2509h15v5h-15zM913.6 2514h10v5h-10zM918.6 2519h10v5h-10zM923.6 2524h10v5h-10zM928.6 2529h5v5h-5zM928.6 2534h10v5h-10zM933.6 2539h5v5h-5zM553.6 2564h10v5h-10zM558.6 2594h10v5h-10zM568.6 2599h10v5h-10zM573.6 2609h10v5h-10zM578.6 2634h10v5h-10zM583.6 2639h10v5h-10zM578.6 2669h15v5h-15zM588.6 2674h10v5h-10zM593.6 2679h10v5h-10zM598.6 2689h10v5h-10zM603.6 2699h10v5h-10zM613.6 2704h10v5h-10zM623.6 2709h5v5h-5zM623.6 2714h10v5h-10zM628.6 2719h5v5h-5zM638.6 2719h5v5h-5zM638.6 2724h5v5h-5zM638.6 2729h5v5h-5zM638.6 2734h10v5h-10zM643.6 2739h10v5h-10zM648.6 2744h10v5h-10zM653.6 2749h5v5h-5zM663.6 2754h10v5h-10zM668.6 2759h10v5h-10zM673.6 2764h5v5h-5zM673.6 2769h5v5h-5zM673.6 2774h5v5h-5zM693.6 2774h5v5h-5zM693.6 2779h5v5h-5z"/>
<path fill="#a80c0c" d="M718.6 2049h10v5h-10zM828.6 2049h5v5h-5zM723.6 2054h5v5h-5zM738.6 2054h5v5h-5zM738.6 2059h5v5h-5zM828.6 2059h5v5h-5zM738.6 2064h5v5h-5zM828.6 2064h5v5h-5zM738.6 2069h5v5h-5zM758.6 2069h5v5h-5zM828.6 2069h5v5h-5zM758.6 2074h10v5h-10zM828.6 2074h5v5h-5zM838.6 2074h5v5h-5zM763.6 2079h10v5h-10zM838.6 2079h5v5h-5zM768.6 2084h10v5h-10zM768.6 2089h10v5h-10zM763.6 2094h5v5h-5zM758.6 2099h5v5h-5zM758.6 2104h5v5h-5zM763.6 2109h5v5h-5zM763.6 2114h10v5h-10zM768.6 2119h10v5h-10zM768.6 2124h10v5h-10zM768.6 2129h10v5h-10zM773.6 2134h5v5h-5zM773.6 2139h5v5h-5zM773.6 2144h5v5h-5zM803.6 2154h5v5h-5zM833.6 2154h5v5h-5zM803.6 2159h5v5h-5zM833.6 2159h5v5h-5zM948.6 2244h5v5h-5zM948.6 2249h5v5h-5zM948.6 2254h5v5h-5zM948.6 2259h5v5h-5zM948.6 2264h5v5h-5zM943.6 2269h5v5h-5zM943.6 2274h5v5h-5zM943.6 2279h5v5h-5zM943.6 2284h5v5h-5zM943.6 2289h5v5h-5zM943.6 2294h5v5h-5zM953.6 2299h5v5h-5zM953.6 2304h10v5h-10zM953.6 2309h10v5h-10zM958.6 2314h5v5h-5zM958.6 2319h5v5h-5zM958.6 2324h5v5h-5zM958.6 2329h10v5h-10zM963.6 2334h5v5h-5zM963.6 2339h5v5h-5zM963.6 2344h5v5h-5zM938.6 2349h5v5h-5zM963.6 2349h5v5h-5zM938.6 2354h5v5h-5zM963.6 2354h10v5h-10zM938.6 2359h5v5h-5zM968.6 2359h5v5h-5zM933.6 2364h5v5h-5zM933.6 2369h5v5h-5zM953.6 2369h5v5h-5zM933.6 2374h5v5h-5zM933.6 2379h5v5h-5zM933.6 2384h5v5h-5zM933.6 2389h5v5h-5zM928.6 2394h5v5h-5zM928.6 2399h5v5h-5zM933.6 2404h5v5h-5zM933.6 2409h5v5h-5zM933.6 2414h5v5h-5zM953.6 2459h5v5h-5zM953.6 2464h5v5h-5zM953.6 2469h5v5h-5zM953.6 2474h5v5h-5zM953.6 2479h5v5h-5zM953.6 2484h5v5h-5zM953.6 2489h5v5h-5zM953.6 2494h5v5h-5zM943.6 2499h15v5h-15zM938.6 2504h10v5h-10zM938.6 2509h5v5h-5zM938.6 2514h5v5h-5zM938.6 2519h5v5h-5zM938.6 2524h5v5h-5zM938.6 2529h5v5h-5zM938.6 2534h5v5h-5zM618.6 2709h5v5h-5zM613.6 2714h10v5h-10zM608.6 2719h10v5h-10zM603.6 2724h10v5h-10zM598.6 2729h10v5h-10zM598.6 2734h5v5h-5z"/>
<path fill="#f41010" d="M943.6 2234h5v5h-5zM498.6 2244h10v5h-10zM963.6 2284h10v5h-10zM958.6 2294h10v5h-10zM948.6 2319h10v5h-10zM518.6 2329h10v5h-10zM943.6 2339h10v5h-10zM948.6 2369h5v5h-5zM958.6 2369h5v5h-5zM943.6 2374h10v5h-10zM943.6 2389h10v5h-10zM938.6 2409h10v5h-10zM938.6 2424h5v5h-5zM938.6 2429h5v5h-5zM943.6 2439h5v5h-5zM943.6 2444h5v5h-5zM568.6 2484h10v5h-10zM563.6 2494h10v5h-10zM563.6 2524h10v5h-10zM938.6 2539h5v5h-5zM558.6 2544h10v5h-10zM553.6 2554h10v5h-10zM583.6 2649h10v5h-10zM578.6 2659h10v5h-10zM578.6 2664h10v5h-10z"/></g>
<clipPath id="clip-region-c"><path d="M798.6 2004.0h10.0v5.0h-10.0zM788.6 2009.0h25.0v5.0h-25.0zM778.6 2014.0h40.0v5.0h-40.0zM768.6 2019.0h55.0v5.0h-55.0zM758.6 2024.0h65.0v5.0h-65.0zM753.6 2029.0h75.0v5.0h-75.0zM743.6 2034.0h90.0v5.0h-90.0zM738.6 2039.0h95.0v5.0h-95.0zM728.6 2044.0h110.0v5.0h-110.0zM718.6 2049.0h120.0v5.0h-120.0zM708.6 2054.0h135.0v5.0h-135.0zM703.6 2059.0h140.0v5.0h-140.0zM693.6 2064.0h155.0v5.0h-155.0zM688.6 2069.0h160.0v5.0h-160.0zM678.6 2074.0h175.0v5.0h-175.0zM668.6 2079.0h190.0v5.0h-190.0zM663.6 2084.0h195.0v5.0h-195.0zM653.6 2089.0h210.0v5.0h-210.0zM648.6 2094.0h215.0v5.0h-215.0zM638.6 2099.0h230.0v5.0h-230.0zM633.6 2104.0h240.0v5.0h-240.0zM623.6 2109.0h250.0v5.0h-250.0zM613.6 2114.0h265.0v5.0h-265.0zM608.6 2119.0h275.0v5.0h-275.0zM598.6 2124.0h285.0v5.0h-285.0zM593.6 2129.0h295.0v5.0h-295.0zM583.6 2134.0h305.0v5.0h-305.0zM578.6 2139.0h315.0v5.0h-315.0zM568.6 2144.0h330.0v5.0h-330.0zM558.6 2149.0h340.0v5.0h-340.0zM553.6 2154.0h350.0v5.0h-350.0zM543.6 2159.0h360.0v5.0h-360.0zM538.6 2164.0h370.0v5.0h-370.0zM528.6 2169.0h385.0v5.0h-385.0zM518.6 2174.0h395.0v5.0h-395.0zM513.6 2179.0h405.0v5.0h-405.0zM503.6 2184.0h415.0v5.0h-415.0zM498.6 2189.0h425.0v5.0h-425.0zM488.6 2194.0h435.0v5.0h-435.0zM483.6 2199.0h445.0v5.0h-445.0zM478.6 2204.0h455.0v5.0h-455.0zM468.6 2209.0h465.0v5.0h-465.0zM463.6 2214.0h475.0v5.0h-475.0zM453.6 2219.0h485.0v5.0h-485.0zM448.6 2224.0h495.0v5.0h-495.0zM438.6 2229.0h505.0v5.0h-505.0zM433.6 2234.0h515.0v5.0h-515.0zM423.6 2239.0h530.0v5.0h-530.0zM418.6 2244.0h535.0v5.0h-535.0zM413.6 2249.0h545.0v5.0h-545.0zM403.6 2254.0h560.0v5.0h-560.0zM398.6 2259.0h565.0v5.0h-565.0zM388.6 2264.0h580.0v5.0h-580.0zM383.6 2269.0h590.0v5.0h-590.0zM378.6 2274.0h595.0v5.0h-595.0zM368.6 2279.0h610.0v5.0h-610.0zM363.6 2284.0h620.0v5.0h-620.0zM358.6 2289.0h625.0v5.0h-625.0zM353.6 2294.0h635.0v5.0h-635.0zM348.6 2299.0h645.0v5.0h-645.0zM338.6 2304.0h655.0v5.0h-655.0zM333.6 2309.0h665.0v5.0h-665.0zM328.6 2314.0h670.0v5.0h-670.0zM323.6 2319.0h680.0v5.0h-680.0zM318.6 2324.0h690.0v5.0h-690.0zM313.6 2329.0h695.0v5.0h-695.0zM308.6 2334.0h705.0v5.0h-705.0zM303.6 2339.0h710.0v5.0h-710.0zM298.6 2344.0h720.0v5.0h-720.0zM293.6 2349.0h730.0v5.0h-730.0zM293.6 2354.0h730.0v5.0h-730.0zM298.6 2359.0h730.0v5.0h-730.0zM298.6 2364.0h730.0v5.0h-730.0zM303.6 2369.0h730.0v5.0h-730.0zM303.6 2374.0h735.0v5.0h-735.0zM308.6 2379.0h730.0v5.0h-730.0zM313.6 2384.0h730.0v5.0h-730.0zM313.6 2389.0h730.0v5.0h-730.0zM318.6 2394.0h730.0v5.0h-730.0zM318.6 2399.0h735.0v5.0h-735.0zM323.6 2404.0h730.0v5.0h-730.0zM323.6 2409.0h735.0v5.0h-735.0zM328.6 2414.0h730.0v5.0h-730.0zM333.6 2419.0h730.0v5.0h-730.0zM338.6 2424.0h730.0v5.0h-730.0zM338.6 2429.0h730.0v5.0h-730.0zM343.6 2434.0h730.0v5.0h-730.0zM348.6 2439.0h730.0v5.0h-730.0zM353.6 2444.0h725.0v5.0h-725.0zM353.6 2449.0h720.0v5.0h-720.0zM358.6 2454.0h710.0v5.0h-710.0zM363.6 2459.0h700.0v5.0h-700.0zM363.6 2464.0h690.0v5.0h-690.0zM368.6 2469.0h680.0v5.0h-680.0zM373.6 2474.0h670.0v5.0h-670.0zM378.6 2479.0h660.0v5.0h-660.0zM378.6 2484.0h655.0v5.0h-655.0zM383.6 2489.0h645.0v5.0h-645.0zM388.6 2494.0h635.0v5.0h-635.0zM393.6 2499.0h620.0v5.0h-620.0zM398.6 2504.0h610.0v5.0h-610.0zM398.6 2509.0h605.0v5.0h-605.0zM403.6 2514.0h595.0v5.0h-595.0zM408.6 2519.0h585.0v5.0h-585.0zM413.6 2524.0h575.0v5.0h-575.0zM418.6 2529.0h565.0v5.0h-565.0zM423.6 2534.0h555.0v5.0h-555.0zM423.6 2539.0h545.0v5.0h-545.0zM428.6 2544.0h535.0v5.0h-535.0zM433.6 2549.0h525.0v5.0h-525.0zM438.6 2554.0h515.0v5.0h-515.0zM443.6 2559.0h505.0v5.0h-505.0zM443.6 2564.0h500.0v5.0h-500.0zM448.6 2569.0h490.0v5.0h-490.0zM453.6 2574.0h480.0v5.0h-480.0zM458.6 2579.0h470.0v5.0h-470.0zM463.6 2584.0h460.0v5.0h-460.0zM463.6 2589.0h455.0v5.0h-455.0zM468.6 2594.0h445.0v5.0h-445.0zM473.6 2599.0h435.0v5.0h-435.0zM478.6 2604.0h425.0v5.0h-425.0zM483.6 2609.0h410.0v5.0h-410.0zM483.6 2614.0h405.0v5.0h-405.0zM488.6 2619.0h395.0v5.0h-395.0zM493.6 2624.0h385.0v5.0h-385.0zM498.6 2629.0h375.0v5.0h-375.0zM503.6 2634.0h365.0v5.0h-365.0zM503.6 2639.0h360.0v5.0h-360.0zM508.6 2644.0h350.0v5.0h-350.0zM513.6 2649.0h340.0v5.0h-340.0zM518.6 2654.0h330.0v5.0h-330.0zM523.6 2659.0h320.0v5.0h-320.0zM528.6 2664.0h310.0v5.0h-310.0zM533.6 2669.0h300.0v5.0h-300.0zM538.6 2674.0h290.0v5.0h-290.0zM538.6 2679.0h285.0v5.0h-285.0zM543.6 2684.0h270.0v5.0h-270.0zM548.6 2689.0h260.0v5.0h-260.0zM553.6 2694.0h250.0v5.0h-250.0zM558.6 2699.0h240.0v5.0h-240.0zM563.6 2704.0h230.0v5.0h-230.0zM573.6 2709.0h215.0v5.0h-215.0zM578.6 2714.0h205.0v5.0h-205.0zM583.6 2719.0h195.0v5.0h-195.0zM588.6 2724.0h180.0v5.0h-180.0zM593.6 2729.0h170.0v5.0h-170.0zM598.6 2734.0h160.0v5.0h-160.0zM603.6 2739.0h150.0v5.0h-150.0zM608.6 2744.0h140.0v5.0h-140.0zM613.6 2749.0h130.0v5.0h-130.0zM613.6 2754.0h125.0v5.0h-125.0zM618.6 2759.0h110.0v5.0h-110.0zM623.6 2764.0h100.0v5.0h-100.0zM628.6 2769.0h90.0v5.0h-90.0zM633.6 2774.0h80.0v5.0h-80.0zM638.6 2779.0h70.0v5.0h-70.0zM643.6 2784.0h60.0v5.0h-60.0zM648.6 2789.0h45.0v5.0h-45.0zM653.6 2794.0h30.0v5.0h-30.0zM658.6 2799.0h15.0v5.0h-15.0z"/></clipPath>
<g stroke="#5a2a6a" stroke-opacity="0.8" stroke-width="0.9" fill="none" clip-path="url(#clip-region-c)"><line x1="276.6" y1="1815.8" x2="286" y2="3217.3"/><line x1="479" y1="1814.8" x2="492.6" y2="3215.3"/><line x1="680.9" y1="1812.7" x2="700.1" y2="3213.2"/><line x1="883.5" y1="1810.1" x2="906.9" y2="3210.1"/><line x1="1085.9" y1="1805.4" x2="1113.6" y2="3205.9"/><line x1="1287.7" y1="1801.3" x2="1321.7" y2="3200.7"/><path d="M185.9 1864.9Q748 1860.3 1310.1 1847.8"/><path d="M187 2098Q751.3 2093.7 1315.7 2081.4"/><path d="M188.2 2331.1Q754.6 2327.1 1321 2315.1"/><path d="M189.4 2564.2Q758 2560.2 1326.7 2548.3"/><path d="M190.6 2797.4Q761.4 2793.4 1332.2 2781.5"/><path d="M191.7 3031.1Q764.7 3027.2 1337.8 3015.3"/></g>
<polygon points="816.9,1949.4 1170.4,2532.3 580.5,2897.4 226.6,2313.2" fill="none" stroke="#0f7416" stroke-width="5.6" stroke-linejoin="miter"/>
<polygon points="770.2,1906.6 1210.3,2406.2 673.3,2887.7 230.5,2387.8" fill="none" stroke="#18cc18" stroke-width="5" stroke-linejoin="miter"/>
<path d="M184 1798.3H1345V3221.7H184" fill="none" stroke="#111" stroke-width="1.3"/>
<rect x="1362.2" y="3199.46" width="36.7" height="22.64" fill="#00008f"/>
<rect x="1362.2" y="3177.22" width="36.7" height="22.64" fill="#00009f"/>
<rect x="1362.2" y="3154.98" width="36.7" height="22.64" fill="#0000af"/>
<rect x="1362.2" y="3132.74" width="36.7" height="22.64" fill="#0000bf"/>
<rect x="1362.2" y="3110.50" width="36.7" height="22.64" fill="#0000cf"/>
<rect x="1362.2" y="3088.26" width="36.7" height="22.64" fill="#0000df"/>
<rect x="1362.2" y="3066.02" width="36.7" height="22.64" fill="#0000ef"/>
<rect x="1362.2" y="3043.77" width="36.7" height="22.64" fill="#0000ff"/>
<rect x="1362.2" y="3021.53" width="36.7" height="22.64" fill="#0010ff"/>
<rect x="1362.2" y="2999.29" width="36.7" height="22.64" fill="#0020ff"/>
<rect x="1362.2" y="2977.05" width="36.7" height="22.64" fill="#0030ff"/>
<rect x="1362.2" y="2954.81" width="36.7" height="22.64" fill="#0040ff"/>
<rect x="1362.2" y="2932.57" width="36.7" height="22.64" fill="#0050ff"/>
<rect x="1362.2" y="2910.33" width="36.7" height="22.64" fill="#0060ff"/>
<rect x="1362.2" y="2888.09" width="36.7" height="22.64" fill="#0070ff"/>
<rect x="1362.2" y="2865.85" width="36.7" height="22.64" fill="#0080ff"/>
<rect x="1362.2" y="2843.61" width="36.7" height="22.64" fill="#008fff"/>
<rect x="1362.2" y="2821.37" width="36.7" height="22.64" fill="#009fff"/>
<rect x="1362.2" y="2799.13" width="36.7" height="22.64" fill="#00afff"/>
<rect x="1362.2" y="2776.89" width="36.7" height="22.64" fill="#00bfff"/>
<rect x="1362.2" y="2754.65" width="36.7" height="22.64" fill="#00cfff"/>
<rect x="1362.2" y="2732.41" width="36.7" height="22.64" fill="#00dfff"/>
<rect x="1362.2" y="2710.17" width="36.7" height="22.64" fill="#00efff"/>
<rect x="1362.2" y="2687.92" width="36.7" height="22.64" fill="#00ffff"/>
<rect x="1362.2" y="2665.68" width="36.7" height="22.64" fill="#10ffef"/>
<rect x="1362.2" y="2643.44" width="36.7" height="22.64" fill="#20ffdf"/>
<rect x="1362.2" y="2621.20" width="36.7" height="22.64" fill="#30ffcf"/>
<rect x="1362.2" y="2598.96" width="36.7" height="22.64" fill="#40ffbf"/>
<rect x="1362.2" y="2576.72" width="36.7" height="22.64" fill="#50ffaf"/>
<rect x="1362.2" y="2554.48" width="36.7" height="22.64" fill="#60ff9f"/>
<rect x="1362.2" y="2532.24" width="36.7" height="22.64" fill="#70ff8f"/>
<rect x="1362.2" y="2510.00" width="36.7" height="22.64" fill="#80ff80"/>
<rect x="1362.2" y="2487.76" width="36.7" height="22.64" fill="#8fff70"/>
<rect x="1362.2" y="2465.52" width="36.7" height="22.64" fill="#9fff60"/>
<rect x="1362.2" y="2443.28" width="36.7" height="22.64" fill="#afff50"/>
<rect x="1362.2" y="2421.04" width="36.7" height="22.64" fill="#bfff40"/>
<rect x="1362.2" y="2398.80" width="36.7" height="22.64" fill="#cfff30"/>
<rect x="1362.2" y="2376.56" width="36.7" height="22.64" fill="#dfff20"/>
<rect x="1362.2" y="2354.32" width="36.7" height="22.64" fill="#efff10"/>
<rect x="1362.2" y="2332.07" width="36.7" height="22.64" fill="#ffff00"/>
<rect x="1362.2" y="2309.83" width="36.7" height="22.64" fill="#ffef00"/>
<rect x="1362.2" y="2287.59" width="36.7" height="22.64" fill="#ffdf00"/>
<rect x="1362.2" y="2265.35" width="36.7" height="22.64" fill="#ffcf00"/>
<rect x="1362.2" y="2243.11" width="36.7" height="22.64" fill="#ffbf00"/>
<rect x="1362.2" y="2220.87" width="36.7" height="22.64" fill="#ffaf00"/>
<rect x="1362.2" y="2198.63" width="36.7" height="22.64" fill="#ff9f00"/>
<rect x="1362.2" y="2176.39" width="36.7" height="22.64" fill="#ff8f00"/>
<rect x="1362.2" y="2154.15" width="36.7" height="22.64" fill="#ff8000"/>
<rect x="1362.2" y="2131.91" width="36.7" height="22.64" fill="#ff7000"/>
<rect x="1362.2" y="2109.67" width="36.7" height="22.64" fill="#ff6000"/>
<rect x="1362.2" y="2087.43" width="36.7" height="22.64" fill="#ff5000"/>
<rect x="1362.2" y="2065.19" width="36.7" height="22.64" fill="#ff4000"/>
<rect x="1362.2" y="2042.95" width="36.7" height="22.64" fill="#ff3000"/>
<rect x="1362.2" y="2020.71" width="36.7" height="22.64" fill="#ff2000"/>
<rect x="1362.2" y="1998.47" width="36.7" height="22.64" fill="#ff1000"/>
<rect x="1362.2" y="1976.22" width="36.7" height="22.64" fill="#ff0000"/>
<rect x="1362.2" y="1953.98" width="36.7" height="22.64" fill="#ef0000"/>
<rect x="1362.2" y="1931.74" width="36.7" height="22.64" fill="#df0000"/>
<rect x="1362.2" y="1909.50" width="36.7" height="22.64" fill="#cf0000"/>
<rect x="1362.2" y="1887.26" width="36.7" height="22.64" fill="#bf0000"/>
<rect x="1362.2" y="1865.02" width="36.7" height="22.64" fill="#af0000"/>
<rect x="1362.2" y="1842.78" width="36.7" height="22.64" fill="#9f0000"/>
<rect x="1362.2" y="1820.54" width="36.7" height="22.64" fill="#8f0000"/>
<rect x="1362.2" y="1798.30" width="36.7" height="22.64" fill="#800000"/>
<rect x="1362.2" y="1798.3" width="36.7" height="1423.4" fill="none" stroke="#222" stroke-width="1"/>
<text transform="translate(1411.4 3237) scale(0.95 1)" font-size="45" font-weight="bold" text-anchor="start">-1</text>
<line x1="1384.4" y1="3079.4" x2="1398.9" y2="3079.4" stroke="#222" stroke-width="1"/>
<text transform="translate(1411.4 3094.7) scale(0.95 1)" font-size="45" font-weight="bold" text-anchor="start">-0.8</text>
<line x1="1384.4" y1="2937" x2="1398.9" y2="2937" stroke="#222" stroke-width="1"/>
<text transform="translate(1411.4 2952.3) scale(0.95 1)" font-size="45" font-weight="bold" text-anchor="start">-0.6</text>
<line x1="1384.4" y1="2794.7" x2="1398.9" y2="2794.7" stroke="#222" stroke-width="1"/>
<text transform="translate(1411.4 2810) scale(0.95 1)" font-size="45" font-weight="bold" text-anchor="start">-0.4</text>
<line x1="1384.4" y1="2652.3" x2="1398.9" y2="2652.3" stroke="#222" stroke-width="1"/>
<text transform="translate(1411.4 2667.6) scale(0.95 1)" font-size="45" font-weight="bold" text-anchor="start">-0.2</text>
<line x1="1384.4" y1="2510" x2="1398.9" y2="2510" stroke="#222" stroke-width="1"/>
<text transform="translate(1411.4 2525.3) scale(0.95 1)" font-size="45" font-weight="bold" text-anchor="start">0</text>
<line x1="1384.4" y1="2367.7" x2="1398.9" y2="2367.7" stroke="#222" stroke-width="1"/>
<text transform="translate(1411.4 2383) scale(0.95 1)" font-size="45" font-weight="bold" text-anchor="start">0.2</text>
<line x1="1384.4" y1="2225.3" x2="1398.9" y2="2225.3" stroke="#222" stroke-width="1"/>
<text transform="translate(1411.4 2240.6) scale(0.95 1)" font-size="45" font-weight="bold" text-anchor="start">0.4</text>
<line x1="1384.4" y1="2083" x2="1398.9" y2="2083" stroke="#222" stroke-width="1"/>
<text transform="translate(1411.4 2098.3) scale(0.95 1)" font-size="45" font-weight="bold" text-anchor="start">0.6</text>
<line x1="1384.4" y1="1940.6" x2="1398.9" y2="1940.6" stroke="#222" stroke-width="1"/>
<text transform="translate(1411.4 1955.9) scale(0.95 1)" font-size="45" font-weight="bold" text-anchor="start">0.8</text>
<text transform="translate(1411.4 1813.6) scale(0.95 1)" font-size="45" font-weight="bold" text-anchor="start">1</text>
<text transform="translate(1400.6 1786) scale(0.95 1)" font-size="45" font-weight="bold" text-anchor="start"><tspan font-size="55" font-weight="normal" dy="4.5">×</tspan><tspan dx="4.2" dy="-6.4">10</tspan><tspan font-size="34" dy="-20.6" dx="1">-5</tspan></text>
<text transform="translate(1536.6 2510) rotate(-90) scale(0.965 1)" font-size="45" font-weight="bold" text-anchor="middle">Divergence (s<tspan font-size="34" dy="-21">-1</tspan><tspan dy="21">)</tspan></text>
<text transform="translate(13.1 1888.8) scale(0.95 1)" font-size="45" font-weight="bold" text-anchor="start">77.45<tspan font-weight="normal" font-size="42" dy="-17.5" dx="-2.0">°</tspan><tspan dy="17.5" dx="10.0">N</tspan></text>
<text transform="translate(14.2 2121.9) scale(0.95 1)" font-size="45" font-weight="bold" text-anchor="start">77.40<tspan font-weight="normal" font-size="42" dy="-17.5" dx="-2.0">°</tspan><tspan dy="17.5" dx="10.0">N</tspan></text>
<text transform="translate(15.4 2355) scale(0.95 1)" font-size="45" font-weight="bold" text-anchor="start">77.35<tspan font-weight="normal" font-size="42" dy="-17.5" dx="-2.0">°</tspan><tspan dy="17.5" dx="10.0">N</tspan></text>
<text transform="translate(16.6 2588.1) scale(0.95 1)" font-size="45" font-weight="bold" text-anchor="start">77.30<tspan font-weight="normal" font-size="42" dy="-17.5" dx="-2.0">°</tspan><tspan dy="17.5" dx="10.0">N</tspan></text>
<text transform="translate(17.8 2821.3) scale(0.95 1)" font-size="45" font-weight="bold" text-anchor="start">77.25<tspan font-weight="normal" font-size="42" dy="-17.5" dx="-2.0">°</tspan><tspan dy="17.5" dx="10.0">N</tspan></text>
<text transform="translate(18.9 3055) scale(0.95 1)" font-size="45" font-weight="bold" text-anchor="start">77.20<tspan font-weight="normal" font-size="42" dy="-17.5" dx="-2.0">°</tspan><tspan dy="17.5" dx="10.0">N</tspan></text>
<text transform="translate(200.1 3321.8) scale(0.95 1)" font-size="45" font-weight="bold" text-anchor="start">146.60<tspan font-weight="normal" font-size="42" dy="-17.5" dx="-2.0">°</tspan><tspan dy="17.5" dx="10.0">W</tspan></text>
<text transform="translate(405.9 3319.6) scale(0.95 1)" font-size="45" font-weight="bold" text-anchor="start">146.40<tspan font-weight="normal" font-size="42" dy="-17.5" dx="-2.0">°</tspan><tspan dy="17.5" dx="10.0">W</tspan></text>
<text transform="translate(613 3316.9) scale(0.95 1)" font-size="45" font-weight="bold" text-anchor="start">146.20<tspan font-weight="normal" font-size="42" dy="-17.5" dx="-2.0">°</tspan><tspan dy="17.5" dx="10.0">W</tspan></text>
<text transform="translate(820.2 3313.8) scale(0.95 1)" font-size="45" font-weight="bold" text-anchor="start">146.00<tspan font-weight="normal" font-size="42" dy="-17.5" dx="-2.0">°</tspan><tspan dy="17.5" dx="10.0">W</tspan></text>
<text transform="translate(1027.5 3310.4) scale(0.95 1)" font-size="45" font-weight="bold" text-anchor="start">145.80<tspan font-weight="normal" font-size="42" dy="-17.5" dx="-2.0">°</tspan><tspan dy="17.5" dx="10.0">W</tspan></text>
<text transform="translate(1235 3306.2) scale(0.95 1)" font-size="45" font-weight="bold" text-anchor="start">145.60<tspan font-weight="normal" font-size="42" dy="-17.5" dx="-2.0">°</tspan><tspan dy="17.5" dx="10.0">W</tspan></text>
<g stroke="#222" stroke-width="1" fill="none">
<path d="M998.5 3078.6H1208.4"/>
<path d="M998.5 3078.6v-6"/>
<path d="M1009 3078.6v-4"/>
<path d="M1019.5 3078.6v-4"/>
<path d="M1030 3078.6v-4"/>
<path d="M1040.5 3078.6v-7"/>
<path d="M1082.5 3078.6v-7"/>
<path d="M1124.4 3078.6v-7"/>
<path d="M1208.4 3078.6v-7"/>
</g>
<text transform="translate(999 3062.3)" font-size="42" font-weight="bold" text-anchor="middle">1</text>
<text transform="translate(1041 3062.3)" font-size="42" font-weight="bold" text-anchor="middle">0</text>
<text transform="translate(1083 3062.3)" font-size="42" font-weight="bold" text-anchor="middle">1</text>
<text transform="translate(1124.9 3062.3)" font-size="42" font-weight="bold" text-anchor="middle">2</text>
<text transform="translate(1195 3062.3)" font-size="42" font-weight="bold" text-anchor="middle">4</text>
<text transform="translate(1216.4 3062.3)" font-size="42" font-weight="bold" text-anchor="start">km</text>
<text font-size="90" y="3439.5"><tspan x="733.3" font-weight="normal" font-size="88">(</tspan><tspan x="761.5" font-weight="bold">c</tspan><tspan x="798" font-weight="normal" font-size="88">)</tspan></text>
</g>
</svg>
</body></html>
